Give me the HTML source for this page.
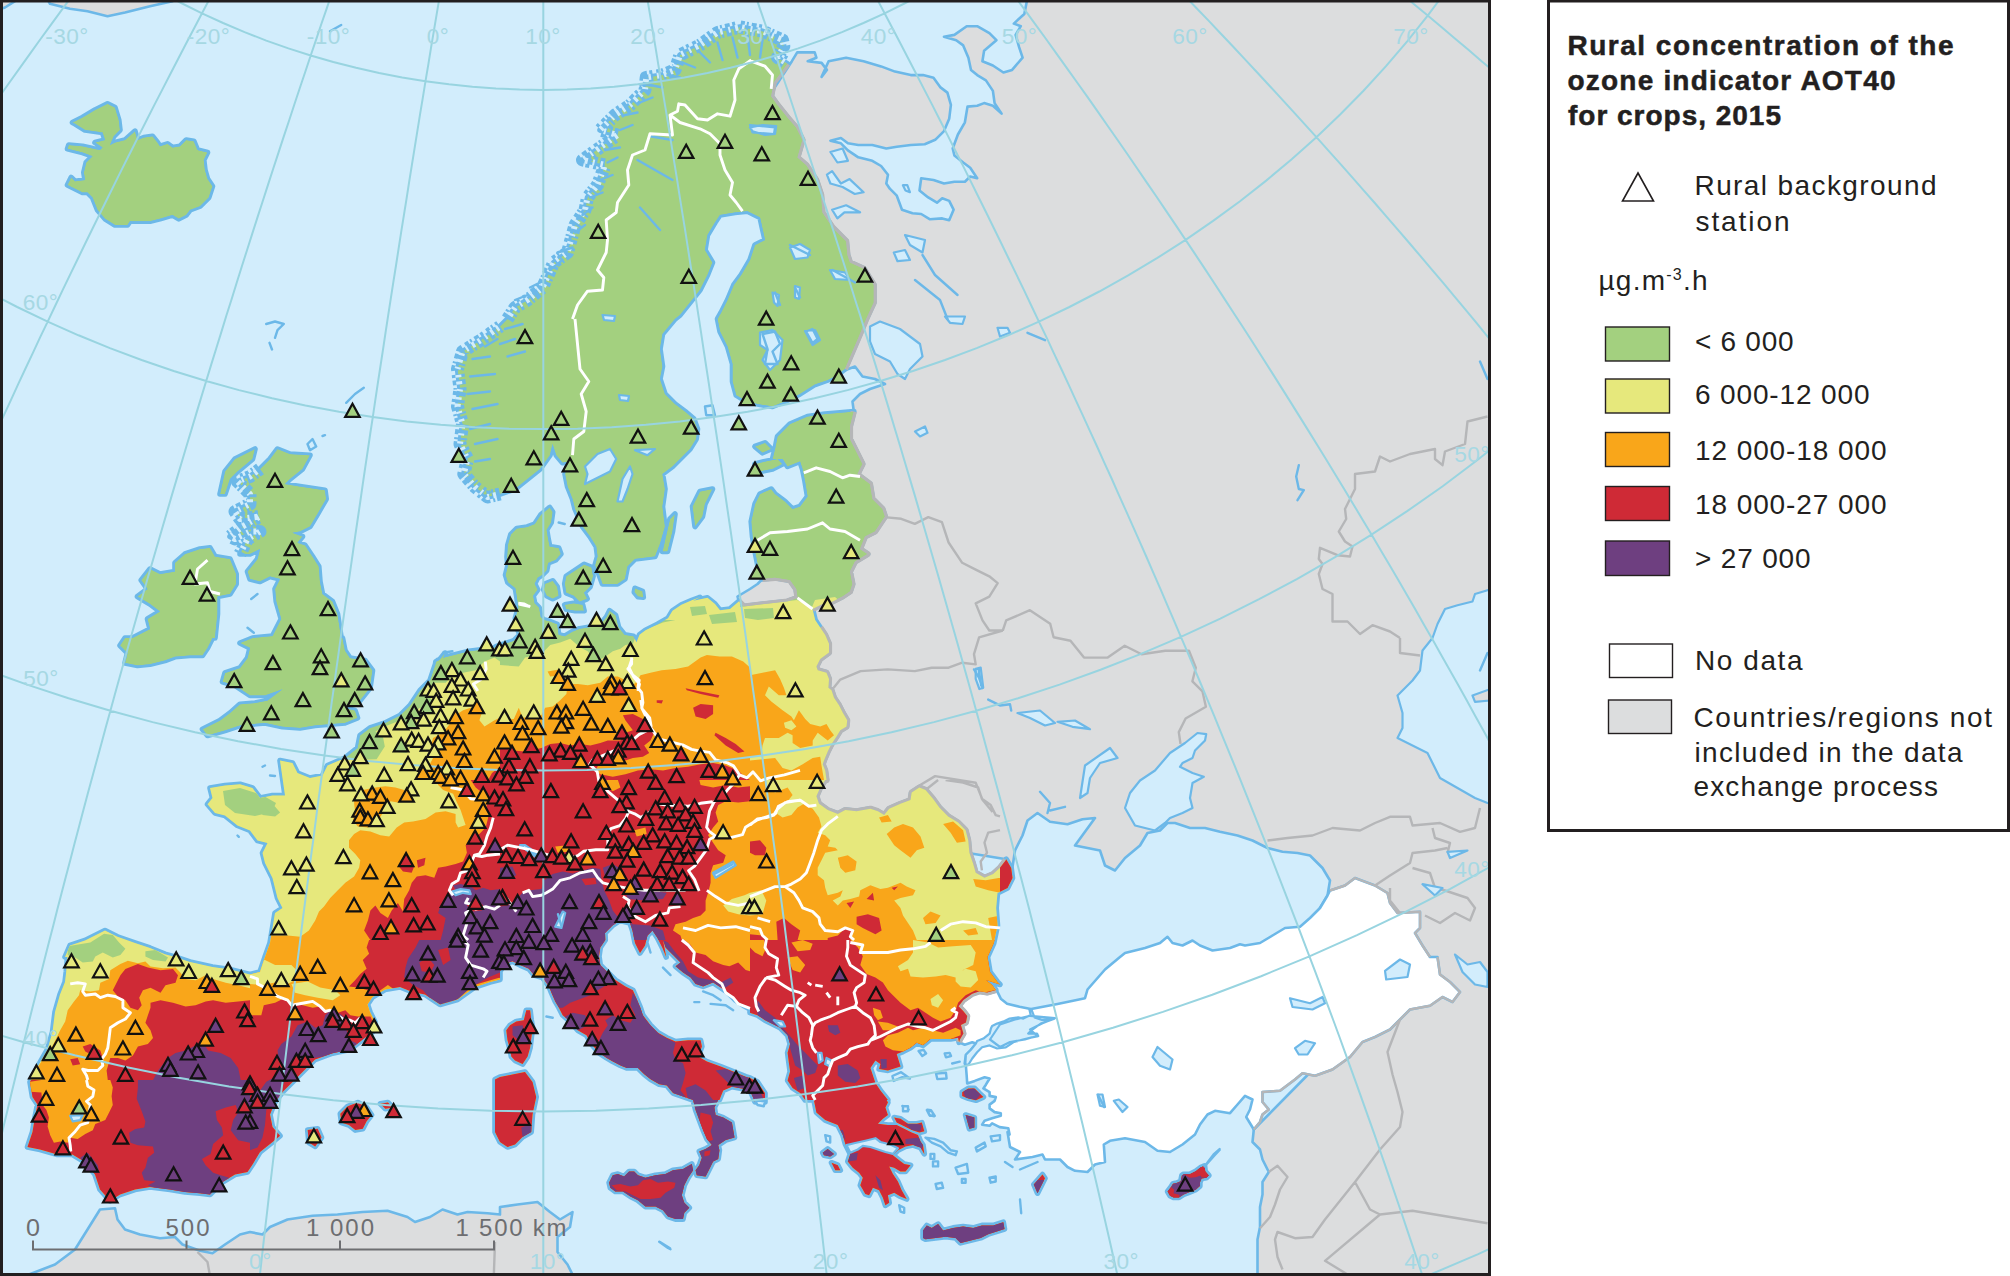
<!DOCTYPE html><html><head><meta charset="utf-8"><title>Rural concentration of the ozone indicator AOT40 for crops, 2015</title><style>
html,body{margin:0;padding:0;background:#fff}body{width:2010px;height:1276px;position:relative;overflow:hidden;font-family:"Liberation Sans",sans-serif;color:#231f20}
.t{position:absolute;white-space:nowrap;line-height:1;font-size:27.5px}
.b{font-weight:bold}
</style></head><body>
<svg width="2010" height="1276" viewBox="0 0 2010 1276" style="position:absolute;left:0;top:0">
<defs><clipPath id="mapclip"><rect x="0" y="0" width="1490" height="1275"/></clipPath>
<clipPath id="land"><path d="M445,653 L435,665.5 L430,680.5 L420,690.5 L410,705.5 L400,715.5 L385,723 L370,728 L360,735.5 L357.5,748 L345,758 L327.5,765.5 L322.5,775.5 L310,778 L297.5,773 L292.5,763 L280,760.5 L282.5,778 L285,795.5 L272.5,795.5 L260,798 L252.5,788 L240,784.2 L225,785.5 L210,788 L212.5,798 L207.5,804.2 L215,813 L225,815.5 L237.5,825.5 L250,830.5 L257.5,840.5 L267.5,843 L262.5,853 L265,863 L272.5,878 L275,888 L277.5,898 L282.5,908 L275,913 L272.5,928 L270,943 L265,957 L265,957 L260,972 L250,974.5 L230,969.5 L212.5,967 L190,962 L175,957 L165,954.2 L150,948 L135,943 L117.5,936.8 L105,930.5 L85,940.5 L70,945.5 L65,957 L67.5,957 L66.2,972 L65,982 L60,994.5 L55,1012 L52.5,1032 L47.5,1049.5 L37.5,1067 L30,1082 L32.5,1097 L37.5,1104.5 L35,1117 L32.5,1132 L27.5,1147 L40,1149.5 L57.5,1154.5 L72.5,1154.5 L85,1162 L95,1174.5 L100,1189.5 L110,1200.8 L120,1194.5 L135,1189.5 L150,1187 L170,1189.5 L185,1192 L200,1193.2 L210,1194.5 L222.5,1182 L235,1174.5 L247.5,1172 L252.5,1164.5 L260,1152 L272.5,1142 L280,1135.8 L272.5,1127 L270,1114.5 L275,1102 L282.5,1092 L292.5,1082 L302.5,1072 L315,1059.5 L332.5,1053.2 L350,1049.5 L362.5,1039.5 L372.5,1032 L375,1022 L370,1012 L367.5,1004.5 L372.5,997 L385,989.5 L400,987 L412.5,992 L425,994.5 L440,1004.5 L457.5,999.5 L475,987 L490,982 L500,979.5 L500,971.3 L505,963.8 L512.5,961.3 L520.1,965.1 L528.8,968.8 L533.9,975.1 L542.6,977.6 L548.9,986.4 L551.4,992.7 L555.2,1001.4 L558.9,1007.7 L562.7,1015.2 L570.2,1021.5 L577.7,1030.3 L586.5,1035.3 L591.5,1044.1 L599,1052.8 L606.6,1057.9 L612.8,1061.6 L620.4,1065.4 L626.6,1067.9 L637.9,1067.9 L644.2,1074.2 L650.5,1079.2 L659.2,1084.2 L666.8,1085.4 L673,1093 L693.1,1100 L695.6,1110 L699.3,1120.1 L703.1,1130.1 L706.9,1138.9 L711.9,1145.1 L705.6,1148.9 L699.3,1151.4 L701.9,1157.7 L699.3,1165.2 L695.6,1170.2 L696.8,1175.2 L705.6,1176.5 L709.4,1169 L713.1,1161.4 L718.2,1158.9 L719.4,1150.2 L718.2,1145.1 L725.7,1140.1 L734.5,1137.6 L733.2,1130.1 L731.9,1122.6 L723.2,1117.6 L715.6,1115 L714.4,1107.5 L718.2,1100 L719.4,1100 L723.2,1090.5 L731.9,1086.7 L745.7,1089.2 L750,1090.5 L755,1102 L765,1102 L765,1093.2 L757.5,1082 L750,1077.9 L745.7,1076.7 L733.2,1071.6 L720.7,1066.6 L706.9,1061.6 L698.1,1056.6 L701.9,1046.6 L700.6,1040.3 L688.1,1040.3 L675.5,1041.6 L666.8,1037.8 L658,1032.8 L650.5,1025.3 L642.9,1015.2 L640.4,1007.7 L636.7,998.9 L632.9,990.2 L625.4,986.4 L615.3,980.1 L607.8,972.6 L600.3,965.1 L599,956.3 L600.3,947.5 L605.3,940 L605,933 L612.5,925.5 L620,920.5 L630,923 L632.5,930.5 L635,943 L640,953 L645,945.5 L647.5,935.5 L652.5,930.5 L657.5,938 L662.5,948 L666.2,957 L663,940 L665.5,947.5 L673,955 L680.5,962.6 L675.5,966.3 L683,972.6 L690.6,977.6 L695.6,983.9 L703.1,986.4 L713.1,982.6 L720.7,987.6 L728.2,992.7 L735.7,1000.2 L743.2,1005.2 L750,1009 L750,1012.7 L757.5,1015.2 L765,1020.2 L772.6,1024 L780.1,1027.8 L787.6,1035.3 L790.1,1044.1 L787.6,1052.8 L788.9,1062.9 L790.1,1071.6 L787.6,1080.4 L792.6,1087.9 L800.2,1093 L805.2,1100 L813.9,1100 L816.4,1112.5 L825.2,1120.1 L837.8,1125.1 L842.8,1135.1 L845.3,1143.9 L850.3,1153.9 L847.8,1161.4 L852.8,1167.7 L859.1,1172.7 L862.8,1177.7 L860.3,1185.3 L865.3,1194 L869.1,1195.3 L872.9,1187.8 L879.1,1190.3 L882.9,1197.8 L885.4,1205.3 L889.2,1202.8 L887.9,1195.3 L894.2,1192.8 L900.5,1196.5 L906.7,1199 L901.7,1190.3 L897.9,1181.5 L892.9,1174 L889.2,1166.4 L894.2,1167.7 L900.5,1171.5 L905.5,1171.5 L910.5,1165.2 L904.2,1163.9 L899.2,1160.2 L892.9,1155.2 L897.9,1150.2 L905.5,1146.4 L913,1145.1 L920.5,1147.6 L924.3,1153.9 L923,1145.1 L920.5,1141.4 L918,1135.1 L911.7,1132.6 L904.2,1128.8 L896.7,1125.1 L887.9,1125.1 L877.9,1123.8 L882.9,1118.8 L887.9,1115 L885.4,1107.5 L887.9,1102.5 L886.7,1100 L887.9,1100 L885.4,1096.7 L880.4,1090.5 L875.4,1082.9 L872.9,1075.4 L870.4,1067.9 L875.4,1060.4 L880.4,1064.1 L879.1,1069.1 L887.9,1070.4 L900.5,1066.6 L897.9,1057.9 L896.7,1054.1 L903,1051.6 L910.5,1047.8 L916.8,1042.8 L923,1045.3 L930.5,1039 L940.6,1039 L950.6,1039 L958.1,1037.8 L959.1,1042.3 L959.7,1039.8 L963.4,1033.6 L960.9,1024.9 L965.9,1022.4 L967.2,1016.1 L963.4,1011.2 L958.5,1006.2 L963.4,999.9 L972.2,993.7 L979.6,991.2 L987.1,992.5 L995.8,990 L995.8,990 L992.1,985 L985.9,980 L1000,984.5 L997.5,982 L990,972 L987.5,957 L987.5,957 L993.8,943 L997.5,925.5 L996.2,908 L997.5,893 L1007.5,888 L1012.5,878 L1011.2,868 L1006.2,859.2 L1005.8,860.2 L1000,867.8 L993.2,874 L984.5,877.8 L975.7,872.8 L973.2,864 L969.4,852.7 L968.2,840.2 L965.6,830.2 L958.1,822.6 L948.1,816.4 L939.3,807.6 L933,798.8 L925.5,790 L919.3,787.5 L911.7,792.5 L910.5,800.1 L900.5,803.8 L889.2,808.8 L884.2,815.1 L877.9,811.3 L870.4,808.8 L856.6,811.3 L845.3,810.1 L837.8,813.9 L827.7,810.1 L819,803.8 L816.4,796.3 L820.2,787.5 L825.2,780 L826.5,780 L825.2,770.5 L822.7,764.2 L824,760.4 L827.7,751.6 L831.5,744.1 L836.5,736.6 L840.3,730.3 L846.5,726.6 L847.2,720.3 L842.8,712.8 L839,705.3 L834,697.7 L831.5,690.2 L828.4,687.7 L829,678.9 L826.5,672.7 L817.7,670.2 L816.4,666.4 L820.2,658.9 L829,652.6 L829,643.8 L825.2,635 L820.2,627.5 L815.2,620 L812.5,609 L822.5,604 L832.5,601.5 L842.5,596.5 L850,591.5 L852.5,584 L850,571.5 L855,561.5 L867.5,554 L860,549 L865,536.5 L875,531.5 L885,516.5 L882.5,509 L872.5,499 L870,484 L860,476.5 L857.5,474 L862.5,464 L857.5,454 L850,439 L850,426.5 L853.8,411.5 L853.8,411.5 L840,412.8 L825,414 L807.5,416.5 L790,424 L777.5,436.5 L775,449 L772.5,459 L782.5,459 L787.5,466.5 L800,461.5 L802.5,469 L805,481.5 L807.5,496.5 L800,506.5 L792.5,509 L785,501.5 L775,494 L771.2,489 L760,494 L755,504 L751.2,521.5 L752.5,536.5 L755,551.5 L757.5,564 L762.5,579 L762.5,579 L775,577.8 L790,580.2 L796.2,589 L797.5,597.8 L787.5,601.5 L765,604 L743.8,606.5 L738.8,601.5 L738.8,601.5 L730,609 L720,610.2 L715,604 L707.5,597.8 L690,601.5 L672.5,611.5 L700,597.3 L691.9,600.3 L681.4,604.8 L672.5,610.8 L668,618.3 L657.5,624.3 L645.5,630.2 L639.5,634.7 L636.5,642.2 L633.5,636.2 L624.6,634.7 L618.6,627.2 L615.6,615.3 L609.6,610.8 L606.6,616.8 L599.1,625.7 L588.6,627.2 L579.6,628.7 L572.2,631.7 L564.7,636.2 L558.7,634.7 L557.2,624.3 L549.7,621.3 L543.7,619.8 L540.7,616.8 L539.2,607.8 L534.7,603.3 L533.2,595.8 L537.7,589.8 L534.7,583.8 L537.7,577.8 L542.2,574.9 L546.7,570.4 L548.2,562.9 L555.7,559.9 L560.9,553.9 L558.7,547.9 L549.7,546.4 L548.2,538.9 L546.7,529.9 L551.2,522.5 L552.7,512 L549.7,507.5 L540.7,515 L534.7,524 L527.2,526.9 L516.8,528.4 L510.8,534.4 L507.8,544.9 L507,556.9 L507.8,565.9 L505.5,574.9 L507.8,582.3 L515.3,588.3 L516.8,597.3 L518.3,607.8 L515.3,618.3 L516.8,627.2 L519.8,634.7 L513.8,640.7 L504.8,643.7 L495.8,646.7 L489.8,651.2 L480.8,649.7 L468.9,651.2 L456.9,654.2 L444.9,657.2 L435.9,661.7 L432.9,676.6 L431.4,691ZM787.5,63.8 L781.2,72.5 L773.8,82.5 L771.2,96.2 L777.5,105 L787.5,117.5 L796.2,127.5 L802.5,140 L797.5,157.5 L806.2,165 L816.2,180 L821.2,195 L822.5,212.5 L832.5,227.5 L846.2,241.2 L847.5,255 L850,262.5 L863.8,268.8 L873.8,285 L873.8,302.5 L866.2,319 L860,334 L852.5,351.5 L845,369 L835,376.5 L827.5,380.2 L815,384.5 L800,394 L785,401.5 L772.5,406.5 L760,404.5 L747.5,402 L736.2,395.2 L732.5,381.5 L732.5,364 L727.5,346.5 L720,331.5 L717.5,319 L721.2,312.5 L727.5,300 L733.8,285 L741.2,275 L750,260 L755,245 L765,240 L762.5,228.8 L760,217.5 L747.5,211.2 L735,212.5 L720,215 L715,222.5 L707.5,235 L705,250 L712.5,262.5 L707.5,275 L700,290 L690,302.5 L680,315 L675,319 L662.5,334 L660,349 L662.5,366.5 L660,379 L665,394 L675,404 L685,411.5 L693.8,419 L697.5,429 L696.2,439 L690,449 L680,459 L672.5,466.5 L662.5,474 L665,489 L662.5,506.5 L665,526.5 L660,544 L655,556.5 L635,559 L627.5,566.5 L625,579 L617.5,584 L602.5,584 L598.8,574 L595,565.2 L597.5,556.5 L596.2,546.5 L590,536.5 L582.5,526.5 L575,509 L572.5,499 L567.5,486.5 L565,474 L568.8,461.5 L562.5,462.8 L556.2,455.2 L552.5,444 L550,455.2 L540,469 L527.5,479 L515,489 L500,494 L500,494 L487.5,497 L475,487 L463.8,474 L467.5,459 L460,444 L462.5,424 L457.5,406.5 L460,389 L457.5,369 L462.5,351.5 L482.5,339 L500,326.5 L507.5,319 L515,307.5 L527.5,300 L542.5,287.5 L553.8,262.5 L567.5,252.5 L575,225 L585,210 L587.5,197.5 L597.5,185 L605,165 L582.5,160 L600,147.5 L617.5,135 L600,130 L615,115 L630,105 L645,90 L646.2,77.5 L662.5,75 L675,70 L680,55 L700,45 L717.5,32.5 L740,27 L762.5,31.2 L782.5,40 L783.8,46.2 L777.5,57.5 L787.5,63.8ZM72.5,122.5 L82.5,117.5 L95,110 L107.5,103.8 L115,107.5 L118.8,120 L120,130 L113.8,136.2 L110,145 L115,142.5 L125,140 L135,131.2 L137.5,140 L143.8,137.5 L152.5,136.2 L157.5,142.5 L160,146.2 L167.5,143.8 L172.5,147.5 L180,146.2 L186.2,140 L193.8,141.2 L197.5,150 L207.5,152.5 L203.8,160 L205,170 L207.5,178.8 L212.5,186.2 L208.8,197.5 L200,206.2 L190,210 L186.2,215 L178.8,218.8 L172.5,215 L160,218.8 L150,221.2 L130,221.2 L127.5,225 L115,225 L105,218.8 L97.5,210 L92.5,197.5 L87.5,192.5 L82.5,192.5 L67.5,185 L71.2,177.5 L75,181.2 L85,180 L83.8,172.5 L86.2,162.5 L92.5,156.2 L82.5,152.5 L67.5,148.8 L68.8,145 L82.5,146.2 L93.8,148.8 L100,150 L102.5,147.5 L95,142.5 L105,140 L102.5,132.5 L85,130 L75,123.8ZM220,494 L225,471.5 L235,459 L255,449 L252.5,459 L237.5,471.5 L230,479 L225,494ZM692.5,506.5 L700,491.5 L712.5,489 L705,504 L702.5,516.5 L695,526.5ZM662.5,551.5 L670,519 L675,514 L672.5,531.5 L667.5,551.5ZM755,464 L765,461.5 L777.5,459 L782.5,464 L772.5,469 L760,471.5ZM755,446.5 L765,442.8 L771.2,449 L762.5,452.8ZM132.5,638 L150,629 L147.5,619 L160,611.5 L150,604 L137.5,596.5 L147.5,589 L141.2,580.2 L150,569 L160,574 L175,571.5 L175,562.8 L185,554 L200,549 L210,547.8 L215,556.5 L230,559 L236.2,574 L236.2,584 L230,594 L217.5,596.5 L217.5,614 L215,638 L212.5,638 L207.5,648 L202.5,655.5 L190,655.5 L175,656.8 L165,660.5 L150,664.2 L137.5,665.5 L125,663 L127.5,653 L120,645.5 L125,638ZM277.5,449 L290,454 L310,455.2 L302.5,469 L290,479 L285,484 L300,486.5 L325,490.2 L326.2,499 L317.5,514 L310,526.5 L300,531.5 L292.5,532.8 L302.5,536.5 L297.5,542.8 L305,545.2 L312.5,556.5 L318.8,566.5 L320,581.5 L322.5,594 L332.5,601.5 L337.5,614 L341.2,638 L342.5,638 L345,650.5 L350,658 L365,660.5 L372.5,670.5 L370,688 L360,700.5 L345,708 L355,710.5 L357.5,718 L345,723 L330,724.2 L315,725.5 L300,728 L282.5,726.8 L265,723 L252.5,724.2 L240,725.5 L225,730.5 L207.5,735.5 L202.5,729.2 L220,720.5 L230,713 L240,704.2 L255,703 L267.5,700.5 L282.5,689.2 L265,695.5 L250,695.5 L235,685.5 L222.5,681.8 L225,673 L240,668 L247.5,658 L250,648 L240,643 L252.5,638 L252.5,638 L272.5,636 L281.2,619 L276.2,601.5 L275,589 L280,579 L270,576.5 L260,581.5 L250,579 L247.5,571.5 L257.5,559 L260,549 L250,554 L240,554 L247.5,539 L260,531.5 L250,531.5 L235,539 L230,536.5 L242.5,526.5 L260,516.5 L240,519 L235,511.5 L250,504 L250,494 L237.5,481.5 L250,476.5 L260,469 L270,459 L277.5,449ZM1167.6,1191.5 L1171.2,1186.7 L1173,1183.7 L1176.6,1183.1 L1180.7,1181.3 L1181.9,1175.4 L1183.7,1174.2 L1189.7,1174.2 L1195.7,1171.2 L1200.4,1167.6 L1204.6,1165.8 L1205.2,1171.2 L1208.8,1175.4 L1206.4,1177.8 L1201.6,1178.4 L1199.9,1182.5 L1199.9,1186.1 L1195.7,1189.7 L1189.7,1192.1 L1183.7,1194.5 L1179,1197.5 L1173.6,1197.5 L1170,1195.7ZM1033.8,1184.5 L1042.5,1174.5 L1045,1178.2 L1037.5,1193.2ZM495,1079.5 L500,1077 L512.5,1074.5 L525,1072 L532.5,1082 L536.2,1097 L532.5,1114.5 L531.2,1132 L522.5,1137 L515,1144.5 L507.5,1147 L500,1142 L495,1132ZM545.2,583.8 L552.7,580.8 L557.2,586.8 L558.7,595.8 L552.7,598.8 L546.7,595.8 L543.7,589.8ZM566.2,576.3 L575.1,570.4 L584.1,564.4 L591.6,567.4 L593.1,576.3 L590.1,586.8 L584.1,592.8 L587.1,598.8 L579.6,601.8 L573.7,595.8 L566.2,592.8 L564.7,583.8ZM564.7,604.8 L573.7,603.3 L582.6,604.8 L584.1,610.8 L575.1,610.8 L566.2,609.3ZM635,588.3 L642.5,591.3 L643.3,597.3 L638,596.6 L634.3,592.1ZM962.2,1092.2 L968.4,1088.4 L974.7,1088.4 L979.6,1093.4 L983.4,1097.1 L975.9,1100.3 L968.4,1098.4 L962.2,1095.9ZM506.3,1030.3 L510,1025.3 L516.3,1021.5 L523.8,1020.2 L526.3,1010.2 L530.1,1010.2 L531.3,1020.2 L532.6,1027.8 L531.3,1037.8 L530.1,1047.8 L527.6,1056.6 L522.6,1064.1 L515,1060.4 L511.3,1056.6 L510,1049.1 L507.5,1040.3ZM307.7,1130.1 L317.7,1128.8 L321.5,1137.6 L315.2,1146.4 L308.9,1142.6ZM340.3,1113.8 L347.8,1106.3 L357.8,1102.5 L366.6,1107.5 L371.6,1115 L366.6,1121.3 L362.8,1128.8 L355.3,1130.1 L349,1125.1 L341.5,1122.6ZM380.4,1103.8 L387.9,1102.5 L392.9,1107.5 L385.4,1108.8ZM609.1,1182.7 L612.8,1175.2 L617.9,1174 L624.1,1176.5 L629.1,1171.5 L634.2,1171.5 L637.9,1175.2 L645.4,1177.7 L655.5,1175.2 L665.5,1174 L673,1170.2 L683,1169 L691.8,1163.9 L693.1,1170.2 L688.1,1177.7 L684.3,1185.3 L681.8,1195.3 L684.3,1202.8 L689.3,1207.8 L684.3,1212.8 L683,1219.1 L675.5,1219.1 L668,1216.6 L663,1210.3 L655.5,1206.6 L645.4,1206.6 L637.9,1200.3 L630.4,1196.5 L622.9,1191.5 L615.3,1191.5 L610.3,1187.8ZM894.2,1117.6 L900.5,1118.8 L908,1123.8 L916.8,1123.8 L921.8,1122.6 L924.3,1131.3 L919.3,1132.6 L911.7,1130.1 L904.2,1126.3 L896.7,1122.6ZM923,1237.9 L923,1230.4 L926.8,1225.4 L931.8,1227.9 L938.1,1224.1 L943.1,1230.4 L953.1,1227.9 L963.1,1226.6 L973.2,1227.9 L981.9,1225.4 L993.2,1225.4 L1003.3,1222.2 L1004.5,1229.1 L988.2,1234.2 L980.7,1237.9 L970.7,1240.4 L960.6,1242.9 L955.6,1237.9 L945.6,1236.7 L935.6,1237.9 L925.5,1239.2ZM822.7,1152.7 L827.7,1148.9 L834,1153.9 L830.2,1156.4 L824,1155.2ZM831.5,1162.7 L837.8,1165.2 L840.3,1170.2 L835.3,1170.2ZM965.6,1115 L974.4,1117.6 L974.4,1127.6 L969.4,1128.8Z"/></clipPath></defs>
<g clip-path="url(#mapclip)">
<rect x="0" y="0" width="1490" height="1276" fill="#d2edfc"/>
<path d="M791.9,61.2 L797.2,52.4 L814.7,52.4 L816.4,57.7 L807.7,61.2 L821.6,62.9 L826.9,69.9 L821.6,76.9 L828.6,61.2 L846.1,57.7 L863.6,61.2 L881.1,66.4 L895,71.6 L910.8,75.1 L923,75.1 L933.5,77.8 L940.5,87.4 L947.4,92.6 L950.9,104.8 L949.2,118.8 L944,131.1 L935.2,139.8 L924.7,144.2 L910.8,145 L896.8,146.8 L886.3,148.5 L872.3,145 L858.3,145 L847.9,143.3 L840.9,138 L830.4,140.7 L840.9,143.3 L847.9,150.3 L858.3,157.3 L872.3,160.8 L881.1,166 L888,174.7 L886.3,183.5 L889.8,188.7 L896.8,195.7 L902,209.7 L912.5,213.2 L921.2,214 L930,219.3 L942.2,218.4 L949.2,220.2 L953.6,209.7 L949.2,200.9 L942.2,198.3 L937,202.7 L928.2,197.4 L919.5,190.5 L921.2,178.2 L933.5,180 L944,183.5 L954.4,181.7 L964.9,181.7 L970.2,176.5 L977.2,178.2 L970.2,167.7 L963.2,162.5 L954.4,155.5 L952.7,148.5 L957.9,134.5 L964.9,122.3 L967.5,106.6 L977.2,105.7 L984.1,103.1 L992.9,105.7 L1001.6,113.6 L994.6,103.1 L992.9,90.9 L985.9,80.4 L977.2,75.1 L971,69.9 L968.4,57.7 L963.2,45.4 L956.2,40.2 L944,36.7 L954.4,34.9 L966.7,26.2 L977.2,26.2 L989.4,33.2 L996.4,40.2 L984.1,50.7 L982.4,61.2 L992.9,65.5 L1003.4,72.5 L1012.1,69.9 L1022.6,57.7 L1019.1,47.2 L1015.6,34.9 L1020.8,26.2 L1013.8,23.6 L1024.3,14 L1027.8,-3.5 L1500,-10 L1500,1290 L1257.5,1279.5 L1257.5,1257 L1257.5,1239.5 L1260,1227 L1260,1207 L1262.5,1194.5 L1262.5,1182 L1268.8,1172 L1262.5,1159.5 L1260,1149.5 L1252.5,1142 L1253.8,1129.5 L1350,1032 L1350,913 L1320,908 L1327.5,895.5 L1330,880.5 L1322.5,868 L1310,855.5 L1297.5,853 L1282.5,851.8 L1267.5,848 L1252.5,840.5 L1237.5,835.5 L1220,831.8 L1205,828 L1190,828 L1175,823 L1167.5,823 L1160,830.5 L1147.5,833 L1140,845.5 L1125,858 L1115,870.5 L1105,865.5 L1100,850.5 L1075,845.5 L1095,818 L1082.5,819.2 L1067.5,824.2 L1050,821.8 L1037.5,813 L1027.5,820.5 L1022.5,835.5 L1015,850.5 L1011.2,875.5 L1006.2,859.2 L950,850 L900,830 L840,830 L800,790 L790,650 L800,600 L840,530 L830,430 L853.8,411.5 L852.5,401.5 L860,394 L870,389 L885,384 L875,379 L862.5,376.5 L855,366.5 L845,370.2 L840,300 L790,200 L760,110ZM762.5,579 L775,577.8 L790,580.2 L796.2,589 L797.5,597.8 L787.5,601.5 L765,604 L743.8,606.5 L738.8,601.5 L737.5,596.5 L750,589 L757.5,584ZM45,-5 L50,3.8 L70,8.8 L87.5,11.2 L107.5,16.2 L125,12.5 L150,6.2 L172.5,1.2 L175,-5ZM-2.5,-2.5 L15,1.2 L5,7.5 L-2.5,10ZM25,1276 L55,1264.5 L75,1249.5 L87.5,1229.5 L100,1209.5 L115,1208.2 L117.5,1219.5 L125,1229.5 L140,1234.5 L160,1238.2 L175,1237 L182.5,1244.5 L200,1250.8 L212.5,1253.2 L225,1244.5 L240,1234.5 L250,1232 L262.5,1234.5 L270,1227 L287.5,1219.5 L312.5,1215.8 L337.5,1214.5 L362.5,1212 L387.5,1210.8 L407.5,1217 L415,1222 L430,1217 L442.5,1209.5 L457.5,1214.5 L467.5,1212 L487.5,1213.2 L500,1214.5 L500,1207 L517.5,1204.5 L537.5,1202 L550,1212 L560,1219.5 L572.5,1212 L570,1227 L557.5,1237 L557.5,1252 L567.5,1264.5 L575,1279.5 L560,1290 L-10,1290Z" fill="#dcddde" stroke="#6cb8e8" stroke-width="2.6" stroke-linejoin="round"/>
<path d="M995.8,990 L997.1,991.2 L1000.8,998.7 L1007.1,1003.7 L1019.5,1006.8 L1029.5,1008.7 L1031.2,1009 L1057.5,1004 L1085,998.2 L1087.5,989.5 L1105,969.5 L1120,957 L1120,957 L1125,953 L1145,948 L1160,943 L1167.5,936.8 L1172.5,943 L1182.5,945.5 L1192.5,940.5 L1200,945.5 L1212.5,950.5 L1230,948 L1240,944.2 L1245,945.5 L1260,943 L1272.5,935.5 L1285,928 L1300,926.8 L1310,918 L1320,908 L1327.5,895.5 L1330,890.5 L1345,885.5 L1355,878 L1375,885.5 L1387.5,893 L1390,903 L1397.5,913 L1420,911.8 L1420,928 L1415,933 L1422.5,945.5 L1430,957 L1437.5,957 L1440,974.5 L1450,982 L1460,992 L1452.5,1002 L1442.5,997 L1430,1005.8 L1410,1009.5 L1400,1019.5 L1390,1029.5 L1375,1037 L1362.5,1042 L1350,1057 L1332.5,1069.5 L1315,1075.8 L1302.5,1073.2 L1295,1079.5 L1280,1090.8 L1262.5,1092 L1262.5,1102 L1268.8,1109.5 L1262.5,1114.5 L1260,1122 L1253.8,1129.5 L1253.8,1129.5 L1246.2,1117 L1250,1109.5 L1252.5,1099.5 L1245,1095.8 L1237.5,1104.5 L1230,1113.2 L1215,1110.8 L1207.5,1114.5 L1200,1124.5 L1195,1134.5 L1182.5,1144.5 L1170,1152 L1157.5,1150.8 L1145,1142 L1125,1138.2 L1110,1140.8 L1103.8,1144.5 L1105,1162 L1095,1164.5 L1087.5,1172 L1075,1170.8 L1067.5,1167 L1060,1159.5 L1045,1159.5 L1042.5,1154.5 L1032.5,1157 L1015,1159.5 L1020,1152 L1010,1147 L1007.5,1132 L1009.6,1134.5 L1008.3,1128.3 L999.6,1127.1 L992.1,1123.3 L989.6,1125.8 L982.1,1124.6 L984.6,1120.8 L992.1,1118.3 L1000.8,1115.8 L1000.8,1113.3 L994.6,1112.1 L989.6,1108.4 L989.6,1104.6 L994.6,1100.9 L995.8,1097.1 L989.6,1095.9 L989.6,1092.2 L983.4,1088.4 L985.9,1084.7 L989.6,1078.5 L984.6,1077.2 L974.7,1080.9 L967.2,1083.4 L966.6,1074.7 L965.9,1066 L964.7,1063.5 L965.9,1054.8 L970.9,1049.8 L975.9,1043.6 L972.2,1042.3 L964.7,1044.8 L959.1,1042.3 L959.1,1042.3 L959.7,1039.8 L963.4,1033.6 L960.9,1024.9 L965.9,1022.4 L967.2,1016.1 L963.4,1011.2 L958.5,1006.2 L963.4,999.9 L972.2,993.7 L979.6,991.2 L987.1,992.5 L995.8,990Z" fill="#fff" stroke="#6cb8e8" stroke-width="2.6" stroke-linejoin="round"/>
<path d="M1487.5,416.5 L1467.5,421.5 L1465,444 L1445,451.5 L1442.5,465.2 L1435,459 L1435,449 L1410,454 L1390,461.5 L1380,456.5 L1375,471.5 L1355,474 L1355,489 L1345,509 L1346.2,519 L1338.8,531.5 L1345,541.5 L1352.5,546.5 L1350,556.5 L1337.5,555.2 L1320,547.8 L1318.8,559 L1322.5,564 L1318.8,574 L1322.5,589 L1332.5,594 L1332.5,621.5 L1347.5,621.5 L1360,634 L1372.5,625.2 L1390,631.5 L1400,638M197.5,1252 L207.5,1262 L210,1276M495,1242 L493.8,1276M1267.5,840.5 L1287.5,838 L1312.5,835.5 L1332.5,828 L1360,830.5 L1375,823 L1390,816.8 L1410,816.8 L1412.5,825.5 L1440,823 L1460,831.8 L1475,828 L1480,808M1330,890.5 L1345,885.5 L1355,878 L1375,885.5 L1390,875.5 L1410,863 L1412.5,853 L1435,850.5 L1447.5,848M1432.5,828 L1435,838 L1450,843 L1447.5,853M1412.5,868 L1430,873 L1435,888 L1445,890.5 L1467.5,898 L1475,908 L1470,920.5 L1455,913 L1440,923 L1425,915.5M1390,888 L1390,900.5 L1400,913 L1420,911.8 L1420,928 L1415,933 L1422.5,945.5 L1430,957M1400,638 L1400,653 L1420,655.5M1400,1019.5 L1387.5,1052 L1392.5,1074.5 L1397.5,1092 L1402.5,1112 L1400,1127 L1380,1149.5 L1355,1182 L1325,1219.5 L1312.5,1237 L1295,1238.2 L1277.5,1232 L1275,1239.5 L1277.5,1257 L1282.5,1269.5M1268.8,1172 L1277.5,1165.8 L1287.5,1177 L1280,1189.5 L1275,1204.5 L1270,1217 L1260,1228.2M1355,1182 L1370,1209.5 L1380,1214.5 L1412.5,1210.8 L1450,1217 L1487.5,1223.2M1380,1214.5 L1325,1260.8 L1350,1276M925.5,790 L938.1,780M945.6,780 L963.1,782.5 L978.2,787.5 L981.9,798.8 L990.7,805.1 L995.7,815.1 L1000,816.4M1000,830.2 L988.2,832.7 L984.5,842.7 L987,852.7 L980.7,861.5 L981.9,870.3M884.3,517.1 L901.2,518.8 L914.8,523.9 L928.3,517.1 L941.9,522.2 L948.6,542.5 L962.2,562.8 L975.7,569.6 L989.3,576.3 L997.7,583.1 L989.3,596.7 L975.7,603.4 L982.5,620.4 L989.3,630.5 L1002.8,630.5M1002.8,630.5 L979.1,637.3 L974,654.2 L975.7,664.4 L962.2,662.7 L948.6,667.7 L931.7,667.7 L914.8,671.1 L887.7,669.4 L860.6,671.1 L840.3,679.6 L833.5,688.1M1002.8,630.5 L1006.2,620.4 L1029.9,610.2 L1050.2,623.7 L1053.6,637.3 L1070.5,640.7 L1084,657.6 L1107.7,657.6 L1124.7,645.7 L1141.6,654.2 L1165.3,650.8 L1189,650.8 L1195.8,667.7 L1192.4,681.3 L1202.5,691.4 L1205.9,706.7 L1185.6,718.5 L1178.8,732.1 L1180.5,743.9M918.2,786.2 L935.1,776.1 L955.4,779.5 L975.7,782.8 L982.5,799.8 L992.6,812M1330,890.5 L1345,885.5 L1355,878 L1375,885.5 L1387.5,893 L1390,903 L1397.5,913 L1420,911.8 L1420,928 L1415,933 L1422.5,945.5 L1430,957M1253.8,1129.5 L1260,1122 L1262.5,1114.5 L1268.8,1109.5 L1262.5,1102 L1262.5,1092 L1280,1090.8 L1295,1079.5 L1302.5,1073.2 L1315,1075.8 L1332.5,1069.5 L1350,1057 L1362.5,1042 L1375,1037 L1390,1029.5 L1400,1019.5 L1410,1009.5 L1430,1005.8 L1442.5,997 L1452.5,1002 L1460,992 L1450,982 L1440,974.5 L1437.5,957" fill="none" stroke="#b5b6b8" stroke-width="2.4" stroke-linejoin="round"/>
<path d="M445,653 L435,665.5 L430,680.5 L420,690.5 L410,705.5 L400,715.5 L385,723 L370,728 L360,735.5 L357.5,748 L345,758 L327.5,765.5 L322.5,775.5 L310,778 L297.5,773 L292.5,763 L280,760.5 L282.5,778 L285,795.5 L272.5,795.5 L260,798 L252.5,788 L240,784.2 L225,785.5 L210,788 L212.5,798 L207.5,804.2 L215,813 L225,815.5 L237.5,825.5 L250,830.5 L257.5,840.5 L267.5,843 L262.5,853 L265,863 L272.5,878 L275,888 L277.5,898 L282.5,908 L275,913 L272.5,928 L270,943 L265,957 L265,957 L260,972 L250,974.5 L230,969.5 L212.5,967 L190,962 L175,957 L165,954.2 L150,948 L135,943 L117.5,936.8 L105,930.5 L85,940.5 L70,945.5 L65,957 L67.5,957 L66.2,972 L65,982 L60,994.5 L55,1012 L52.5,1032 L47.5,1049.5 L37.5,1067 L30,1082 L32.5,1097 L37.5,1104.5 L35,1117 L32.5,1132 L27.5,1147 L40,1149.5 L57.5,1154.5 L72.5,1154.5 L85,1162 L95,1174.5 L100,1189.5 L110,1200.8 L120,1194.5 L135,1189.5 L150,1187 L170,1189.5 L185,1192 L200,1193.2 L210,1194.5 L222.5,1182 L235,1174.5 L247.5,1172 L252.5,1164.5 L260,1152 L272.5,1142 L280,1135.8 L272.5,1127 L270,1114.5 L275,1102 L282.5,1092 L292.5,1082 L302.5,1072 L315,1059.5 L332.5,1053.2 L350,1049.5 L362.5,1039.5 L372.5,1032 L375,1022 L370,1012 L367.5,1004.5 L372.5,997 L385,989.5 L400,987 L412.5,992 L425,994.5 L440,1004.5 L457.5,999.5 L475,987 L490,982 L500,979.5 L500,971.3 L505,963.8 L512.5,961.3 L520.1,965.1 L528.8,968.8 L533.9,975.1 L542.6,977.6 L548.9,986.4 L551.4,992.7 L555.2,1001.4 L558.9,1007.7 L562.7,1015.2 L570.2,1021.5 L577.7,1030.3 L586.5,1035.3 L591.5,1044.1 L599,1052.8 L606.6,1057.9 L612.8,1061.6 L620.4,1065.4 L626.6,1067.9 L637.9,1067.9 L644.2,1074.2 L650.5,1079.2 L659.2,1084.2 L666.8,1085.4 L673,1093 L693.1,1100 L695.6,1110 L699.3,1120.1 L703.1,1130.1 L706.9,1138.9 L711.9,1145.1 L705.6,1148.9 L699.3,1151.4 L701.9,1157.7 L699.3,1165.2 L695.6,1170.2 L696.8,1175.2 L705.6,1176.5 L709.4,1169 L713.1,1161.4 L718.2,1158.9 L719.4,1150.2 L718.2,1145.1 L725.7,1140.1 L734.5,1137.6 L733.2,1130.1 L731.9,1122.6 L723.2,1117.6 L715.6,1115 L714.4,1107.5 L718.2,1100 L719.4,1100 L723.2,1090.5 L731.9,1086.7 L745.7,1089.2 L750,1090.5 L755,1102 L765,1102 L765,1093.2 L757.5,1082 L750,1077.9 L745.7,1076.7 L733.2,1071.6 L720.7,1066.6 L706.9,1061.6 L698.1,1056.6 L701.9,1046.6 L700.6,1040.3 L688.1,1040.3 L675.5,1041.6 L666.8,1037.8 L658,1032.8 L650.5,1025.3 L642.9,1015.2 L640.4,1007.7 L636.7,998.9 L632.9,990.2 L625.4,986.4 L615.3,980.1 L607.8,972.6 L600.3,965.1 L599,956.3 L600.3,947.5 L605.3,940 L605,933 L612.5,925.5 L620,920.5 L630,923 L632.5,930.5 L635,943 L640,953 L645,945.5 L647.5,935.5 L652.5,930.5 L657.5,938 L662.5,948 L666.2,957 L663,940 L665.5,947.5 L673,955 L680.5,962.6 L675.5,966.3 L683,972.6 L690.6,977.6 L695.6,983.9 L703.1,986.4 L713.1,982.6 L720.7,987.6 L728.2,992.7 L735.7,1000.2 L743.2,1005.2 L750,1009 L750,1012.7 L757.5,1015.2 L765,1020.2 L772.6,1024 L780.1,1027.8 L787.6,1035.3 L790.1,1044.1 L787.6,1052.8 L788.9,1062.9 L790.1,1071.6 L787.6,1080.4 L792.6,1087.9 L800.2,1093 L805.2,1100 L813.9,1100 L816.4,1112.5 L825.2,1120.1 L837.8,1125.1 L842.8,1135.1 L845.3,1143.9 L850.3,1153.9 L847.8,1161.4 L852.8,1167.7 L859.1,1172.7 L862.8,1177.7 L860.3,1185.3 L865.3,1194 L869.1,1195.3 L872.9,1187.8 L879.1,1190.3 L882.9,1197.8 L885.4,1205.3 L889.2,1202.8 L887.9,1195.3 L894.2,1192.8 L900.5,1196.5 L906.7,1199 L901.7,1190.3 L897.9,1181.5 L892.9,1174 L889.2,1166.4 L894.2,1167.7 L900.5,1171.5 L905.5,1171.5 L910.5,1165.2 L904.2,1163.9 L899.2,1160.2 L892.9,1155.2 L897.9,1150.2 L905.5,1146.4 L913,1145.1 L920.5,1147.6 L924.3,1153.9 L923,1145.1 L920.5,1141.4 L918,1135.1 L911.7,1132.6 L904.2,1128.8 L896.7,1125.1 L887.9,1125.1 L877.9,1123.8 L882.9,1118.8 L887.9,1115 L885.4,1107.5 L887.9,1102.5 L886.7,1100 L887.9,1100 L885.4,1096.7 L880.4,1090.5 L875.4,1082.9 L872.9,1075.4 L870.4,1067.9 L875.4,1060.4 L880.4,1064.1 L879.1,1069.1 L887.9,1070.4 L900.5,1066.6 L897.9,1057.9 L896.7,1054.1 L903,1051.6 L910.5,1047.8 L916.8,1042.8 L923,1045.3 L930.5,1039 L940.6,1039 L950.6,1039 L958.1,1037.8 L959.1,1042.3 L959.7,1039.8 L963.4,1033.6 L960.9,1024.9 L965.9,1022.4 L967.2,1016.1 L963.4,1011.2 L958.5,1006.2 L963.4,999.9 L972.2,993.7 L979.6,991.2 L987.1,992.5 L995.8,990 L995.8,990 L992.1,985 L985.9,980 L1000,984.5 L997.5,982 L990,972 L987.5,957 L987.5,957 L993.8,943 L997.5,925.5 L996.2,908 L997.5,893 L1007.5,888 L1012.5,878 L1011.2,868 L1006.2,859.2 L1005.8,860.2 L1000,867.8 L993.2,874 L984.5,877.8 L975.7,872.8 L973.2,864 L969.4,852.7 L968.2,840.2 L965.6,830.2 L958.1,822.6 L948.1,816.4 L939.3,807.6 L933,798.8 L925.5,790 L919.3,787.5 L911.7,792.5 L910.5,800.1 L900.5,803.8 L889.2,808.8 L884.2,815.1 L877.9,811.3 L870.4,808.8 L856.6,811.3 L845.3,810.1 L837.8,813.9 L827.7,810.1 L819,803.8 L816.4,796.3 L820.2,787.5 L825.2,780 L826.5,780 L825.2,770.5 L822.7,764.2 L824,760.4 L827.7,751.6 L831.5,744.1 L836.5,736.6 L840.3,730.3 L846.5,726.6 L847.2,720.3 L842.8,712.8 L839,705.3 L834,697.7 L831.5,690.2 L828.4,687.7 L829,678.9 L826.5,672.7 L817.7,670.2 L816.4,666.4 L820.2,658.9 L829,652.6 L829,643.8 L825.2,635 L820.2,627.5 L815.2,620 L812.5,609 L822.5,604 L832.5,601.5 L842.5,596.5 L850,591.5 L852.5,584 L850,571.5 L855,561.5 L867.5,554 L860,549 L865,536.5 L875,531.5 L885,516.5 L882.5,509 L872.5,499 L870,484 L860,476.5 L857.5,474 L862.5,464 L857.5,454 L850,439 L850,426.5 L853.8,411.5 L853.8,411.5 L840,412.8 L825,414 L807.5,416.5 L790,424 L777.5,436.5 L775,449 L772.5,459 L782.5,459 L787.5,466.5 L800,461.5 L802.5,469 L805,481.5 L807.5,496.5 L800,506.5 L792.5,509 L785,501.5 L775,494 L771.2,489 L760,494 L755,504 L751.2,521.5 L752.5,536.5 L755,551.5 L757.5,564 L762.5,579 L762.5,579 L775,577.8 L790,580.2 L796.2,589 L797.5,597.8 L787.5,601.5 L765,604 L743.8,606.5 L738.8,601.5 L738.8,601.5 L730,609 L720,610.2 L715,604 L707.5,597.8 L690,601.5 L672.5,611.5 L700,597.3 L691.9,600.3 L681.4,604.8 L672.5,610.8 L668,618.3 L657.5,624.3 L645.5,630.2 L639.5,634.7 L636.5,642.2 L633.5,636.2 L624.6,634.7 L618.6,627.2 L615.6,615.3 L609.6,610.8 L606.6,616.8 L599.1,625.7 L588.6,627.2 L579.6,628.7 L572.2,631.7 L564.7,636.2 L558.7,634.7 L557.2,624.3 L549.7,621.3 L543.7,619.8 L540.7,616.8 L539.2,607.8 L534.7,603.3 L533.2,595.8 L537.7,589.8 L534.7,583.8 L537.7,577.8 L542.2,574.9 L546.7,570.4 L548.2,562.9 L555.7,559.9 L560.9,553.9 L558.7,547.9 L549.7,546.4 L548.2,538.9 L546.7,529.9 L551.2,522.5 L552.7,512 L549.7,507.5 L540.7,515 L534.7,524 L527.2,526.9 L516.8,528.4 L510.8,534.4 L507.8,544.9 L507,556.9 L507.8,565.9 L505.5,574.9 L507.8,582.3 L515.3,588.3 L516.8,597.3 L518.3,607.8 L515.3,618.3 L516.8,627.2 L519.8,634.7 L513.8,640.7 L504.8,643.7 L495.8,646.7 L489.8,651.2 L480.8,649.7 L468.9,651.2 L456.9,654.2 L444.9,657.2 L435.9,661.7 L432.9,676.6 L431.4,691ZM787.5,63.8 L781.2,72.5 L773.8,82.5 L771.2,96.2 L777.5,105 L787.5,117.5 L796.2,127.5 L802.5,140 L797.5,157.5 L806.2,165 L816.2,180 L821.2,195 L822.5,212.5 L832.5,227.5 L846.2,241.2 L847.5,255 L850,262.5 L863.8,268.8 L873.8,285 L873.8,302.5 L866.2,319 L860,334 L852.5,351.5 L845,369 L835,376.5 L827.5,380.2 L815,384.5 L800,394 L785,401.5 L772.5,406.5 L760,404.5 L747.5,402 L736.2,395.2 L732.5,381.5 L732.5,364 L727.5,346.5 L720,331.5 L717.5,319 L721.2,312.5 L727.5,300 L733.8,285 L741.2,275 L750,260 L755,245 L765,240 L762.5,228.8 L760,217.5 L747.5,211.2 L735,212.5 L720,215 L715,222.5 L707.5,235 L705,250 L712.5,262.5 L707.5,275 L700,290 L690,302.5 L680,315 L675,319 L662.5,334 L660,349 L662.5,366.5 L660,379 L665,394 L675,404 L685,411.5 L693.8,419 L697.5,429 L696.2,439 L690,449 L680,459 L672.5,466.5 L662.5,474 L665,489 L662.5,506.5 L665,526.5 L660,544 L655,556.5 L635,559 L627.5,566.5 L625,579 L617.5,584 L602.5,584 L598.8,574 L595,565.2 L597.5,556.5 L596.2,546.5 L590,536.5 L582.5,526.5 L575,509 L572.5,499 L567.5,486.5 L565,474 L568.8,461.5 L562.5,462.8 L556.2,455.2 L552.5,444 L550,455.2 L540,469 L527.5,479 L515,489 L500,494 L500,494 L487.5,497 L475,487 L463.8,474 L467.5,459 L460,444 L462.5,424 L457.5,406.5 L460,389 L457.5,369 L462.5,351.5 L482.5,339 L500,326.5 L507.5,319 L515,307.5 L527.5,300 L542.5,287.5 L553.8,262.5 L567.5,252.5 L575,225 L585,210 L587.5,197.5 L597.5,185 L605,165 L582.5,160 L600,147.5 L617.5,135 L600,130 L615,115 L630,105 L645,90 L646.2,77.5 L662.5,75 L675,70 L680,55 L700,45 L717.5,32.5 L740,27 L762.5,31.2 L782.5,40 L783.8,46.2 L777.5,57.5 L787.5,63.8ZM72.5,122.5 L82.5,117.5 L95,110 L107.5,103.8 L115,107.5 L118.8,120 L120,130 L113.8,136.2 L110,145 L115,142.5 L125,140 L135,131.2 L137.5,140 L143.8,137.5 L152.5,136.2 L157.5,142.5 L160,146.2 L167.5,143.8 L172.5,147.5 L180,146.2 L186.2,140 L193.8,141.2 L197.5,150 L207.5,152.5 L203.8,160 L205,170 L207.5,178.8 L212.5,186.2 L208.8,197.5 L200,206.2 L190,210 L186.2,215 L178.8,218.8 L172.5,215 L160,218.8 L150,221.2 L130,221.2 L127.5,225 L115,225 L105,218.8 L97.5,210 L92.5,197.5 L87.5,192.5 L82.5,192.5 L67.5,185 L71.2,177.5 L75,181.2 L85,180 L83.8,172.5 L86.2,162.5 L92.5,156.2 L82.5,152.5 L67.5,148.8 L68.8,145 L82.5,146.2 L93.8,148.8 L100,150 L102.5,147.5 L95,142.5 L105,140 L102.5,132.5 L85,130 L75,123.8ZM220,494 L225,471.5 L235,459 L255,449 L252.5,459 L237.5,471.5 L230,479 L225,494ZM692.5,506.5 L700,491.5 L712.5,489 L705,504 L702.5,516.5 L695,526.5ZM662.5,551.5 L670,519 L675,514 L672.5,531.5 L667.5,551.5ZM755,464 L765,461.5 L777.5,459 L782.5,464 L772.5,469 L760,471.5ZM755,446.5 L765,442.8 L771.2,449 L762.5,452.8ZM132.5,638 L150,629 L147.5,619 L160,611.5 L150,604 L137.5,596.5 L147.5,589 L141.2,580.2 L150,569 L160,574 L175,571.5 L175,562.8 L185,554 L200,549 L210,547.8 L215,556.5 L230,559 L236.2,574 L236.2,584 L230,594 L217.5,596.5 L217.5,614 L215,638 L212.5,638 L207.5,648 L202.5,655.5 L190,655.5 L175,656.8 L165,660.5 L150,664.2 L137.5,665.5 L125,663 L127.5,653 L120,645.5 L125,638ZM277.5,449 L290,454 L310,455.2 L302.5,469 L290,479 L285,484 L300,486.5 L325,490.2 L326.2,499 L317.5,514 L310,526.5 L300,531.5 L292.5,532.8 L302.5,536.5 L297.5,542.8 L305,545.2 L312.5,556.5 L318.8,566.5 L320,581.5 L322.5,594 L332.5,601.5 L337.5,614 L341.2,638 L342.5,638 L345,650.5 L350,658 L365,660.5 L372.5,670.5 L370,688 L360,700.5 L345,708 L355,710.5 L357.5,718 L345,723 L330,724.2 L315,725.5 L300,728 L282.5,726.8 L265,723 L252.5,724.2 L240,725.5 L225,730.5 L207.5,735.5 L202.5,729.2 L220,720.5 L230,713 L240,704.2 L255,703 L267.5,700.5 L282.5,689.2 L265,695.5 L250,695.5 L235,685.5 L222.5,681.8 L225,673 L240,668 L247.5,658 L250,648 L240,643 L252.5,638 L252.5,638 L272.5,636 L281.2,619 L276.2,601.5 L275,589 L280,579 L270,576.5 L260,581.5 L250,579 L247.5,571.5 L257.5,559 L260,549 L250,554 L240,554 L247.5,539 L260,531.5 L250,531.5 L235,539 L230,536.5 L242.5,526.5 L260,516.5 L240,519 L235,511.5 L250,504 L250,494 L237.5,481.5 L250,476.5 L260,469 L270,459 L277.5,449ZM1167.6,1191.5 L1171.2,1186.7 L1173,1183.7 L1176.6,1183.1 L1180.7,1181.3 L1181.9,1175.4 L1183.7,1174.2 L1189.7,1174.2 L1195.7,1171.2 L1200.4,1167.6 L1204.6,1165.8 L1205.2,1171.2 L1208.8,1175.4 L1206.4,1177.8 L1201.6,1178.4 L1199.9,1182.5 L1199.9,1186.1 L1195.7,1189.7 L1189.7,1192.1 L1183.7,1194.5 L1179,1197.5 L1173.6,1197.5 L1170,1195.7ZM1033.8,1184.5 L1042.5,1174.5 L1045,1178.2 L1037.5,1193.2ZM495,1079.5 L500,1077 L512.5,1074.5 L525,1072 L532.5,1082 L536.2,1097 L532.5,1114.5 L531.2,1132 L522.5,1137 L515,1144.5 L507.5,1147 L500,1142 L495,1132ZM545.2,583.8 L552.7,580.8 L557.2,586.8 L558.7,595.8 L552.7,598.8 L546.7,595.8 L543.7,589.8ZM566.2,576.3 L575.1,570.4 L584.1,564.4 L591.6,567.4 L593.1,576.3 L590.1,586.8 L584.1,592.8 L587.1,598.8 L579.6,601.8 L573.7,595.8 L566.2,592.8 L564.7,583.8ZM564.7,604.8 L573.7,603.3 L582.6,604.8 L584.1,610.8 L575.1,610.8 L566.2,609.3ZM635,588.3 L642.5,591.3 L643.3,597.3 L638,596.6 L634.3,592.1ZM962.2,1092.2 L968.4,1088.4 L974.7,1088.4 L979.6,1093.4 L983.4,1097.1 L975.9,1100.3 L968.4,1098.4 L962.2,1095.9ZM506.3,1030.3 L510,1025.3 L516.3,1021.5 L523.8,1020.2 L526.3,1010.2 L530.1,1010.2 L531.3,1020.2 L532.6,1027.8 L531.3,1037.8 L530.1,1047.8 L527.6,1056.6 L522.6,1064.1 L515,1060.4 L511.3,1056.6 L510,1049.1 L507.5,1040.3ZM307.7,1130.1 L317.7,1128.8 L321.5,1137.6 L315.2,1146.4 L308.9,1142.6ZM340.3,1113.8 L347.8,1106.3 L357.8,1102.5 L366.6,1107.5 L371.6,1115 L366.6,1121.3 L362.8,1128.8 L355.3,1130.1 L349,1125.1 L341.5,1122.6ZM380.4,1103.8 L387.9,1102.5 L392.9,1107.5 L385.4,1108.8ZM609.1,1182.7 L612.8,1175.2 L617.9,1174 L624.1,1176.5 L629.1,1171.5 L634.2,1171.5 L637.9,1175.2 L645.4,1177.7 L655.5,1175.2 L665.5,1174 L673,1170.2 L683,1169 L691.8,1163.9 L693.1,1170.2 L688.1,1177.7 L684.3,1185.3 L681.8,1195.3 L684.3,1202.8 L689.3,1207.8 L684.3,1212.8 L683,1219.1 L675.5,1219.1 L668,1216.6 L663,1210.3 L655.5,1206.6 L645.4,1206.6 L637.9,1200.3 L630.4,1196.5 L622.9,1191.5 L615.3,1191.5 L610.3,1187.8ZM894.2,1117.6 L900.5,1118.8 L908,1123.8 L916.8,1123.8 L921.8,1122.6 L924.3,1131.3 L919.3,1132.6 L911.7,1130.1 L904.2,1126.3 L896.7,1122.6ZM923,1237.9 L923,1230.4 L926.8,1225.4 L931.8,1227.9 L938.1,1224.1 L943.1,1230.4 L953.1,1227.9 L963.1,1226.6 L973.2,1227.9 L981.9,1225.4 L993.2,1225.4 L1003.3,1222.2 L1004.5,1229.1 L988.2,1234.2 L980.7,1237.9 L970.7,1240.4 L960.6,1242.9 L955.6,1237.9 L945.6,1236.7 L935.6,1237.9 L925.5,1239.2ZM822.7,1152.7 L827.7,1148.9 L834,1153.9 L830.2,1156.4 L824,1155.2ZM831.5,1162.7 L837.8,1165.2 L840.3,1170.2 L835.3,1170.2ZM965.6,1115 L974.4,1117.6 L974.4,1127.6 L969.4,1128.8Z" fill="none" stroke="#6cb8e8" stroke-width="5.6" stroke-linejoin="round"/>
<path d="M787.5,63.8 L781.2,72.5 L773.8,82.5 L771.2,96.2 L777.5,105 L787.5,117.5 L796.2,127.5 L802.5,140 L797.5,157.5 L806.2,165 L816.2,180 L821.2,195 L822.5,212.5 L832.5,227.5 L846.2,241.2 L847.5,255 L850,262.5 L863.8,268.8 L873.8,285 L873.8,302.5 L866.2,319 L860,334 L852.5,351.5 L845,369M1005.8,860.2 L1000,867.8 L993.2,874 L984.5,877.8 L975.7,872.8 L973.2,864 L969.4,852.7 L968.2,840.2 L965.6,830.2 L958.1,822.6 L948.1,816.4 L939.3,807.6 L933,798.8 L925.5,790 L919.3,787.5 L911.7,792.5 L910.5,800.1 L900.5,803.8 L889.2,808.8 L884.2,815.1 L877.9,811.3 L870.4,808.8 L856.6,811.3 L845.3,810.1 L837.8,813.9 L827.7,810.1 L819,803.8 L816.4,796.3 L820.2,787.5 L825.2,780 L826.5,780 L825.2,770.5 L822.7,764.2 L824,760.4 L827.7,751.6 L831.5,744.1 L836.5,736.6 L840.3,730.3 L846.5,726.6 L847.2,720.3 L842.8,712.8 L839,705.3 L834,697.7 L831.5,690.2 L828.4,687.7 L829,678.9 L826.5,672.7 L817.7,670.2 L816.4,666.4 L820.2,658.9 L829,652.6 L829,643.8 L825.2,635 L820.2,627.5M853.8,411.5 L850,426.5 L850,439 L857.5,454 L862.5,464 L857.5,474 L860,476.5 L870,484 L872.5,499 L882.5,509 L885,516.5 L875,531.5 L865,536.5 L860,549 L867.5,554 L855,561.5 L850,571.5 L852.5,584 L850,591.5 L842.5,596.5 L832.5,601.5 L822.5,604 L812.5,609M762.5,579 L775,577.8 L790,580.2 L796.2,589 L797.5,597.8 L787.5,601.5 L765,604 L743.8,606.5 L738.8,601.5M959.1,1042.3 L959.7,1039.8 L963.4,1033.6 L960.9,1024.9 L965.9,1022.4 L967.2,1016.1 L963.4,1011.2 L958.5,1006.2 L963.4,999.9 L972.2,993.7 L979.6,991.2 L987.1,992.5 L995.8,990" fill="none" stroke="#b5b6b8" stroke-width="6.2" stroke-linejoin="round"/>
<g clip-path="url(#land)">
<path d="M445,653 L435,665.5 L430,680.5 L420,690.5 L410,705.5 L400,715.5 L385,723 L370,728 L360,735.5 L357.5,748 L345,758 L327.5,765.5 L322.5,775.5 L310,778 L297.5,773 L292.5,763 L280,760.5 L282.5,778 L285,795.5 L272.5,795.5 L260,798 L252.5,788 L240,784.2 L225,785.5 L210,788 L212.5,798 L207.5,804.2 L215,813 L225,815.5 L237.5,825.5 L250,830.5 L257.5,840.5 L267.5,843 L262.5,853 L265,863 L272.5,878 L275,888 L277.5,898 L282.5,908 L275,913 L272.5,928 L270,943 L265,957 L265,957 L260,972 L250,974.5 L230,969.5 L212.5,967 L190,962 L175,957 L165,954.2 L150,948 L135,943 L117.5,936.8 L105,930.5 L85,940.5 L70,945.5 L65,957 L67.5,957 L66.2,972 L65,982 L60,994.5 L55,1012 L52.5,1032 L47.5,1049.5 L37.5,1067 L30,1082 L32.5,1097 L37.5,1104.5 L35,1117 L32.5,1132 L27.5,1147 L40,1149.5 L57.5,1154.5 L72.5,1154.5 L85,1162 L95,1174.5 L100,1189.5 L110,1200.8 L120,1194.5 L135,1189.5 L150,1187 L170,1189.5 L185,1192 L200,1193.2 L210,1194.5 L222.5,1182 L235,1174.5 L247.5,1172 L252.5,1164.5 L260,1152 L272.5,1142 L280,1135.8 L272.5,1127 L270,1114.5 L275,1102 L282.5,1092 L292.5,1082 L302.5,1072 L315,1059.5 L332.5,1053.2 L350,1049.5 L362.5,1039.5 L372.5,1032 L375,1022 L370,1012 L367.5,1004.5 L372.5,997 L385,989.5 L400,987 L412.5,992 L425,994.5 L440,1004.5 L457.5,999.5 L475,987 L490,982 L500,979.5 L500,971.3 L505,963.8 L512.5,961.3 L520.1,965.1 L528.8,968.8 L533.9,975.1 L542.6,977.6 L548.9,986.4 L551.4,992.7 L555.2,1001.4 L558.9,1007.7 L562.7,1015.2 L570.2,1021.5 L577.7,1030.3 L586.5,1035.3 L591.5,1044.1 L599,1052.8 L606.6,1057.9 L612.8,1061.6 L620.4,1065.4 L626.6,1067.9 L637.9,1067.9 L644.2,1074.2 L650.5,1079.2 L659.2,1084.2 L666.8,1085.4 L673,1093 L693.1,1100 L695.6,1110 L699.3,1120.1 L703.1,1130.1 L706.9,1138.9 L711.9,1145.1 L705.6,1148.9 L699.3,1151.4 L701.9,1157.7 L699.3,1165.2 L695.6,1170.2 L696.8,1175.2 L705.6,1176.5 L709.4,1169 L713.1,1161.4 L718.2,1158.9 L719.4,1150.2 L718.2,1145.1 L725.7,1140.1 L734.5,1137.6 L733.2,1130.1 L731.9,1122.6 L723.2,1117.6 L715.6,1115 L714.4,1107.5 L718.2,1100 L719.4,1100 L723.2,1090.5 L731.9,1086.7 L745.7,1089.2 L750,1090.5 L755,1102 L765,1102 L765,1093.2 L757.5,1082 L750,1077.9 L745.7,1076.7 L733.2,1071.6 L720.7,1066.6 L706.9,1061.6 L698.1,1056.6 L701.9,1046.6 L700.6,1040.3 L688.1,1040.3 L675.5,1041.6 L666.8,1037.8 L658,1032.8 L650.5,1025.3 L642.9,1015.2 L640.4,1007.7 L636.7,998.9 L632.9,990.2 L625.4,986.4 L615.3,980.1 L607.8,972.6 L600.3,965.1 L599,956.3 L600.3,947.5 L605.3,940 L605,933 L612.5,925.5 L620,920.5 L630,923 L632.5,930.5 L635,943 L640,953 L645,945.5 L647.5,935.5 L652.5,930.5 L657.5,938 L662.5,948 L666.2,957 L663,940 L665.5,947.5 L673,955 L680.5,962.6 L675.5,966.3 L683,972.6 L690.6,977.6 L695.6,983.9 L703.1,986.4 L713.1,982.6 L720.7,987.6 L728.2,992.7 L735.7,1000.2 L743.2,1005.2 L750,1009 L750,1012.7 L757.5,1015.2 L765,1020.2 L772.6,1024 L780.1,1027.8 L787.6,1035.3 L790.1,1044.1 L787.6,1052.8 L788.9,1062.9 L790.1,1071.6 L787.6,1080.4 L792.6,1087.9 L800.2,1093 L805.2,1100 L813.9,1100 L816.4,1112.5 L825.2,1120.1 L837.8,1125.1 L842.8,1135.1 L845.3,1143.9 L850.3,1153.9 L847.8,1161.4 L852.8,1167.7 L859.1,1172.7 L862.8,1177.7 L860.3,1185.3 L865.3,1194 L869.1,1195.3 L872.9,1187.8 L879.1,1190.3 L882.9,1197.8 L885.4,1205.3 L889.2,1202.8 L887.9,1195.3 L894.2,1192.8 L900.5,1196.5 L906.7,1199 L901.7,1190.3 L897.9,1181.5 L892.9,1174 L889.2,1166.4 L894.2,1167.7 L900.5,1171.5 L905.5,1171.5 L910.5,1165.2 L904.2,1163.9 L899.2,1160.2 L892.9,1155.2 L897.9,1150.2 L905.5,1146.4 L913,1145.1 L920.5,1147.6 L924.3,1153.9 L923,1145.1 L920.5,1141.4 L918,1135.1 L911.7,1132.6 L904.2,1128.8 L896.7,1125.1 L887.9,1125.1 L877.9,1123.8 L882.9,1118.8 L887.9,1115 L885.4,1107.5 L887.9,1102.5 L886.7,1100 L887.9,1100 L885.4,1096.7 L880.4,1090.5 L875.4,1082.9 L872.9,1075.4 L870.4,1067.9 L875.4,1060.4 L880.4,1064.1 L879.1,1069.1 L887.9,1070.4 L900.5,1066.6 L897.9,1057.9 L896.7,1054.1 L903,1051.6 L910.5,1047.8 L916.8,1042.8 L923,1045.3 L930.5,1039 L940.6,1039 L950.6,1039 L958.1,1037.8 L959.1,1042.3 L959.7,1039.8 L963.4,1033.6 L960.9,1024.9 L965.9,1022.4 L967.2,1016.1 L963.4,1011.2 L958.5,1006.2 L963.4,999.9 L972.2,993.7 L979.6,991.2 L987.1,992.5 L995.8,990 L995.8,990 L992.1,985 L985.9,980 L1000,984.5 L997.5,982 L990,972 L987.5,957 L987.5,957 L993.8,943 L997.5,925.5 L996.2,908 L997.5,893 L1007.5,888 L1012.5,878 L1011.2,868 L1006.2,859.2 L1005.8,860.2 L1000,867.8 L993.2,874 L984.5,877.8 L975.7,872.8 L973.2,864 L969.4,852.7 L968.2,840.2 L965.6,830.2 L958.1,822.6 L948.1,816.4 L939.3,807.6 L933,798.8 L925.5,790 L919.3,787.5 L911.7,792.5 L910.5,800.1 L900.5,803.8 L889.2,808.8 L884.2,815.1 L877.9,811.3 L870.4,808.8 L856.6,811.3 L845.3,810.1 L837.8,813.9 L827.7,810.1 L819,803.8 L816.4,796.3 L820.2,787.5 L825.2,780 L826.5,780 L825.2,770.5 L822.7,764.2 L824,760.4 L827.7,751.6 L831.5,744.1 L836.5,736.6 L840.3,730.3 L846.5,726.6 L847.2,720.3 L842.8,712.8 L839,705.3 L834,697.7 L831.5,690.2 L828.4,687.7 L829,678.9 L826.5,672.7 L817.7,670.2 L816.4,666.4 L820.2,658.9 L829,652.6 L829,643.8 L825.2,635 L820.2,627.5 L815.2,620 L812.5,609 L822.5,604 L832.5,601.5 L842.5,596.5 L850,591.5 L852.5,584 L850,571.5 L855,561.5 L867.5,554 L860,549 L865,536.5 L875,531.5 L885,516.5 L882.5,509 L872.5,499 L870,484 L860,476.5 L857.5,474 L862.5,464 L857.5,454 L850,439 L850,426.5 L853.8,411.5 L853.8,411.5 L840,412.8 L825,414 L807.5,416.5 L790,424 L777.5,436.5 L775,449 L772.5,459 L782.5,459 L787.5,466.5 L800,461.5 L802.5,469 L805,481.5 L807.5,496.5 L800,506.5 L792.5,509 L785,501.5 L775,494 L771.2,489 L760,494 L755,504 L751.2,521.5 L752.5,536.5 L755,551.5 L757.5,564 L762.5,579 L762.5,579 L775,577.8 L790,580.2 L796.2,589 L797.5,597.8 L787.5,601.5 L765,604 L743.8,606.5 L738.8,601.5 L738.8,601.5 L730,609 L720,610.2 L715,604 L707.5,597.8 L690,601.5 L672.5,611.5 L700,597.3 L691.9,600.3 L681.4,604.8 L672.5,610.8 L668,618.3 L657.5,624.3 L645.5,630.2 L639.5,634.7 L636.5,642.2 L633.5,636.2 L624.6,634.7 L618.6,627.2 L615.6,615.3 L609.6,610.8 L606.6,616.8 L599.1,625.7 L588.6,627.2 L579.6,628.7 L572.2,631.7 L564.7,636.2 L558.7,634.7 L557.2,624.3 L549.7,621.3 L543.7,619.8 L540.7,616.8 L539.2,607.8 L534.7,603.3 L533.2,595.8 L537.7,589.8 L534.7,583.8 L537.7,577.8 L542.2,574.9 L546.7,570.4 L548.2,562.9 L555.7,559.9 L560.9,553.9 L558.7,547.9 L549.7,546.4 L548.2,538.9 L546.7,529.9 L551.2,522.5 L552.7,512 L549.7,507.5 L540.7,515 L534.7,524 L527.2,526.9 L516.8,528.4 L510.8,534.4 L507.8,544.9 L507,556.9 L507.8,565.9 L505.5,574.9 L507.8,582.3 L515.3,588.3 L516.8,597.3 L518.3,607.8 L515.3,618.3 L516.8,627.2 L519.8,634.7 L513.8,640.7 L504.8,643.7 L495.8,646.7 L489.8,651.2 L480.8,649.7 L468.9,651.2 L456.9,654.2 L444.9,657.2 L435.9,661.7 L432.9,676.6 L431.4,691ZM787.5,63.8 L781.2,72.5 L773.8,82.5 L771.2,96.2 L777.5,105 L787.5,117.5 L796.2,127.5 L802.5,140 L797.5,157.5 L806.2,165 L816.2,180 L821.2,195 L822.5,212.5 L832.5,227.5 L846.2,241.2 L847.5,255 L850,262.5 L863.8,268.8 L873.8,285 L873.8,302.5 L866.2,319 L860,334 L852.5,351.5 L845,369 L835,376.5 L827.5,380.2 L815,384.5 L800,394 L785,401.5 L772.5,406.5 L760,404.5 L747.5,402 L736.2,395.2 L732.5,381.5 L732.5,364 L727.5,346.5 L720,331.5 L717.5,319 L721.2,312.5 L727.5,300 L733.8,285 L741.2,275 L750,260 L755,245 L765,240 L762.5,228.8 L760,217.5 L747.5,211.2 L735,212.5 L720,215 L715,222.5 L707.5,235 L705,250 L712.5,262.5 L707.5,275 L700,290 L690,302.5 L680,315 L675,319 L662.5,334 L660,349 L662.5,366.5 L660,379 L665,394 L675,404 L685,411.5 L693.8,419 L697.5,429 L696.2,439 L690,449 L680,459 L672.5,466.5 L662.5,474 L665,489 L662.5,506.5 L665,526.5 L660,544 L655,556.5 L635,559 L627.5,566.5 L625,579 L617.5,584 L602.5,584 L598.8,574 L595,565.2 L597.5,556.5 L596.2,546.5 L590,536.5 L582.5,526.5 L575,509 L572.5,499 L567.5,486.5 L565,474 L568.8,461.5 L562.5,462.8 L556.2,455.2 L552.5,444 L550,455.2 L540,469 L527.5,479 L515,489 L500,494 L500,494 L487.5,497 L475,487 L463.8,474 L467.5,459 L460,444 L462.5,424 L457.5,406.5 L460,389 L457.5,369 L462.5,351.5 L482.5,339 L500,326.5 L507.5,319 L515,307.5 L527.5,300 L542.5,287.5 L553.8,262.5 L567.5,252.5 L575,225 L585,210 L587.5,197.5 L597.5,185 L605,165 L582.5,160 L600,147.5 L617.5,135 L600,130 L615,115 L630,105 L645,90 L646.2,77.5 L662.5,75 L675,70 L680,55 L700,45 L717.5,32.5 L740,27 L762.5,31.2 L782.5,40 L783.8,46.2 L777.5,57.5 L787.5,63.8ZM72.5,122.5 L82.5,117.5 L95,110 L107.5,103.8 L115,107.5 L118.8,120 L120,130 L113.8,136.2 L110,145 L115,142.5 L125,140 L135,131.2 L137.5,140 L143.8,137.5 L152.5,136.2 L157.5,142.5 L160,146.2 L167.5,143.8 L172.5,147.5 L180,146.2 L186.2,140 L193.8,141.2 L197.5,150 L207.5,152.5 L203.8,160 L205,170 L207.5,178.8 L212.5,186.2 L208.8,197.5 L200,206.2 L190,210 L186.2,215 L178.8,218.8 L172.5,215 L160,218.8 L150,221.2 L130,221.2 L127.5,225 L115,225 L105,218.8 L97.5,210 L92.5,197.5 L87.5,192.5 L82.5,192.5 L67.5,185 L71.2,177.5 L75,181.2 L85,180 L83.8,172.5 L86.2,162.5 L92.5,156.2 L82.5,152.5 L67.5,148.8 L68.8,145 L82.5,146.2 L93.8,148.8 L100,150 L102.5,147.5 L95,142.5 L105,140 L102.5,132.5 L85,130 L75,123.8ZM220,494 L225,471.5 L235,459 L255,449 L252.5,459 L237.5,471.5 L230,479 L225,494ZM692.5,506.5 L700,491.5 L712.5,489 L705,504 L702.5,516.5 L695,526.5ZM662.5,551.5 L670,519 L675,514 L672.5,531.5 L667.5,551.5ZM755,464 L765,461.5 L777.5,459 L782.5,464 L772.5,469 L760,471.5ZM755,446.5 L765,442.8 L771.2,449 L762.5,452.8ZM132.5,638 L150,629 L147.5,619 L160,611.5 L150,604 L137.5,596.5 L147.5,589 L141.2,580.2 L150,569 L160,574 L175,571.5 L175,562.8 L185,554 L200,549 L210,547.8 L215,556.5 L230,559 L236.2,574 L236.2,584 L230,594 L217.5,596.5 L217.5,614 L215,638 L212.5,638 L207.5,648 L202.5,655.5 L190,655.5 L175,656.8 L165,660.5 L150,664.2 L137.5,665.5 L125,663 L127.5,653 L120,645.5 L125,638ZM277.5,449 L290,454 L310,455.2 L302.5,469 L290,479 L285,484 L300,486.5 L325,490.2 L326.2,499 L317.5,514 L310,526.5 L300,531.5 L292.5,532.8 L302.5,536.5 L297.5,542.8 L305,545.2 L312.5,556.5 L318.8,566.5 L320,581.5 L322.5,594 L332.5,601.5 L337.5,614 L341.2,638 L342.5,638 L345,650.5 L350,658 L365,660.5 L372.5,670.5 L370,688 L360,700.5 L345,708 L355,710.5 L357.5,718 L345,723 L330,724.2 L315,725.5 L300,728 L282.5,726.8 L265,723 L252.5,724.2 L240,725.5 L225,730.5 L207.5,735.5 L202.5,729.2 L220,720.5 L230,713 L240,704.2 L255,703 L267.5,700.5 L282.5,689.2 L265,695.5 L250,695.5 L235,685.5 L222.5,681.8 L225,673 L240,668 L247.5,658 L250,648 L240,643 L252.5,638 L252.5,638 L272.5,636 L281.2,619 L276.2,601.5 L275,589 L280,579 L270,576.5 L260,581.5 L250,579 L247.5,571.5 L257.5,559 L260,549 L250,554 L240,554 L247.5,539 L260,531.5 L250,531.5 L235,539 L230,536.5 L242.5,526.5 L260,516.5 L240,519 L235,511.5 L250,504 L250,494 L237.5,481.5 L250,476.5 L260,469 L270,459 L277.5,449ZM1167.6,1191.5 L1171.2,1186.7 L1173,1183.7 L1176.6,1183.1 L1180.7,1181.3 L1181.9,1175.4 L1183.7,1174.2 L1189.7,1174.2 L1195.7,1171.2 L1200.4,1167.6 L1204.6,1165.8 L1205.2,1171.2 L1208.8,1175.4 L1206.4,1177.8 L1201.6,1178.4 L1199.9,1182.5 L1199.9,1186.1 L1195.7,1189.7 L1189.7,1192.1 L1183.7,1194.5 L1179,1197.5 L1173.6,1197.5 L1170,1195.7ZM1033.8,1184.5 L1042.5,1174.5 L1045,1178.2 L1037.5,1193.2ZM495,1079.5 L500,1077 L512.5,1074.5 L525,1072 L532.5,1082 L536.2,1097 L532.5,1114.5 L531.2,1132 L522.5,1137 L515,1144.5 L507.5,1147 L500,1142 L495,1132ZM545.2,583.8 L552.7,580.8 L557.2,586.8 L558.7,595.8 L552.7,598.8 L546.7,595.8 L543.7,589.8ZM566.2,576.3 L575.1,570.4 L584.1,564.4 L591.6,567.4 L593.1,576.3 L590.1,586.8 L584.1,592.8 L587.1,598.8 L579.6,601.8 L573.7,595.8 L566.2,592.8 L564.7,583.8ZM564.7,604.8 L573.7,603.3 L582.6,604.8 L584.1,610.8 L575.1,610.8 L566.2,609.3ZM635,588.3 L642.5,591.3 L643.3,597.3 L638,596.6 L634.3,592.1ZM962.2,1092.2 L968.4,1088.4 L974.7,1088.4 L979.6,1093.4 L983.4,1097.1 L975.9,1100.3 L968.4,1098.4 L962.2,1095.9ZM506.3,1030.3 L510,1025.3 L516.3,1021.5 L523.8,1020.2 L526.3,1010.2 L530.1,1010.2 L531.3,1020.2 L532.6,1027.8 L531.3,1037.8 L530.1,1047.8 L527.6,1056.6 L522.6,1064.1 L515,1060.4 L511.3,1056.6 L510,1049.1 L507.5,1040.3ZM307.7,1130.1 L317.7,1128.8 L321.5,1137.6 L315.2,1146.4 L308.9,1142.6ZM340.3,1113.8 L347.8,1106.3 L357.8,1102.5 L366.6,1107.5 L371.6,1115 L366.6,1121.3 L362.8,1128.8 L355.3,1130.1 L349,1125.1 L341.5,1122.6ZM380.4,1103.8 L387.9,1102.5 L392.9,1107.5 L385.4,1108.8ZM609.1,1182.7 L612.8,1175.2 L617.9,1174 L624.1,1176.5 L629.1,1171.5 L634.2,1171.5 L637.9,1175.2 L645.4,1177.7 L655.5,1175.2 L665.5,1174 L673,1170.2 L683,1169 L691.8,1163.9 L693.1,1170.2 L688.1,1177.7 L684.3,1185.3 L681.8,1195.3 L684.3,1202.8 L689.3,1207.8 L684.3,1212.8 L683,1219.1 L675.5,1219.1 L668,1216.6 L663,1210.3 L655.5,1206.6 L645.4,1206.6 L637.9,1200.3 L630.4,1196.5 L622.9,1191.5 L615.3,1191.5 L610.3,1187.8ZM894.2,1117.6 L900.5,1118.8 L908,1123.8 L916.8,1123.8 L921.8,1122.6 L924.3,1131.3 L919.3,1132.6 L911.7,1130.1 L904.2,1126.3 L896.7,1122.6ZM923,1237.9 L923,1230.4 L926.8,1225.4 L931.8,1227.9 L938.1,1224.1 L943.1,1230.4 L953.1,1227.9 L963.1,1226.6 L973.2,1227.9 L981.9,1225.4 L993.2,1225.4 L1003.3,1222.2 L1004.5,1229.1 L988.2,1234.2 L980.7,1237.9 L970.7,1240.4 L960.6,1242.9 L955.6,1237.9 L945.6,1236.7 L935.6,1237.9 L925.5,1239.2ZM822.7,1152.7 L827.7,1148.9 L834,1153.9 L830.2,1156.4 L824,1155.2ZM831.5,1162.7 L837.8,1165.2 L840.3,1170.2 L835.3,1170.2ZM965.6,1115 L974.4,1117.6 L974.4,1127.6 L969.4,1128.8Z" fill="#a3d07f"/>
<path d="M250,759.8 L357.8,759.8 L376.6,759.2 L384.8,746.6 L382.9,736.6 L375.4,731.6 L387.9,725.3 L400.5,720.3 L405.5,726.6 L416.8,725.3 L413,717.8 L419.3,707.8 L428,712.8 L434.3,707.8 L430.5,697.7 L425.5,690.2 L434.3,682.7 L445.6,682.7 L453.1,675.2 L463.1,672.7 L475.7,670.2 L484.5,661.4 L494.5,657.6 L500,661.4 L500,780 L250,780ZM500,665.1 L518.8,666.4 L525.1,657.6 L541.4,653.9 L550.2,645.1 L560.2,642.6 L570.2,638.8 L580.2,647.6 L587.8,651.3 L595.3,661.4 L604.1,657.6 L612.8,651.3 L620.4,648.8 L625.4,645.1 L632.9,643.8 L635.4,637.6 L637.9,632.5 L663,622.5 L675.5,620 L750,620 L750,780 L500,780ZM750,620 L1000,620 L1000,780 L750,780ZM250,780 L500,780 L500,940 L250,940ZM500,780 L750,780 L750,940 L500,940ZM750,780 L1000,780 L1000,940 L750,940ZM188.1,780 L250,780 L250,855.2 L188.1,855.2ZM0,920 L250,920 L250,1080 L0,1080ZM0,1080 L250,1080 L250,1240 L0,1240ZM250,940 L500,940 L500,1100 L250,1100ZM500,940 L750,940 L750,1100 L500,1100ZM750,940 L1000,940 L1000,1100 L750,1100ZM250,1100 L500,1100 L500,1200.3 L250,1200.3ZM500,1100 L750,1100 L750,1260 L500,1260ZM750,1100 L1000,1100 L1000,1260 L750,1260ZM625,620 L630,620 L650,610 L700,585 L740,585 L740,607 L797,600 L812,607 L815,600 L835,597 L842,603 L835,612 L850,620ZM1000,1000 L1250,1000 L1250,1276 L1000,1276ZM1000,855 L1020,855 L1020,895 L1000,895Z" fill="#e6e87c"/>
<path d="M416.8,780 L419.3,773 L428,767.9 L433,757.9 L430.5,747.9 L433,737.9 L443.1,732.8 L450.6,722.8 L455.6,715.3 L463.1,710.3 L470.7,707.8 L481.9,712.8 L479.4,720.3 L484.5,726.6 L494.5,720.3 L500,717.8 L500,780ZM500,719.7 L513.8,719 L518.8,707.8 L522.6,717.8 L541.4,715.3 L545.1,707.8 L552.7,706.5 L560.2,700.2 L566.4,694 L567.7,683.9 L577.7,683.9 L587.8,685.2 L600.3,682.7 L607.8,676.4 L617.9,676.4 L625.4,680.2 L632.9,685.2 L637.9,680.2 L640.4,675.2 L650.5,672.7 L661.7,670.2 L675.5,668.9 L688.1,666.4 L700.6,657.6 L706.9,655.1 L719.4,656.4 L731.9,656.4 L743.2,661.4 L750,667.6 L750,780 L500,780ZM547.6,671.4 L558.9,669.5 L560.2,675.2 L550.2,676.4ZM750,675.2 L762.5,672.7 L775.1,670.2 L780.1,678.9 L783.9,687.7 L786.4,695.2 L778.8,695.2 L768.8,686.4 L765,695.2 L771.3,701.5 L782.6,710.3 L791.4,716.5 L793.9,720.3 L798.9,710.3 L805.2,719 L810.2,724.1 L820.2,726.6 L826.5,724.1 L830.2,730.3 L834,735.3 L827.7,740.4 L817.7,732.8 L812.7,740.4 L812.7,745.4 L800.2,747.9 L792.6,742.9 L792.6,735.3 L787.6,732.8 L778.8,737.9 L765,737.9 L762.5,745.4 L761.3,755.4 L750,756.7ZM750,760.4 L762.5,759.2 L775.1,757.9 L782.6,767.9 L791.4,770.5 L802.7,764.2 L812.7,757.9 L820.2,756.7 L821.5,765.4 L824,780 L750,780ZM268.8,940 L271.3,935.5 L287.6,935.5 L300.2,936.7 L308.9,930.5 L315.2,920.4 L319,911.6 L324,906.6 L330.2,897.9 L337.8,890.3 L345.3,882.8 L354.1,876.5 L359.1,867.8 L360.3,860.2 L355.3,854 L349,847.7 L349,840.2 L354.1,833.9 L360.3,830.2 L370.4,831.4 L380.4,835.2 L389.2,836.4 L396.7,827.6 L404.2,822.6 L413,821.4 L425.5,818.9 L435.6,812.6 L445.6,811.3 L455.6,813.9 L455.6,822.6 L458.1,827.6 L465.6,825.1 L463.1,817.6 L460.6,810.1 L456.9,802.6 L453.1,793.8 L443.1,790 L438.1,785 L436.8,780 L500,780 L500,940ZM354.1,796.3 L362.8,790 L375.4,787.5 L385.4,786.3 L395.4,787.5 L404.2,790 L405.5,797.6 L397.9,802.6 L390.4,801.3 L386.7,807.6 L381.6,815.1 L376.6,822.6 L367.9,827.6 L357.8,826.4 L352.8,820.1 L355.3,812.6 L354.1,803.8ZM500,780 L750,780 L750,940 L500,940ZM750,780 L765,780 L766.3,787.5 L775.1,792.5 L787.6,787.5 L792.6,795 L787.6,801.3 L780.1,805.1 L775.1,812.6 L782.6,817.6 L791.4,815.1 L797.6,807.6 L803.9,803.8 L812.7,808.8 L819,817.6 L821.5,826.4 L817.7,832.7 L825.2,835.2 L830.2,840.2 L827.7,846.4 L835.3,847.7 L837.8,850.2 L825.2,852.7 L821.5,860.2 L817.7,867.8 L817.7,875.3 L824,880.3 L825.2,887.8 L827.7,895.3 L837.8,892.8 L842.8,890.3 L840.3,896.6 L832.7,900.4 L837.8,905.4 L842.8,900.4 L850.3,899.1 L859.1,896.6 L860.3,890.3 L870.4,885.3 L880.4,889.1 L887.9,887.8 L900.5,882.8 L906.7,886.6 L915.5,890.3 L913,895.3 L900.5,897.9 L894.2,900.4 L900.5,907.9 L903,915.4 L908,922.9 L913,930.5 L916.8,940 L750,940ZM837.8,857.7 L847.8,855.2 L856.6,861.5 L855.3,870.3 L845.3,872.8 L840.3,867.8ZM886.7,833.9 L894.2,827.6 L903,823.9 L913,827.6 L920.5,836.4 L924.3,847.7 L916.8,850.2 L910.5,857.7 L900.5,850.2 L894.2,845.2ZM943.1,823.9 L953.1,821.4 L963.1,830.2 L965.6,841.4 L956.9,842.7 L950.6,832.7ZM973.2,879 L985.7,880.3 L1000,877.8 L1000,892.8 L988.2,890.3 L975.7,886.6ZM923,917.9 L930.5,911.6 L940.6,915.4 L935.6,922.9 L925.5,924.2ZM963.1,930.5 L975.7,927.9 L978.2,934.2 L968.2,935.5ZM988.2,917.9 L1000,915.4 L1000,940 L992,940ZM879.1,817.6 L887.9,815.1 L891.7,821.4 L881.6,822.6ZM65.2,1021.6 L67.7,1010.3 L74,1001.5 L79,995.2 L80.2,990.2 L90.3,991.5 L99,990.2 L100.3,982.7 L109.1,978.9 L110.3,970.2 L120.4,963.9 L127.9,960.7 L137.9,963.3 L145.4,961.4 L150.5,966.4 L163,968.3 L175.5,967.6 L180.5,972.7 L185.6,978.9 L195.6,980.2 L205.6,975.2 L213.1,978.9 L225.7,982.7 L238.2,985.2 L250,988.3 L250,1080 L28.8,1080 L41.4,1061.7 L52.7,1045.4 L60.2,1030.3ZM0,1080 L250,1080 L250,1240 L0,1240ZM250,940 L500,940 L500,1100 L250,1100ZM500,940 L750,940 L750,1100 L500,1100ZM750,940 L1000,940 L1000,1100 L750,1100ZM250,1100 L500,1100 L500,1200.3 L250,1200.3ZM500,1100 L750,1100 L750,1260 L500,1260ZM750,1100 L1000,1100 L1000,1260 L750,1260ZM1000,1000 L1250,1000 L1250,1276 L1000,1276ZM1000,855 L1020,855 L1020,895 L1000,895Z" fill="#f9a61a"/>
<path d="M488.2,780 L492,773 L500,766.7 L500,765.4 L500,780ZM500,746.6 L512.5,750.4 L525.1,751.6 L541.4,747.9 L550.2,744.1 L560.2,742.9 L570.2,745.4 L580.2,744.1 L590.3,745.4 L600.3,742.9 L607.8,740.4 L620.4,740.4 L625.4,732.8 L632.9,730.3 L625.4,720.3 L622.9,715.3 L632.9,714 L642.9,719 L650.5,722.8 L654.2,732.8 L650.5,740.4 L644.2,745.4 L649.2,752.9 L642.9,756.7 L632.9,757.9 L625.4,760.4 L612.8,757.9 L600.3,761.7 L595.3,770.5 L600.3,774.2 L612.8,776.7 L625.4,774.2 L637.9,770.5 L650.5,769.2 L663,770.5 L675.5,767.9 L688.1,766.7 L700.6,764.2 L713.1,762.9 L725.7,765.4 L738.2,770.5 L744.5,776.7 L750,780 L500,780ZM693.1,707.8 L700.6,704 L713.1,705.3 L713.1,714 L705.6,719 L695.6,716.5ZM715.6,732.8 L725.7,737.9 L735.7,744.1 L744.5,751.6 L738.2,752.9 L725.7,745.4 L714.4,735.3ZM656.7,700.2 L663,700.2 L661.7,703.4 L656.7,702.7ZM685.6,688.3 L700.6,691.5 L719.4,695.2 L718.2,697.7 L700.6,694 L686.8,690.2ZM370.4,940 L364.1,930.5 L367.9,920.4 L370.4,910.4 L375.4,905.4 L380.4,912.9 L387.9,917.9 L391.7,910.4 L397.9,902.9 L403,911.6 L404.2,899.1 L409.2,890.3 L411.7,882.8 L416.8,876.5 L425.5,875.3 L434.3,877.8 L438.1,867.8 L445.6,866.5 L455.6,864 L463.1,861.5 L466.9,852.7 L465.6,845.2 L470.7,838.9 L479.4,833.9 L485.7,827.6 L488.2,817.6 L485.7,810.1 L488.2,800.1 L481.9,792.5 L475.7,787.5 L470.7,780 L470.7,780 L500,780 L500,940ZM397.9,865.3 L406.7,861.5 L414.2,866.5 L411.7,872.8 L403,871.5ZM416.8,860.2 L425.5,857.7 L424.3,865.3 L418,867.8ZM500,780 L699.3,780 L700.6,785 L713.1,787.5 L725.7,785 L738.2,787.5 L750,786.3 L750,801.3 L738.2,802.6 L725.7,801.3 L718.2,805.1 L715.6,812.6 L718.2,821.4 L713.1,827.6 L708.1,835.2 L713.1,842.7 L718.2,850.2 L725.7,855.2 L723.2,862.7 L713.1,865.3 L710.6,872.8 L710.6,882.8 L708.1,892.8 L705.6,900.4 L705.6,910.4 L700.6,915.4 L693.1,917.9 L685.6,921.7 L675.5,924.2 L673,930.5 L680.5,935.5 L681.8,940 L500,940ZM750,841.4 L760,840.2 L766.3,847.7 L765,855.2 L755,855.2 L750,852.7ZM856.6,916.7 L867.9,914.2 L879.1,917.9 L881.6,930.5 L875.4,934.2 L862.8,927.9 L856.6,924.2ZM776.3,921.7 L783.9,917.9 L791.4,924.2 L800.2,930.5 L797.6,940 L777.6,940ZM827.7,938 L837.8,935.5 L845.3,927.9 L852.8,930.5 L850.3,940 L827.7,940ZM846.5,902.9 L854.1,901.6 L850.3,907.9ZM866.6,899.1 L872.9,892.8 L874.1,900.4ZM750,934.2 L762.5,935.5 L765,940 L750,940ZM891.7,887.8 L897.9,886.6 L894.2,890.3ZM112.8,990.2 L120.4,975.2 L125.4,968.9 L137.9,963.9 L147.9,967.6 L160.5,970.2 L173,968.9 L178,975.2 L175.5,982.7 L165.5,985.2 L160.5,992.7 L150.5,987.7 L142.9,990.2 L139.2,997.7 L141.7,1005.3 L137.9,1010.3 L130.4,1007.8 L125.4,1000.2 L117.9,996.5ZM150.5,1002.7 L160.5,1000.2 L173,1002.7 L185.6,1006.5 L195.6,1005.3 L205.6,1001.5 L213.1,1000.2 L225.7,1002.7 L238.2,1001.5 L250,1000.2 L250,1080 L107.8,1080 L106.6,1070.5 L110.3,1057.9 L117.9,1057.9 L125.4,1060.4 L132.9,1055.4 L137.9,1046.6 L147.9,1044.1 L153,1037.9 L150.5,1030.3 L145.4,1022.8 L147.9,1015.3 L150.5,1007.8ZM82.7,1046.6 L90.3,1044.1 L100.3,1050.4 L102.8,1057.9 L95.3,1056.7 L85.3,1051.6ZM70.2,1059.2 L77.7,1057.9 L80.2,1064.2 L72.7,1065.4ZM0,1080 L250,1080 L250,1240 L0,1240ZM250,1015.2 L261.3,1015.2 L263.8,1005.2 L275.1,1002.7 L282.6,998.9 L291.4,1002.7 L302.7,1005.2 L312.7,1007.7 L320.2,1006.4 L327.7,1011.5 L337.8,1012.7 L345.3,1010.2 L350.3,1015.2 L357.8,1016.5 L370.4,1016.5 L375.4,1027.8 L362.8,1052.8 L312.7,1065.4 L281.3,1100 L250,1100ZM369.1,940 L366.6,947.5 L369.1,953.8 L362.8,960.1 L366.6,968.8 L360.3,973.9 L355.3,980.1 L349,986.4 L357.8,987.6 L367.9,990.2 L375.4,993.9 L380.4,990.2 L387.9,985.1 L413,1002.7 L500,977.6 L500,940ZM500,940 L750,940 L750,1100 L500,1100ZM750,940 L1000,940 L1000,1100 L750,1100ZM250,1100 L500,1100 L500,1200.3 L250,1200.3ZM500,1100 L750,1100 L750,1260 L500,1260ZM750,1100 L1000,1100 L1000,1260 L750,1260ZM1000,1000 L1250,1000 L1250,1276 L1000,1276ZM1000,855 L1020,855 L1020,895 L1000,895ZM488,1060 L500,1060 L500,1160 L488,1160Z" fill="#cf2a36"/>
<path d="M440.6,940 L443.1,930.5 L445.6,917.9 L438.1,912.9 L440.6,905.4 L448.1,897.9 L450.6,892.8 L455.6,890.3 L453.1,885.3 L460.6,884.1 L470.7,886.6 L475.7,890.3 L483.2,887.8 L490.7,890.3 L500,889.1 L500,889.1 L500,940ZM500,906.6 L507.5,905.4 L515,900.4 L522.6,892.8 L530.1,890.3 L541.4,889.1 L543.9,880.3 L552.7,874 L562.7,871.5 L572.7,873.4 L582.7,870.3 L592.8,867.8 L600.3,869 L601.6,880.3 L604.1,890.3 L609.1,900.4 L612.8,910.4 L616.6,915.4 L625.4,917.9 L632.9,924.2 L650.5,925.4 L663,930.5 L665.5,940 L500,940ZM602.8,867.8 L612.8,864 L622.9,870.3 L624.1,879 L612.8,880.3 L605.3,877.8ZM625.4,892.8 L637.9,890.3 L656.7,891.6 L666.8,892.8 L663,899.1 L644.2,900.4 L627.9,899.1ZM500,867.8 L512.5,866.5 L516.3,875.3 L507.5,879 L500,877.8ZM153,1080 L158,1070.5 L168,1057.9 L175.5,1052.9 L185.6,1050.4 L195.6,1045.4 L203.1,1042.9 L208.1,1050.4 L220.7,1052.9 L230.7,1057.9 L238.2,1067.9 L240.7,1080ZM137.9,1080 L137.9,1087.5 L136.7,1098.8 L141.7,1111.3 L145.4,1121.4 L144.2,1127.6 L135.4,1128.9 L129.1,1132.7 L130.4,1142.7 L137.9,1145.2 L153,1146.4 L154.2,1152.7 L147.9,1157.7 L145.4,1167.8 L141.7,1172.8 L144.2,1180.3 L155.5,1181.6 L147.9,1185.3 L156.7,1189.1 L175.5,1191.6 L190.6,1195.3 L206.9,1196.6 L223.2,1190.3 L229.4,1177.8 L220.7,1175.3 L213.1,1172.8 L205.6,1165.3 L201.9,1159 L210.6,1154 L213.1,1143.9 L223.2,1135.2 L221.9,1127.6 L216.9,1120.1 L215.6,1111.3 L225.7,1107.6 L235.7,1105.1 L238.2,1112.6 L233.2,1120.1 L230.7,1130.2 L238.2,1140.2 L250,1142.7 L250,1142.7 L250,1080ZM80.2,1157.7 L87.8,1152.7 L97.8,1165.3 L99,1172.8 L87.8,1172.8ZM419.3,940 L415.5,947.5 L408,958.8 L405.5,967.6 L404.2,977.6 L413,985.1 L423,990.2 L430.5,998.9 L443.1,1006.4 L458.1,998.9 L470.7,987.6 L488.2,977.6 L500,972.6 L500,940ZM297.6,1025.3 L307.7,1021.5 L315.2,1027.8 L322.7,1025.3 L325.2,1015.2 L330.2,1010.2 L340.3,1014 L347.8,1020.2 L352.8,1030.3 L357.8,1040.3 L357.8,1046.6 L337.8,1052.8 L325.2,1056.6 L312.7,1057.9 L300.2,1060.4 L293.9,1065.4 L287.6,1075.4 L282.6,1085.4 L280.1,1100 L262.5,1100 L260,1090.5 L266.3,1081.7 L277.6,1075.4 L278.8,1062.9 L277.6,1050.3 L281.3,1044.1 L291.4,1036.5ZM500,940 L606.6,940 L600.3,947.5 L599,956.3 L600.3,965.1 L607.8,972.6 L615.3,981.4 L606.6,985.1 L597.8,990.2 L590.3,995.2 L580.2,998.9 L570.2,1002.7 L562.7,1007.7 L558.9,1007.7 L555.2,1001.4 L551.4,992.7 L548.9,986.4 L542.6,977.6 L533.9,975.1 L528.8,968.8 L520.1,965.1 L512.5,961.3 L505,963.8 L500,971.3ZM632.9,992.7 L637.9,1000.2 L641.7,1010.2 L644.2,1017.7 L651.7,1026.5 L659.2,1034 L668,1039 L675.5,1042.8 L673,1052.8 L675.5,1060.4 L683,1062.9 L685.6,1072.9 L683,1082.9 L680.5,1090.5 L688.1,1100 L675.5,1100 L673,1093 L666.8,1085.4 L659.2,1084.2 L650.5,1079.2 L644.2,1074.2 L637.9,1067.9 L626.6,1067.9 L620.4,1065.4 L612.8,1061.6 L606.6,1057.9 L599,1052.8 L597.8,1042.8 L602.8,1032.8 L607.8,1025.3 L605.3,1020.2 L612.8,1015.2 L620.4,1020.2 L630.4,1022.7 L635.4,1015.2 L630.4,1005.2ZM715.6,1070.4 L725.7,1069.1 L738.2,1074.2 L750,1077.9 L750,1090.5 L738.2,1087.9 L731.9,1086.7 L723.2,1077.9ZM685.6,1087.9 L695.6,1084.2 L705.6,1090.5 L713.1,1100 L688.1,1100ZM663,940 L668,942.5 L675.5,952.5 L683,961.3 L688.1,971.3 L698.1,977.6 L710.6,980.1 L720.7,982.6 L730.7,977.6 L733.2,982.6 L725.7,987.6 L720.7,987.6 L713.1,982.6 L703.1,986.4 L695.6,983.9 L690.6,977.6 L683,972.6 L675.5,966.3 L680.5,962.6 L673,955 L665.5,947.5ZM512.5,1026.5 L522.6,1025.3 L525.1,1035.3 L518.8,1040.3 L512.5,1035.3ZM562.7,1017.7 L572.7,1012.7 L585.3,1015.2 L587.8,1025.3 L577.7,1030.3 L567.7,1026.5ZM757.5,1000.2 L765,1010.2 L775.1,1017.7 L782.6,1027.8 L791.4,1037.8 L797.6,1045.3 L805.2,1052.8 L812.7,1060.4 L817.7,1065.4 L815.2,1072.9 L807.7,1075.4 L802.7,1070.4 L795.1,1065.4 L791.4,1052.8 L788.9,1044.1 L786.4,1035.3 L778.8,1027.8 L765,1020.2 L757.5,1015.2ZM827.7,1025.3 L837.8,1025.3 L840.3,1032.8 L835.3,1035.3 L829,1031.5ZM837.8,1065.4 L847.8,1064.1 L857.8,1070.4 L860.3,1077.9 L855.3,1082.9 L845.3,1081.7 L837.8,1075.4ZM880.4,1059.1 L886.7,1059.1 L886.7,1067.9 L881.6,1069.1ZM793.9,1077.9 L802.7,1075.4 L805.2,1087.9 L797.6,1090.5ZM963.1,1090.5 L973.2,1087.9 L980.7,1094.2 L975.7,1100 L965.6,1098ZM750,1087.9 L757.5,1084.2 L763.8,1100 L750,1100ZM250,1100 L275.1,1100 L266.3,1110 L265,1125.1 L262.5,1137.6 L257.5,1147.6 L250,1150.2ZM575.2,1100 L750,1100 L750,1260 L575.2,1260ZM521.3,1127.6 L531.3,1123.8 L532.6,1135.1 L528.8,1140.1 L522.6,1137.6ZM832.7,1128.8 L842.8,1130.1 L845.3,1138.9 L840.3,1137.6ZM847.8,1161.4 L850.3,1153.9 L857.8,1152.7 L856.6,1160.2ZM905.5,1138.9 L919.3,1137.6 L923,1145.1 L920.5,1152.7 L913,1143.9 L905.5,1143.9ZM905.5,1123.8 L916.8,1123.8 L921.8,1125.1 L920.5,1131.3 L911.7,1130.1ZM919.3,1219.1 L1000,1219.1 L1000,1250.5 L919.3,1250.5ZM820.2,1147.6 L837.8,1147.6 L837.8,1158.9 L820.2,1158.9ZM963.1,1112.5 L975.7,1112.5 L975.7,1130.1 L963.1,1130.1ZM925.5,1135.1 L938.1,1135.1 L938.1,1142.6 L925.5,1142.6ZM750,1100 L766.3,1100 L766.3,1107.5 L750,1107.5ZM875.4,1175.2 L880.4,1180.2 L882.9,1190.3 L879.1,1187.8ZM1000,1180 L1050,1180 L1050,1250 L1000,1250ZM1160,1150 L1230,1150 L1230,1210 L1160,1210Z" fill="#6e3f80"/>
<path d="M606.6,780 L617.9,780 L620.4,787.5 L612.8,791.3 L606.6,786.3ZM634.2,830.2 L645.4,827.6 L646.7,833.9 L636.7,836.4ZM555.2,846.4 L567.7,845.2 L570.2,851.5 L557.7,852.7ZM41.4,1080 L110.3,1080 L112.8,1087.5 L111.6,1096.3 L112.8,1105.1 L109.1,1112.6 L105.3,1120.1 L95.3,1123.9 L92.8,1130.2 L85.3,1133.9 L77.7,1138.9 L70.2,1137.7 L67.7,1142.7 L60.2,1141.4 L53.9,1142.7 L50.2,1135.2 L47.6,1126.4 L48.9,1117.6 L46.4,1110.1 L42.6,1105.1 L41.4,1092.5 L25.1,1091.3 L25.1,1082.5ZM684.3,940 L690.6,945 L695.6,952.5 L705.6,955 L713.1,961.3 L723.2,965.1 L729.4,966.3 L738.2,962.6 L745.7,970.1 L750,971.3 L750,940ZM850.3,940 L857.8,947.5 L862.8,956.3 L860.3,965.1 L866.6,973.9 L875.4,977.6 L882.9,982.6 L887.9,990.2 L892.9,995.2 L900.5,1002.7 L910.5,1010.2 L918,1007.7 L925.5,1012.7 L933,1017.7 L940.6,1021.5 L950.6,1017.7 L955.6,1010.2 L958.1,1002.7 L965.6,995.2 L975.7,990.2 L983.2,992.7 L994.5,990.2 L1000,995.2 L1000,940ZM882.9,1040.3 L887.9,1035.3 L897.9,1032.8 L908,1027.8 L913,1030.3 L923,1027.8 L933,1030.3 L943.1,1032.8 L955.6,1027.8 L960.6,1030.3 L960.6,1035.3 L950.6,1039 L940.6,1039 L930.5,1039 L923,1045.3 L916.8,1042.8 L910.5,1047.8 L903,1051.6 L892.9,1050.3 L885.4,1046.6ZM787.6,957.6 L797.6,956.3 L805.2,965.1 L800.2,972.6 L792.6,970.1ZM750,940 L763.8,940 L766.3,947.5 L762.5,956.3 L755,952.5 L750,947.5ZM791.4,942.5 L802.7,940 L812.7,943.8 L810.2,950 L797.6,951.3ZM872.9,1007.7 L880.4,1010.2 L882.9,1017.7 L877.9,1020.2 L874.1,1015.2ZM877.9,1021.5 L887.9,1022.7 L897.9,1026.5 L892.9,1030.3 L882.9,1030.3Z" fill="#f9a61a"/>
<path d="M783.9,722.8 L791.4,720.3 L796.4,726.6 L791.4,730.3 L785.1,727.8ZM723.2,905.4 L731.9,899.1 L744.5,895.3 L750,892.8 L750,915.4 L738.2,914.2 L728.2,911.6ZM750,892.8 L761.3,890.3 L766.3,900.4 L762.5,914.2 L750,915.4ZM250,961.3 L265,960.1 L275.1,965.1 L291.4,965.1 L297.6,971.3 L295.1,980.1 L287.6,983.9 L275.1,982.6 L262.5,985.1 L250,983.9ZM291.4,983.9 L307.7,981.4 L320.2,987.6 L335.3,990.2 L340.3,995.2 L332.7,1000.2 L317.7,997.7 L305.2,995.2 L295.1,992.7ZM913,940 L928,942.5 L938.1,947.5 L953.1,946.3 L970.7,945 L975.7,952.5 L973.2,965.1 L963.1,970.1 L955.6,977.6 L945.6,975.1 L935.6,976.4 L923,977.6 L910.5,976.4 L908,968.8 L900.5,971.3 L897.9,966.3 L908,960.1 L913,952.5ZM955.6,975.1 L965.6,968.8 L975.7,971.3 L978.2,980.1 L970.7,987.6 L960.6,986.4 L955.6,981.4ZM930.5,998.9 L938.1,993.9 L943.1,1000.2 L938.1,1007.7 L931.8,1005.2Z" fill="#e6e87c"/>
<path d="M392.9,751.6 L397.9,741.6 L408,745.4 L406.7,752.9ZM261.3,805.1 L272.6,803.8 L280.1,812.6 L275.1,816.4 L262.5,815.1ZM223,791 L240,788 L262,795 L276,803 L272,812 L255,816 L235,813 L225,805ZM67.7,946.3 L90.3,942.6 L104.1,933.8 L112.8,935 L119.1,942.6 L125.4,948.8 L120.4,955.1 L112.8,957.6 L102.8,952.6 L95.3,956.4 L92.8,961.4 L82.7,962.6 L75.2,957.6 L67.7,955.1ZM145.4,951.3 L155.5,950.1 L168,957.6 L165.5,961.4 L153,960.1 L145.4,956.4ZM690,607 L705,606 L707,614 L692,616ZM709,615 L735,612 L737,622 L712,624ZM744,609 L773,608 L774,618 L758,620 L745,618Z" fill="#a3d07f"/>
<path d="M466.9,905.4 L475.7,897.9 L483.2,905.4 L481.9,910.4 L473.2,911.6ZM581.5,879 L595.3,877.8 L596.5,884.1 L585.3,885.3ZM419.3,962.6 L428,957.6 L434.3,965.1 L430.5,972.6 L421.8,971.3ZM438.1,950 L448.1,947.5 L450.6,960.1 L443.1,965.1ZM345.3,1020.2 L357.8,1017.7 L370.4,1022.7 L367.9,1035.3 L360.3,1045.3 L350.3,1040.3 L346.5,1030.3ZM611.6,1185.3 L620.4,1184 L630.4,1186.5 L637.9,1185.3 L642.9,1180.2 L650.5,1179 L658,1182.7 L668,1181.5 L675.5,1182.7 L674.3,1187.8 L665.5,1192.8 L660.5,1197.8 L650.5,1199 L640.4,1199 L632.9,1195.3 L625.4,1191.5 L616.6,1190.3ZM700.6,1112.5 L710.6,1115 L713.1,1122.6 L710.6,1131.3 L713.1,1140.1 L708.1,1141.4 L703.1,1131.3 L699.3,1121.3ZM704.4,1151.4 L710.6,1150.2 L709.4,1155.2 L704.4,1156.4ZM1183.7,1174.2 L1189.7,1174.2 L1195.7,1171.2 L1200.4,1167.6 L1204.6,1165.8 L1205.2,1171.2 L1208.8,1175.4 L1206.4,1177.8 L1201.6,1177.2 L1200.4,1175.4 L1195.7,1177.2 L1189.7,1177.8 L1186.7,1176ZM1167.6,1191.5 L1171.2,1187.3 L1174.2,1189.7 L1173.6,1193.3 L1179.6,1195.1 L1179,1197.5 L1173.6,1197.5 L1170,1195.7Z" fill="#cf2a36"/>
</g>
<path d="M500,494 L487.5,497 L475,487 L463.8,474 L467.5,459 L460,444 L462.5,424 L457.5,406.5 L460,389 L457.5,369 L462.5,351.5 L482.5,339 L500,326.5M507.5,319 L515,307.5 L527.5,300 L542.5,287.5 L553.8,262.5 L567.5,252.5 L575,225 L585,210 L587.5,197.5 L597.5,185 L605,165 L582.5,160 L600,147.5 L617.5,135 L600,130 L615,115 L630,105 L645,90 L646.2,77.5 L662.5,75 L675,70 L680,55 L700,45 L717.5,32.5 L740,27 L762.5,31.2 L782.5,40 L783.8,46.2 L777.5,57.5 L787.5,63.8M260,469 L250,476.5 L237.5,481.5 L250,494 L250,504 L235,511.5 L240,519 L260,516.5 L242.5,526.5 L230,536.5 L235,539 L250,531.5 L260,531.5 L247.5,539 L240,554" fill="none" stroke="#6cb8e8" stroke-width="13" stroke-linejoin="round" stroke-dasharray="4 2 2 3 5 2.5 3 4"/>
<path d="M500,494 L487.5,497 L475,487 L463.8,474 L467.5,459 L460,444 L462.5,424 L457.5,406.5 L460,389 L457.5,369 L462.5,351.5 L482.5,339 L500,326.5M507.5,319 L515,307.5 L527.5,300 L542.5,287.5 L553.8,262.5 L567.5,252.5 L575,225 L585,210 L587.5,197.5 L597.5,185 L605,165 L582.5,160 L600,147.5 L617.5,135 L600,130 L615,115 L630,105 L645,90 L646.2,77.5 L662.5,75 L675,70 L680,55 L700,45 L717.5,32.5 L740,27 L762.5,31.2 L782.5,40 L783.8,46.2 L777.5,57.5 L787.5,63.8M260,469 L250,476.5 L237.5,481.5 L250,494 L250,504 L235,511.5 L240,519 L260,516.5 L242.5,526.5 L230,536.5 L235,539 L250,531.5 L260,531.5 L247.5,539 L240,554" fill="none" stroke="#d2edfc" stroke-width="6" stroke-linejoin="round" stroke-dasharray="2 5 3 4 2.5 6" stroke-dashoffset="3"/>
<path d="M1155,830.5 L1135,825.5 L1125,808 L1130,793 L1140,780.5 L1155,770.5 L1170,753 L1185,743 L1197.5,733 L1206.2,734.2 L1205,740.5 L1195,750.5 L1192.5,758 L1182.5,763 L1180,766.8 L1192.5,773 L1203.8,776.8 L1192.5,783 L1190,798 L1192.5,808 L1182.5,813 L1170,818 L1165,823ZM992.1,1026.1 L997.1,1023.6 L1004.6,1021.1 L1009.6,1018.6 L1018.3,1017.4 L1023.3,1018.6 L1030.7,1014.9 L1029.5,1009.9 L1031.4,1009.3 L1034.5,1017.4 L1042,1019.9 L1054.4,1018.6 L1040.7,1023.6 L1032,1029.9 L1028.2,1033.6 L1037,1033.6 L1038.2,1036.1 L1032,1037.3 L1022,1039.8 L1013.3,1042.3 L1005.8,1047.3 L997.1,1048.5 L989.6,1045.4 L982.1,1047.3 L977.1,1052.3 L972.2,1058.5 L968.4,1064.7 L965.3,1064.7 L965.9,1054.8 L970.9,1049.8 L975.9,1043.6 L977.1,1041.1 L983.4,1038.6 L989.6,1033.6 L990.9,1028.6ZM750,127.5 L762.5,125 L776.2,126.2 L775,133.8 L765,135 L752.5,131.2ZM585,466.5 L597.5,454 L610,449 L616.2,459 L610,471.5 L595,479 L585,484 L587.5,474ZM617.5,501.5 L622.5,479 L630,466.5 L632.5,474 L627.5,489 L622.5,501.5ZM635,450.2 L655,449 L647.5,455.2ZM870,326.5 L880,321.5 L900,329 L920,344 L922.5,356.5 L910,369 L905,379 L897.5,374 L890,361.5 L875,354 L870,341.5ZM915,431.5 L925,426.5 L927.5,432.8 L920,436.5ZM945,316.5 L965,316.5 L962.5,324 L950,322.8ZM806.2,331.5 L812.5,329 L817.5,339 L812.5,342.8ZM997.5,327.8 L1007.5,327.8 L1010,332.8 L1000,336.5ZM826.9,174.7 L832.1,171.2 L840.9,183.5 L849.6,179.1 L863.6,192.2 L854.8,194 L842.6,187 L830.4,183.5ZM832.1,209.7 L846.1,205.3 L860.1,212.3 L844.4,212.3 L837.4,218.4ZM830.4,152 L842.6,148.5 L847.9,160.8 L837.4,162.5ZM902.9,185.2 L907.3,185.2 L909.9,192.2 L905.5,190.5ZM905,235 L925,240 L922.5,252.5 L910,245ZM893.8,252.5 L905,250 L910,260 L897.5,261.2ZM1497.5,590.2 L1487.5,590.2 L1475,594 L1472.5,601.5 L1457.5,605.2 L1445,609 L1437.5,624 L1432.5,638 L1422.5,650.5 L1420,670.5 L1412.5,680.5 L1397.5,695.5 L1402.5,713 L1402.5,728 L1397.5,738 L1412.5,745.5 L1427.5,753 L1435,768 L1440,778 L1457.5,788 L1475,798 L1487.5,803 L1497.5,804.2ZM1017.5,713 L1040,710.5 L1055,723 L1045,725.5 L1030,718ZM1057.5,721.8 L1075,720.5 L1090,729.2 L1072.5,726.8ZM1085,765.5 L1110,748 L1117.5,758 L1100,763 L1090,778 L1087.5,793 L1080,798ZM1422.5,884.2 L1442.5,888 L1435,895.5ZM1447.5,851.8 L1467.5,850.5 L1450,858ZM1472.5,695.5 L1490,689.2 L1490,700.5 L1475,701.8ZM1000,1024.5 L1015,1019.5 L1030,1015.8 L1055,1018.2 L1042.5,1023.2 L1030,1029.5 L1037.5,1035.8 L1025,1039.5 L1010,1042 L1000,1047 L990,1039.5ZM1152.5,1057 L1157.5,1047 L1172.5,1059.5 L1170,1069.5 L1160,1065.8ZM1097.5,1094.5 L1102.5,1094.5 L1105,1107 L1100,1105.8ZM1113.8,1100.8 L1118.8,1099.5 L1127.5,1107 L1122.5,1112ZM1290,998.2 L1310,1003.2 L1322.5,997 L1325,1003.2 L1312.5,1009.5 L1292.5,1007ZM1295,1048.2 L1305,1040.8 L1315,1043.2 L1307.5,1054.5 L1298.8,1054.5ZM1385,970.8 L1400,959.5 L1410,964.5 L1407.5,977 L1386.2,979.5ZM1455,954.5 L1467.5,964.5 L1480,962 L1487.5,972 L1487.5,987 L1475,984.5 L1462.5,972ZM975.7,668.9 L980.7,667.6 L983.2,687.7 L979.4,689 L975.7,678.9ZM451.9,891.6 L460.6,889.1 L469.4,890.3 L470.7,894.1 L463.1,892.8 L455.6,895.3ZM713.1,872.8 L733.2,861.5 L735.7,865.3 L715.6,877.8ZM555.2,926.7 L562.7,911.6 L565.2,912.9 L561.4,927.9ZM520.1,845.2 L525.1,845.2 L537.6,854 L535.1,856.5ZM70.2,1115.7 L82.7,1115.1 L80.2,1120.1 L72.7,1121.4ZM817.7,1052.8 L821.5,1052.8 L822.7,1060.4 L819,1062.9ZM826.5,1057.9 L831.5,1060.4 L830.2,1066.6 L825.2,1064.1ZM773.8,1020.2 L782.6,1021.5 L785.1,1026.5 L780.1,1026.5ZM846.5,1145.1 L854.1,1143.3 L865.3,1140.7 L875.4,1138.2 L880.4,1142 L890.4,1144.5 L897.9,1148.3 L892.9,1153.9 L885.4,1152 L877.9,1149.5 L870.4,1147 L862.8,1145.8 L857.8,1149.5 L850.3,1152.7ZM790,247.5 L800,244 L810,250 L807.5,257.5 L795,259ZM830,270 L845,272.5 L850,280 L835,279ZM795,286 L800,287.5 L799,299 L795,297.5ZM772.5,292.5 L779,295 L777.5,306 L774,302.5ZM805,331 L815,330 L820,340 L812.5,345ZM760,332.5 L772.5,330 L782.5,340 L780,360 L770,370 L762.5,360 L767.5,350 L760,345ZM602.5,315 L615,316 L614,321 L604,320ZM619,395 L629,396 L628,401 L620,400ZM750,125 L775,127.5 L774,134 L752.5,132.5Z" fill="#d2edfc" stroke="#6cb8e8" stroke-width="2.2" stroke-linejoin="round"/>
<path d="M330,31.2 L341.2,25M266.2,324 L275,321.5 L283.8,324 L277.5,330.2 L275,337.8M269.5,342.8 L272,349.5M346.2,402.8 L355,394 L363.8,387.8M307.5,444 L312.5,439 L316.2,446.5 L310,450.2 L307.5,444M322.5,436 L325,435.2M251.2,599 L257.5,594M762.5,334 L775,331.5 L780,344 L772.5,351.5 L777.5,364 L765,364 L767.5,349 L762.5,334M637.5,160 L672.5,180M640,207.5 L660,230M790,245 L810,255M832.5,270 L855,282.5M775,292.5 L780,305M795,287.5 L800,297.5M650,136.2 L672.5,140M705,406.5 L712.5,405.2 L715,415.2 L706.2,415.2 L705,406.5M1298.8,465.2 L1296.2,476.5 L1298.8,489 L1303.8,490.2 L1297.5,500.2M1027.5,332.8 L1045,340.2M1480,361.5 L1487.5,379M247.5,627.8 L253.8,632.8M262.5,766.8 L265,765.5M270,775.5 L275,776M237.5,835.5 L238.8,836.8M713.8,874.2 L732.5,864.2M521.2,846.8 L537.5,855M558,914.2 L561.2,925.5M978.8,670.5 L981.2,685.5M915,280 L940,300 L947.5,319M922.5,255 L935,275 L957.5,295M1040,791.8 L1050,803 L1047.5,813M1050,810.5 L1065,806.8M1480,670.5 L1487.5,653M1000,705.5 L1010,704.2 L1011.2,710.5M1204.6,1166.4 L1209.4,1159.9 L1213.6,1154.5 L1219.6,1149.1M1205.2,1165.8 L1210,1160.4 L1214.2,1155.7 L1219.6,1150M1020,1199.5 L1021.2,1213.2M1005,1162 L1012.5,1167M1020,1169.5 L1037.5,1162M660,1242 L670,1248.2M558.7,522.5 L564.7,524M443.4,652.7 L452.4,651.2M434.4,661.7 L437.4,658.7M952.2,1063.5 L959.7,1061.6M902.4,1105.9 L908.6,1109.6M1098,1094.7 L1104.3,1107.1M988.2,699.6 L1000,705.3M546.4,1016.5 L552.7,1017.7M647.9,943.8 L650.5,952.5M663,967.6 L670.5,975.1M703.1,991.4 L713.1,995.2 L720.7,1000.2M710.6,1003.9 L725.7,1005.2 L733.2,1010.2M694.3,1002.1 L699.3,1002.1M659.2,1241.7 L668,1247.9 L670.5,1249.2M515,300 L527.5,295M530,287.5 L545,280M550,270 L562.5,260M557.5,252.5 L572.5,247.5M575,232.5 L585,225M582.5,215 L592.5,207.5M590,197.5 L602.5,192.5M600,180 L612.5,175M607.5,162.5 L617.5,157.5M605,150 L620,147.5M620,130 L632.5,125M625,115 L637.5,112.5M640,102.5 L652.5,97.5M650,85 L662.5,87.5M667.5,75 L680,77.5M682.5,62.5 L695,67.5M700,52.5 L710,62.5M717.5,42.5 L722.5,60M732.5,37.5 L737.5,57.5M747.5,35 L750,55M762.5,40 L760,57.5M497.5,339 L485,346.5M490,356.5 L472.5,359M495,374 L470,376.5M490,391.5 L467.5,394M497.5,404 L472.5,409M490,424 L470,429M497.5,439 L475,444M490,459 L475,461.5M505,329 L522.5,324M500,344 L515,339M507.5,356.5 L525,351.5M974,669.4 L979.1,677.9 L982.5,688.1" fill="none" stroke="#6cb8e8" stroke-width="2.4" stroke-linejoin="round" stroke-linecap="round"/>
<path d="M825.2,1135.1 L830.2,1136.4 L830.2,1142.6 L826.5,1141.4ZM755,1100 L765,1101.3 L763.8,1106.3 L757.5,1105ZM899.2,1205.3 L904.2,1207.8 L904.2,1212.8 L900.5,1211.6ZM925.5,1137.6 L934.3,1138.9 L943.1,1142.6 L950.6,1150.2 L956.9,1151.4 L955.6,1155.2 L948.1,1152.7 L940.6,1146.4 L931.8,1142.6ZM926.8,1110 L931.8,1111.3 L934.3,1116.3 L929.3,1115ZM955.6,1167.7 L966.9,1163.9 L968.2,1172.7 L958.1,1174ZM935.6,1184 L941.8,1182.7 L943.1,1187.8 L936.8,1189ZM975.7,1147.6 L984.5,1142.6 L985.7,1146.4 L976.9,1151.4ZM990.7,1136.4 L1000,1135.1 L1000,1140.1 L992,1141.4ZM961.9,1179 L965.6,1179 L965.6,1182.7 L961.9,1182.7ZM989.5,1177.7 L995.7,1176.5 L995.7,1181.5 L990.7,1182.7ZM930.5,1153.9 L934.3,1153.9 L934.3,1158.9 L930.5,1158.9ZM933,1161.4 L938.1,1161.4 L938.1,1166.4 L933,1166.4ZM903,1106.3 L908,1106.3 L908,1111.3 L903,1111.3ZM918.6,1051 L923.6,1049.8 L926.1,1053.5 L922.3,1056ZM944.7,1053.5 L949.7,1052.9 L951,1056 L946,1057.3ZM936,1073.5 L946,1072.8 L946.6,1078.5 L937.3,1079.1ZM892.4,1076 L901.1,1072.2 L909.9,1078.5 L902.4,1077.2 L893.6,1080.9ZM927.3,1109.6 L931,1110.2 L934.8,1115.8 L929.8,1115.8Z" fill="#d2edfc" stroke="#6cb8e8" stroke-width="2.4" stroke-linejoin="round"/>
<path d="M751.2,60 L738.8,68.8 L733.8,80 L735,100 L730,116.2 L717.5,113.8 L707.5,120 L697.5,118.8 L685,105 L678.8,103.8 L677.5,111.2 L670,115 L672.5,135 L650,133.8 L645,150 L632.5,155 L627.5,170 L628.8,185 L617.5,202.5 L616.2,212.5 L606.2,220 L607.5,240 L606.2,252.5 L597.5,270 L603.8,277.5 L602.5,290 L587.5,291.2 L577.5,305 L572.5,319M751.2,61.2 L765,66.2 L772.5,75 L771.2,88.8M670,115 L680,122.5 L700,128.8 L710,133.8 L720,143.8 L720,155 L725,170 L732.5,182.5 L730,195 L736.2,202.5 L742.5,211.2M575,319 L577.5,344 L580,369 L588.8,381.5 L581.2,394 L586.2,411.5 L583.8,431.5 L573.8,439 L572.5,455.2M803.8,472.8 L816.2,467.8 L830,471.5 L842.5,477.8 L850,475.2 L860,476.5M757.5,540.2 L770,532.8 L787.5,531.5 L807.5,529 L822.5,522.8 L830,529 L845,531.5 L860,540.2M518.8,604 L530,606.5M797.5,597.8 L812.5,609M207.5,560.2 L197.5,569 L195,584 L207.5,582.8 L210,591.5 L220,594M70.2,983.9 L77.7,982.7 L85.3,983.9 L82.7,991.5 L85.3,995.2 L95.3,994 L100.3,997.7 L107.8,995.2 L115.3,996.5 L122.9,1000.2 L122.9,1007.8 L130.4,1012.8 L125.4,1019 L117.9,1022.8 L110.3,1027.8 L109.1,1037.9 L107.8,1047.9 L105.3,1054.2 L101.6,1059.2 L102.8,1065.4 L97.8,1070.5 L87.8,1070.5 L82.7,1069.2 L86.5,1075.5 L87.8,1080M86.5,1080 L87.8,1086.3 L94,1090 L92.8,1096.3 L86.5,1101.3 L90.3,1105.1 L87.8,1122.6 L80.2,1125.1 L75.2,1131.4 L69,1137.7 L70.2,1145.2 L70.8,1151.5M518.3,603.3 L524.3,604 L530.2,607M485.3,661.7 L486.1,669.2 L480.8,679.6 L473.4,684.1 L477.8,691M632,658.7 L629,667.7 L633.5,676.6 L639.5,684.1 L638,691M631.6,657.6 L631.6,663.9 L627.9,668.9 L632.9,675.2 L639.2,680.2 L637.9,687.7 L641.7,692.7 L642.9,702.7 L641.7,707.8 L645.4,715.3 L649.2,720.3 L651.7,730.3M493.2,817.6 L490.7,827.6 L487,836.4 L484.5,845.2 L479.4,854 L474.4,855.2 L481.9,856.5 L488.2,855.2 L500,854M474.4,855.2 L468.2,870.3 L460.6,872.8 L458.1,880.3 L451.9,884.1 L449.3,890.3 L453.1,895.3M468.2,897.9 L465.6,902.9 L470.7,904.1 L475.7,909.1 L485.7,906.6 L494.5,909.1 L500,905.4M470.7,910.4 L465.6,912.9 L468.2,919.2 L463.1,935.5 L468.2,940M450.6,787.5 L463.1,790 L470.7,798.8 L485.7,800.1M706.9,890.3 L715.6,896.6 L725.7,902.9 L738.2,905.4 L750,902.9M522.6,892.8 L528.8,890.3 L532.6,896.6 L541.4,895.3 L546.4,892.8 L552.7,889.1 L560.2,880.3 L570.2,877.8 L580.2,872.8 L592.8,870.3 L597.8,877.8 L602.8,882.8 L612.8,885.3 L625.4,887.8 L644.2,890.3 L655.5,890.3 L685.6,890.3M622.9,896.6 L629.1,900.4 L627.9,906.6 L632.9,915.4 L645.4,921.7 L655.5,915.4 L668,912.9 L669.3,907.9 L680.5,906.6M683,927.9 L695.6,930.5 L708.1,925.4 L720.7,927.9 L735.7,926.7 L750,930.5M500,891.6 L506.3,897.9 L516.3,911.6M750,825.1 L757.5,818.9 L766.3,817.6 L773.8,815.1 L777.6,808.8 L785.1,802.6 L800.2,800.1 L808.9,806.3 L816.4,805.1M837.8,816.4 L827.7,823.9 L821.5,830.2 L817.7,840.2 L813.9,852.7 L810.2,862.7 L806.4,872.8 L800.2,879 L791.4,884.1 L785.1,886.6 L775.1,886.6 L762.5,891.6 L750,896.6M785.1,886.6 L793.9,892.8 L798.9,900.4 L802.7,907.9 L812.7,911.6 L819,917.9 L820.2,924.2 L825.2,930.5 L837.8,931.7 L845.3,927.9 L852.8,930.5 L850.3,936.7 L854.1,940M940.6,930.5 L950.6,924.2 L963.1,921.7 L975.7,922.9 L985.7,926.7 L1000,927.9M750,926.7 L760,929.2 L762.5,935.5 L767.6,940M757.5,917.9 L770.1,921.7M250,976.4 L257.5,978.9 L257.5,983.9 L265,987.6 L277.6,996.4 L287.6,1000.2 L291.4,1005.2 L305.2,1002.7 L312.7,1001.4 L320.2,1006.4 L325.2,1011.5 L330.2,1010.2 L342.8,1019 L350.3,1020.2 L355.3,1022.7 L360.3,1017.7M463.1,940 L468.2,945 L465.6,957.6 L470.7,965.1 L483.2,968.8 L487,971.3 L483.2,977.6M681.8,940 L688.1,945 L694.3,952.5 L693.1,962.6 L700.6,967.6 L708.1,972.6 L713.1,977.6 L721.9,983.9 L725.7,992.7 L733.2,997.7 L738.2,1003.9 L750,1008.3M766.3,940 L765,947.5 L768.8,953.8 L777.6,958.8 L776.3,967.6 L778.8,975.1 L766.3,977.6M766.3,977.6 L775.1,980.1 L785.1,986.4 L791.4,990.2 L800.2,992.7 L805.2,995.2 L798.9,1000.2 L796.4,1006.4M766.3,977.6 L760,986.4 L755,997.7 L756.3,1006.4 L758.8,1011.5M796.4,1006.4 L787.6,1005.2 L781.3,1015.2M796.4,1006.4 L802.7,1012.7 L808.9,1017.7 L812.7,1025.3 L811.4,1035.3 L810.2,1040.3 L812.7,1047.8 L816.4,1052.8M847.8,940 L847.8,947.5 L846.5,956.3 L850.3,965.1 L857.8,970.1 L865.3,975.1 L864.1,982.6 L856.6,987.6 L854.1,992.7 L856.6,1002.7 L855.3,1006.4M855.3,1006.4 L847.8,1009 L837.8,1012.7 L830.2,1016.5 L820.2,1020.2 L815.2,1022.7 L812.7,1026.5M855.3,1006.4 L862.8,1012.7 L870.4,1017.7 L874.1,1025.3 L875.4,1035.3 L870.4,1040.3M870.4,1040.3 L867.9,1044.1 L857.8,1046.6 L850.3,1049.1 L846.5,1054.1 L837.8,1057.9 L832.7,1060.4 L830.2,1066.6M830.2,1066.6 L827.7,1074.2 L824,1077.9 L822.7,1085.4 L817.7,1090.5 L812.7,1095.5 L815.2,1100M870.4,1040.3 L880.4,1036.5 L887.9,1032.8 L897.9,1027.8 L908,1024 L918,1026.5 L925.5,1027.8 L933,1030.3 L943.1,1025.3 L950.6,1021.5 L955.6,1017.7 L956.9,1012.7 L951.9,1010.2 L955.6,1007.7M850.3,942.5 L862.8,945 L860.3,952.5 L870.4,952.5 L887.9,952.5 L900.5,950 L913,948.8 L925.5,946.3 L930.5,942.5M807.7,982.6 L811.4,985.1M815.2,985.1 L822.7,986.4M826.5,992.7 L830.2,997.7M837.8,996.4 L837.8,1005.2M640.7,700 L642.2,709 L649.7,718 L651.2,726.9M651.2,728.4 L639.2,734.4 L628.7,743.4 L613.8,750.9 L592.8,759.9 L589.8,764.4 L597.3,771.9 L598.8,780.8 L607.8,791.3 L618.3,800.3 L628.7,811.5M628.7,811.5 L634.7,813.8 L640.7,817.5 L649.7,812.3 L655.7,803.3 L664.7,804.8 L687.1,806.3 L700.6,803.3 L712.6,801.8M628.7,811.5 L625.7,818.3 L619.8,825.7 L610.8,828.7 L607.8,834.7 L607.8,849.7 L595.8,849.7 L583.8,851.2 L577.8,855.7 L568.9,858.7 L550.9,855.7 L529.9,849.7 L507.5,845.2 L500,849.7M651.2,728.4 L658.7,738.9 L670.7,741.9 L682.6,744.9 L691.6,749.4 L699.1,750.9 L709.6,752.4 L715.6,759.9 L727.5,762.9 L733.5,765.9 L739.5,774.9M739.5,774.9 L733.5,783.8 L727.5,789.8 L721.6,797.3 L714.1,801.8M739.5,774.9 L747,777.8 L753,771.9 L760.5,780.8 L769.5,777.8 L784.4,774.9 L800,770.4M714.1,801.8 L709.6,810.8 L706.6,827.2 L709.6,831.7 L715.6,836.2M715.6,836.2 L730.5,837.7 L742.5,834.7 L745.5,827.2 L757.5,819.8 L766.5,816.8 L775.4,813.8 L778.4,806.3 L787.4,801.8 L800,800.3M715.6,836.2 L709.6,839.2 L706.6,849.7 L694.6,866.2 L688.6,870.7 L694.6,879.6 L699.1,891" fill="none" stroke="#fff" stroke-width="2.9" stroke-linejoin="round"/>
<path d="M-1011.9,1275.6 L-1004.4,1260.5 L-996.9,1245.4 L-989.2,1230.4 L-981.6,1215.3 L-973.8,1200.3 L-966,1185.3 L-958.2,1170.3 L-950.2,1155.3 L-942.2,1140.4 L-934.2,1125.4 L-926,1110.5 L-917.8,1095.6 L-909.6,1080.7 L-901.3,1065.8 L-892.9,1051 L-884.4,1036.1 L-875.9,1021.3 L-867.4,1006.5 L-858.7,991.7 L-850.1,977 L-841.3,962.2 L-832.5,947.5 L-823.6,932.8 L-814.7,918.1 L-805.7,903.5 L-796.7,888.9 L-787.6,874.2 L-778.4,859.6 L-769.2,845.1 L-759.9,830.5 L-750.6,816 L-741.2,801.5 L-731.8,787 L-722.3,772.6 L-712.7,758.1 L-703.1,743.7 L-693.4,729.3 L-683.7,715 L-673.9,700.6 L-664.1,686.3 L-654.2,672 L-644.3,657.8 L-634.3,643.5 L-624.2,629.3 L-614.1,615.1 L-604,601 L-593.8,586.8 L-583.5,572.7 L-573.2,558.7 L-562.9,544.6 L-552.5,530.6 L-542,516.6 L-531.5,502.6 L-520.9,488.7 L-510.3,474.8 L-499.7,460.9 L-489,447 L-478.2,433.2 L-467.4,419.4 L-456.6,405.7 L-445.7,391.9 L-434.7,378.2 L-423.7,364.6 L-412.7,350.9 L-401.6,337.3 L-390.5,323.7 L-379.3,310.2 L-368,296.7 L-356.8,283.2 L-345.5,269.8 L-334.1,256.4 L-322.7,243 L-311.2,229.6 L-299.7,216.3 L-288.2,203 L-276.6,189.8 L-265,176.6 L-253.3,163.4 L-241.6,150.3 L-229.8,137.2 L-218,124.1 L-206.2,111.1 L-194.3,98.1 L-182.4,85.2 L-170.4,72.2 L-158.4,59.4 L-146.4,46.5 L-134.3,33.7 L-122.2,20.9 L-110,8.2 L-97.8,-4.5 L-85.5,-17.1 L-73.2,-29.7 L-60.9,-42.3 L-48.6,-54.8 L-36.2,-67.3 L-23.7,-79.8 L-11.2,-92.2 L1.3,-104.5 L13.8,-116.9 L26.4,-129.1 L39,-141.4 L51.7,-153.6 L64.4,-165.7 L77.1,-177.8 L89.9,-189.9 L102.7,-201.9 L115.5,-213.9 L128.4,-225.8 L141.3,-237.7 L154.2,-249.6 L167.2,-261.4 L180.2,-273.1 L193.3,-284.8 L206.4,-296.5 L219.5,-308.1 L232.6,-319.7 L245.8,-331.2 L259,-342.7 L272.2,-354.1 L285.5,-365.5 L298.8,-376.8 L312.1,-388.1 L325.5,-399.4 L338.9,-410.5 L352.3,-421.7 L365.8,-432.8 L379.2,-443.8 L392.8,-454.8 L406.3,-465.7 L419.9,-476.6 L433.5,-487.4 L447.1,-498.2 L460.8,-508.9 L474.5,-519.6 L488.2,-530.2 L501.9,-540.8 L515.7,-551.3 L529.5,-561.8 L543.3,-572.2M-734.2,1456.6 L-728.2,1441 L-722.2,1425.4 L-716.1,1409.8 L-710,1394.2 L-703.8,1378.6 L-697.5,1363 L-691.2,1347.4 L-684.9,1331.8 L-678.4,1316.3 L-672,1300.7 L-665.4,1285.1 L-658.9,1269.6 L-652.2,1254 L-645.6,1238.5 L-638.8,1222.9 L-632,1207.4 L-625.2,1191.9 L-618.3,1176.4 L-611.4,1160.8 L-604.4,1145.3 L-597.3,1129.8 L-590.2,1114.4 L-583.1,1098.9 L-575.9,1083.4 L-568.6,1067.9 L-561.3,1052.5 L-553.9,1037 L-546.5,1021.6 L-539.1,1006.2 L-531.6,990.8 L-524,975.4 L-516.4,960 L-508.8,944.6 L-501.1,929.2 L-493.4,913.9 L-485.6,898.5 L-477.7,883.2 L-469.8,867.9 L-461.9,852.5 L-453.9,837.3 L-445.9,822 L-437.8,806.7 L-429.7,791.5 L-421.6,776.2 L-413.3,761 L-405.1,745.8 L-396.8,730.6 L-388.4,715.4 L-380.1,700.2 L-371.6,685.1 L-363.1,670 L-354.6,654.9 L-346.1,639.8 L-337.4,624.7 L-328.8,609.6 L-320.1,594.6 L-311.4,579.6 L-302.6,564.6 L-293.7,549.6 L-284.9,534.6 L-276,519.7 L-267,504.7 L-258,489.8 L-249,475 L-239.9,460.1 L-230.8,445.3 L-221.6,430.4 L-212.4,415.6 L-203.2,400.9 L-193.9,386.1 L-184.6,371.4 L-175.3,356.7 L-165.9,342 L-156.4,327.3 L-146.9,312.7 L-137.4,298.1 L-127.9,283.5 L-118.3,268.9 L-108.7,254.4 L-99,239.9 L-89.3,225.4 L-79.5,210.9 L-69.8,196.5 L-59.9,182.1 L-50.1,167.7 L-40.2,153.3 L-30.3,139 L-20.3,124.7 L-10.3,110.4 L-0.3,96.2 L9.8,82 L19.9,67.8 L30.1,53.6 L40.2,39.5 L50.5,25.4 L60.7,11.4 L71,-2.7 L81.3,-16.7 L91.7,-30.6 L102.1,-44.6 L112.5,-58.5 L122.9,-72.4 L133.4,-86.2 L143.9,-100 L154.5,-113.8 L165.1,-127.5 L175.7,-141.2 L186.3,-154.9 L197,-168.5 L207.8,-182.1 L218.5,-195.7 L229.3,-209.2 L240.1,-222.7 L250.9,-236.2 L261.8,-249.6 L272.7,-263 L283.7,-276.3 L294.6,-289.6 L305.6,-302.9 L316.6,-316.1 L327.7,-329.3 L338.8,-342.5 L349.9,-355.6 L361.1,-368.7 L372.2,-381.7 L383.4,-394.7 L394.7,-407.6 L405.9,-420.6 L417.2,-433.4 L428.6,-446.3 L439.9,-459 L451.3,-471.8 L462.7,-484.5 L474.1,-497.2 L485.6,-509.8 L497.1,-522.3 L508.6,-534.9 L520.1,-547.4 L531.7,-559.8 L543.3,-572.2M-434,1598.1 L-429.6,1582.2 L-425.1,1566.2 L-420.5,1550.2 L-415.9,1534.2 L-411.3,1518.2 L-406.6,1502.2 L-401.8,1486.2 L-397.1,1470.1 L-392.2,1454.1 L-387.4,1438.1 L-382.5,1422.1 L-377.5,1406 L-372.6,1390 L-367.5,1373.9 L-362.5,1357.9 L-357.3,1341.8 L-352.2,1325.8 L-347,1309.7 L-341.8,1293.6 L-336.5,1277.6 L-331.2,1261.5 L-325.8,1245.4 L-320.4,1229.4 L-315,1213.3 L-309.5,1197.2 L-304,1181.1 L-298.5,1165.1 L-292.9,1149 L-287.3,1132.9 L-281.6,1116.9 L-275.9,1100.8 L-270.1,1084.7 L-264.3,1068.7 L-258.5,1052.6 L-252.7,1036.5 L-246.8,1020.5 L-240.8,1004.4 L-234.9,988.4 L-228.9,972.3 L-222.8,956.3 L-216.7,940.3 L-210.6,924.2 L-204.4,908.2 L-198.2,892.2 L-192,876.2 L-185.8,860.1 L-179.5,844.1 L-173.1,828.1 L-166.7,812.2 L-160.3,796.2 L-153.9,780.2 L-147.4,764.2 L-140.9,748.3 L-134.3,732.3 L-127.8,716.4 L-121.1,700.4 L-114.5,684.5 L-107.8,668.6 L-101.1,652.7 L-94.3,636.8 L-87.5,620.9 L-80.7,605.1 L-73.9,589.2 L-67,573.3 L-60.1,557.5 L-53.1,541.7 L-46.1,525.9 L-39.1,510.1 L-32,494.3 L-25,478.5 L-17.8,462.8 L-10.7,447 L-3.5,431.3 L3.7,415.6 L11,399.9 L18.2,384.2 L25.5,368.5 L32.9,352.9 L40.2,337.2 L47.7,321.6 L55.1,306 L62.5,290.4 L70,274.9 L77.6,259.3 L85.1,243.8 L92.7,228.3 L100.3,212.8 L108,197.3 L115.6,181.9 L123.3,166.4 L131.1,151 L138.8,135.6 L146.6,120.3 L154.4,104.9 L162.3,89.6 L170.2,74.3 L178.1,59 L186,43.8 L194,28.5 L202,13.3 L210,-1.9 L218,-17 L226.1,-32.2 L234.2,-47.3 L242.3,-62.4 L250.5,-77.4 L258.7,-92.5 L266.9,-107.5 L275.1,-122.5 L283.4,-137.4 L291.7,-152.4 L300,-167.3 L308.3,-182.2 L316.7,-197 L325.1,-211.8 L333.5,-226.6 L342,-241.4 L350.5,-256.1 L359,-270.8 L367.5,-285.5 L376.1,-300.2 L384.6,-314.8 L393.2,-329.3 L401.9,-343.9 L410.5,-358.4 L419.2,-372.9 L427.9,-387.4 L436.6,-401.8 L445.4,-416.2 L454.2,-430.5 L463,-444.9 L471.8,-459.1 L480.7,-473.4 L489.5,-487.6 L498.4,-501.8 L507.4,-516 L516.3,-530.1 L525.3,-544.1 L534.3,-558.2 L543.3,-572.2M-117.3,1699.7 L-114.4,1683.4 L-111.4,1667.2 L-108.3,1650.9 L-105.3,1634.7 L-102.2,1618.4 L-99,1602.1 L-95.9,1585.8 L-92.7,1569.4 L-89.5,1553.1 L-86.2,1536.8 L-83,1520.4 L-79.7,1504 L-76.3,1487.6 L-73,1471.2 L-69.6,1454.8 L-66.2,1438.4 L-62.7,1422 L-59.3,1405.6 L-55.8,1389.1 L-52.2,1372.7 L-48.7,1356.2 L-45.1,1339.7 L-41.5,1323.2 L-37.9,1306.8 L-34.2,1290.3 L-30.5,1273.8 L-26.8,1257.2 L-23.1,1240.7 L-19.3,1224.2 L-15.5,1207.7 L-11.7,1191.2 L-7.8,1174.6 L-3.9,1158.1 L-0,1141.5 L3.9,1125 L7.9,1108.4 L11.8,1091.9 L15.9,1075.3 L19.9,1058.7 L23.9,1042.2 L28,1025.6 L32.1,1009 L36.3,992.5 L40.4,975.9 L44.6,959.3 L48.8,942.7 L53.1,926.2 L57.3,909.6 L61.6,893 L65.9,876.4 L70.3,859.9 L74.6,843.3 L79,826.7 L83.4,810.1 L87.8,793.6 L92.3,777 L96.8,760.4 L101.3,743.9 L105.8,727.3 L110.4,710.8 L114.9,694.2 L119.5,677.7 L124.2,661.1 L128.8,644.6 L133.5,628.1 L138.2,611.6 L142.9,595 L147.6,578.5 L152.4,562 L157.2,545.5 L162,529 L166.8,512.6 L171.6,496.1 L176.5,479.6 L181.4,463.2 L186.3,446.7 L191.3,430.3 L196.2,413.9 L201.2,397.4 L206.2,381 L211.2,364.6 L216.3,348.2 L221.4,331.9 L226.4,315.5 L231.6,299.2 L236.7,282.8 L241.8,266.5 L247,250.2 L252.2,233.9 L257.4,217.6 L262.7,201.3 L267.9,185.1 L273.2,168.8 L278.5,152.6 L283.8,136.4 L289.2,120.2 L294.5,104 L299.9,87.8 L305.3,71.7 L310.7,55.5 L316.2,39.4 L321.6,23.3 L327.1,7.3 L332.6,-8.8 L338.2,-24.9 L343.7,-40.9 L349.3,-56.9 L354.8,-72.9 L360.4,-88.8 L366.1,-104.8 L371.7,-120.7 L377.4,-136.6 L383,-152.5 L388.7,-168.4 L394.4,-184.2 L400.2,-200 L405.9,-215.8 L411.7,-231.6 L417.5,-247.3 L423.3,-263.1 L429.1,-278.8 L435,-294.4 L440.8,-310.1 L446.7,-325.7 L452.6,-341.3 L458.5,-356.9 L464.5,-372.5 L470.4,-388 L476.4,-403.5 L482.4,-419 L488.4,-434.4 L494.4,-449.8 L500.5,-465.2 L506.5,-480.6 L512.6,-495.9 L518.7,-511.2 L524.8,-526.5 L531,-541.8 L537.1,-557 L543.3,-572.2M210.3,1760.8 L211.8,1744.4 L213.3,1728 L214.8,1711.6 L216.3,1695.1 L217.9,1678.7 L219.4,1662.2 L221,1645.7 L222.6,1629.2 L224.2,1612.7 L225.8,1596.2 L227.5,1579.6 L229.1,1563 L230.8,1546.4 L232.5,1529.8 L234.1,1513.2 L235.9,1496.6 L237.6,1480 L239.3,1463.3 L241.1,1446.6 L242.8,1430 L244.6,1413.3 L246.4,1396.5 L248.2,1379.8 L250,1363.1 L251.9,1346.4 L253.7,1329.6 L255.6,1312.8 L257.5,1296.1 L259.4,1279.3 L261.3,1262.5 L263.2,1245.7 L265.1,1228.8 L267.1,1212 L269,1195.2 L271,1178.3 L273,1161.5 L275,1144.6 L277,1127.8 L279,1110.9 L281,1094 L283.1,1077.1 L285.2,1060.2 L287.2,1043.3 L289.3,1026.4 L291.4,1009.5 L293.5,992.6 L295.7,975.7 L297.8,958.8 L300,941.9 L302.1,924.9 L304.3,908 L306.5,891.1 L308.7,874.1 L310.9,857.2 L313.2,840.3 L315.4,823.3 L317.6,806.4 L319.9,789.4 L322.2,772.5 L324.5,755.5 L326.8,738.6 L329.1,721.6 L331.4,704.7 L333.8,687.8 L336.1,670.8 L338.5,653.9 L340.8,636.9 L343.2,620 L345.6,603.1 L348,586.1 L350.5,569.2 L352.9,552.3 L355.3,535.4 L357.8,518.5 L360.3,501.5 L362.7,484.6 L365.2,467.7 L367.7,450.8 L370.2,434 L372.8,417.1 L375.3,400.2 L377.8,383.3 L380.4,366.5 L383,349.6 L385.5,332.8 L388.1,315.9 L390.7,299.1 L393.3,282.3 L396,265.5 L398.6,248.7 L401.2,231.9 L403.9,215.1 L406.6,198.3 L409.2,181.6 L411.9,164.8 L414.6,148.1 L417.3,131.3 L420,114.6 L422.8,97.9 L425.5,81.2 L428.3,64.6 L431,47.9 L433.8,31.3 L436.6,14.6 L439.4,-2 L442.2,-18.6 L445,-35.2 L447.8,-51.8 L450.6,-68.3 L453.5,-84.9 L456.3,-101.4 L459.2,-117.9 L462.1,-134.4 L464.9,-150.9 L467.8,-167.3 L470.7,-183.8 L473.7,-200.2 L476.6,-216.6 L479.5,-233 L482.5,-249.4 L485.4,-265.7 L488.4,-282 L491.3,-298.4 L494.3,-314.6 L497.3,-330.9 L500.3,-347.1 L503.3,-363.4 L506.3,-379.6 L509.4,-395.8 L512.4,-411.9 L515.4,-428 L518.5,-444.2 L521.6,-460.2 L524.6,-476.3 L527.7,-492.4 L530.8,-508.4 L533.9,-524.4 L537,-540.3 L540.2,-556.3 L543.3,-572.2M543.3,1781.1 L543.3,1764.7 L543.3,1748.3 L543.3,1731.8 L543.3,1715.3 L543.3,1698.8 L543.3,1682.3 L543.3,1665.7 L543.3,1649.2 L543.3,1632.6 L543.3,1616 L543.3,1599.4 L543.3,1582.7 L543.3,1566.1 L543.3,1549.4 L543.3,1532.7 L543.3,1516 L543.3,1499.3 L543.3,1482.6 L543.3,1465.9 L543.3,1449.1 L543.3,1432.3 L543.3,1415.5 L543.3,1398.7 L543.3,1381.9 L543.3,1365.1 L543.3,1348.3 L543.3,1331.4 L543.3,1314.5 L543.3,1297.7 L543.3,1280.8 L543.3,1263.9 L543.3,1247 L543.3,1230.1 L543.3,1213.1 L543.3,1196.2 L543.3,1179.2 L543.3,1162.3 L543.3,1145.3 L543.3,1128.3 L543.3,1111.4 L543.3,1094.4 L543.3,1077.4 L543.3,1060.4 L543.3,1043.4 L543.3,1026.3 L543.3,1009.3 L543.3,992.3 L543.3,975.3 L543.3,958.2 L543.3,941.2 L543.3,924.1 L543.3,907.1 L543.3,890 L543.3,872.9 L543.3,855.9 L543.3,838.8 L543.3,821.7 L543.3,804.7 L543.3,787.6 L543.3,770.5 L543.3,753.4 L543.3,736.4 L543.3,719.3 L543.3,702.2 L543.3,685.1 L543.3,668 L543.3,651 L543.3,633.9 L543.3,616.8 L543.3,599.7 L543.3,582.7 L543.3,565.6 L543.3,548.5 L543.3,531.5 L543.3,514.4 L543.3,497.3 L543.3,480.3 L543.3,463.2 L543.3,446.2 L543.3,429.1 L543.3,412.1 L543.3,395.1 L543.3,378.1 L543.3,361 L543.3,344 L543.3,327 L543.3,310 L543.3,293 L543.3,276.1 L543.3,259.1 L543.3,242.1 L543.3,225.2 L543.3,208.2 L543.3,191.3 L543.3,174.3 L543.3,157.4 L543.3,140.5 L543.3,123.6 L543.3,106.7 L543.3,89.9 L543.3,73 L543.3,56.1 L543.3,39.3 L543.3,22.5 L543.3,5.7 L543.3,-11.1 L543.3,-27.9 L543.3,-44.7 L543.3,-61.5 L543.3,-78.2 L543.3,-94.9 L543.3,-111.6 L543.3,-128.3 L543.3,-145 L543.3,-161.7 L543.3,-178.3 L543.3,-195 L543.3,-211.6 L543.3,-228.2 L543.3,-244.8 L543.3,-261.3 L543.3,-277.9 L543.3,-294.4 L543.3,-310.9 L543.3,-327.4 L543.3,-343.9 L543.3,-360.3 L543.3,-376.7 L543.3,-393.1 L543.3,-409.5 L543.3,-425.9 L543.3,-442.2 L543.3,-458.6 L543.3,-474.9 L543.3,-491.1 L543.3,-507.4 L543.3,-523.6 L543.3,-539.8 L543.3,-556 L543.3,-572.2M876.3,1760.8 L874.8,1744.4 L873.3,1728 L871.8,1711.6 L870.3,1695.1 L868.7,1678.7 L867.2,1662.2 L865.6,1645.7 L864,1629.2 L862.4,1612.7 L860.8,1596.2 L859.1,1579.6 L857.5,1563 L855.8,1546.4 L854.1,1529.8 L852.5,1513.2 L850.7,1496.6 L849,1480 L847.3,1463.3 L845.5,1446.6 L843.8,1430 L842,1413.3 L840.2,1396.5 L838.4,1379.8 L836.6,1363.1 L834.7,1346.4 L832.9,1329.6 L831,1312.8 L829.1,1296.1 L827.2,1279.3 L825.3,1262.5 L823.4,1245.7 L821.5,1228.8 L819.5,1212 L817.6,1195.2 L815.6,1178.3 L813.6,1161.5 L811.6,1144.6 L809.6,1127.8 L807.6,1110.9 L805.6,1094 L803.5,1077.1 L801.4,1060.2 L799.4,1043.3 L797.3,1026.4 L795.2,1009.5 L793.1,992.6 L790.9,975.7 L788.8,958.8 L786.6,941.9 L784.5,924.9 L782.3,908 L780.1,891.1 L777.9,874.1 L775.7,857.2 L773.4,840.3 L771.2,823.3 L769,806.4 L766.7,789.4 L764.4,772.5 L762.1,755.5 L759.8,738.6 L757.5,721.6 L755.2,704.7 L752.8,687.8 L750.5,670.8 L748.1,653.9 L745.8,636.9 L743.4,620 L741,603.1 L738.6,586.1 L736.1,569.2 L733.7,552.3 L731.3,535.4 L728.8,518.5 L726.3,501.5 L723.9,484.6 L721.4,467.7 L718.9,450.8 L716.4,434 L713.8,417.1 L711.3,400.2 L708.8,383.3 L706.2,366.5 L703.6,349.6 L701.1,332.8 L698.5,315.9 L695.9,299.1 L693.3,282.3 L690.6,265.5 L688,248.7 L685.4,231.9 L682.7,215.1 L680,198.3 L677.4,181.6 L674.7,164.8 L672,148.1 L669.3,131.3 L666.6,114.6 L663.8,97.9 L661.1,81.2 L658.3,64.6 L655.6,47.9 L652.8,31.3 L650,14.6 L647.2,-2 L644.4,-18.6 L641.6,-35.2 L638.8,-51.8 L636,-68.3 L633.1,-84.9 L630.3,-101.4 L627.4,-117.9 L624.5,-134.4 L621.7,-150.9 L618.8,-167.3 L615.9,-183.8 L612.9,-200.2 L610,-216.6 L607.1,-233 L604.1,-249.4 L601.2,-265.7 L598.2,-282 L595.3,-298.4 L592.3,-314.6 L589.3,-330.9 L586.3,-347.1 L583.3,-363.4 L580.3,-379.6 L577.2,-395.8 L574.2,-411.9 L571.2,-428 L568.1,-444.2 L565,-460.2 L562,-476.3 L558.9,-492.4 L555.8,-508.4 L552.7,-524.4 L549.6,-540.3 L546.4,-556.3 L543.3,-572.2M1203.9,1699.7 L1201,1683.4 L1198,1667.2 L1194.9,1650.9 L1191.9,1634.7 L1188.8,1618.4 L1185.6,1602.1 L1182.5,1585.8 L1179.3,1569.4 L1176.1,1553.1 L1172.8,1536.8 L1169.6,1520.4 L1166.3,1504 L1162.9,1487.6 L1159.6,1471.2 L1156.2,1454.8 L1152.8,1438.4 L1149.3,1422 L1145.9,1405.6 L1142.4,1389.1 L1138.8,1372.7 L1135.3,1356.2 L1131.7,1339.7 L1128.1,1323.2 L1124.5,1306.8 L1120.8,1290.3 L1117.1,1273.8 L1113.4,1257.2 L1109.7,1240.7 L1105.9,1224.2 L1102.1,1207.7 L1098.3,1191.2 L1094.4,1174.6 L1090.5,1158.1 L1086.6,1141.5 L1082.7,1125 L1078.7,1108.4 L1074.8,1091.9 L1070.7,1075.3 L1066.7,1058.7 L1062.7,1042.2 L1058.6,1025.6 L1054.5,1009 L1050.3,992.5 L1046.2,975.9 L1042,959.3 L1037.8,942.7 L1033.5,926.2 L1029.3,909.6 L1025,893 L1020.7,876.4 L1016.3,859.9 L1012,843.3 L1007.6,826.7 L1003.2,810.1 L998.8,793.6 L994.3,777 L989.8,760.4 L985.3,743.9 L980.8,727.3 L976.2,710.8 L971.7,694.2 L967.1,677.7 L962.4,661.1 L957.8,644.6 L953.1,628.1 L948.4,611.6 L943.7,595 L939,578.5 L934.2,562 L929.4,545.5 L924.6,529 L919.8,512.6 L915,496.1 L910.1,479.6 L905.2,463.2 L900.3,446.7 L895.3,430.3 L890.4,413.9 L885.4,397.4 L880.4,381 L875.4,364.6 L870.3,348.2 L865.2,331.9 L860.2,315.5 L855,299.2 L849.9,282.8 L844.8,266.5 L839.6,250.2 L834.4,233.9 L829.2,217.6 L823.9,201.3 L818.7,185.1 L813.4,168.8 L808.1,152.6 L802.8,136.4 L797.4,120.2 L792.1,104 L786.7,87.8 L781.3,71.7 L775.9,55.5 L770.4,39.4 L765,23.3 L759.5,7.3 L754,-8.8 L748.4,-24.9 L742.9,-40.9 L737.3,-56.9 L731.8,-72.9 L726.2,-88.8 L720.5,-104.8 L714.9,-120.7 L709.2,-136.6 L703.6,-152.5 L697.9,-168.4 L692.2,-184.2 L686.4,-200 L680.7,-215.8 L674.9,-231.6 L669.1,-247.3 L663.3,-263.1 L657.5,-278.8 L651.6,-294.4 L645.8,-310.1 L639.9,-325.7 L634,-341.3 L628.1,-356.9 L622.1,-372.5 L616.2,-388 L610.2,-403.5 L604.2,-419 L598.2,-434.4 L592.2,-449.8 L586.1,-465.2 L580.1,-480.6 L574,-495.9 L567.9,-511.2 L561.8,-526.5 L555.6,-541.8 L549.5,-557 L543.3,-572.2M1520.6,1598.1 L1516.2,1582.2 L1511.7,1566.2 L1507.1,1550.2 L1502.5,1534.2 L1497.9,1518.2 L1493.2,1502.2 L1488.4,1486.2 L1483.7,1470.1 L1478.8,1454.1 L1474,1438.1 L1469.1,1422.1 L1464.1,1406 L1459.2,1390 L1454.1,1373.9 L1449.1,1357.9 L1443.9,1341.8 L1438.8,1325.8 L1433.6,1309.7 L1428.4,1293.6 L1423.1,1277.6 L1417.8,1261.5 L1412.4,1245.4 L1407,1229.4 L1401.6,1213.3 L1396.1,1197.2 L1390.6,1181.1 L1385.1,1165.1 L1379.5,1149 L1373.9,1132.9 L1368.2,1116.9 L1362.5,1100.8 L1356.7,1084.7 L1350.9,1068.7 L1345.1,1052.6 L1339.3,1036.5 L1333.4,1020.5 L1327.4,1004.4 L1321.5,988.4 L1315.5,972.3 L1309.4,956.3 L1303.3,940.3 L1297.2,924.2 L1291,908.2 L1284.8,892.2 L1278.6,876.2 L1272.4,860.1 L1266.1,844.1 L1259.7,828.1 L1253.3,812.2 L1246.9,796.2 L1240.5,780.2 L1234,764.2 L1227.5,748.3 L1220.9,732.3 L1214.4,716.4 L1207.7,700.4 L1201.1,684.5 L1194.4,668.6 L1187.7,652.7 L1180.9,636.8 L1174.1,620.9 L1167.3,605.1 L1160.5,589.2 L1153.6,573.3 L1146.7,557.5 L1139.7,541.7 L1132.7,525.9 L1125.7,510.1 L1118.6,494.3 L1111.6,478.5 L1104.4,462.8 L1097.3,447 L1090.1,431.3 L1082.9,415.6 L1075.6,399.9 L1068.4,384.2 L1061.1,368.5 L1053.7,352.9 L1046.4,337.2 L1038.9,321.6 L1031.5,306 L1024.1,290.4 L1016.6,274.9 L1009,259.3 L1001.5,243.8 L993.9,228.3 L986.3,212.8 L978.6,197.3 L971,181.9 L963.3,166.4 L955.5,151 L947.8,135.6 L940,120.3 L932.2,104.9 L924.3,89.6 L916.4,74.3 L908.5,59 L900.6,43.8 L892.6,28.5 L884.6,13.3 L876.6,-1.9 L868.6,-17 L860.5,-32.2 L852.4,-47.3 L844.3,-62.4 L836.1,-77.4 L827.9,-92.5 L819.7,-107.5 L811.5,-122.5 L803.2,-137.4 L794.9,-152.4 L786.6,-167.3 L778.3,-182.2 L769.9,-197 L761.5,-211.8 L753.1,-226.6 L744.6,-241.4 L736.1,-256.1 L727.6,-270.8 L719.1,-285.5 L710.5,-300.2 L702,-314.8 L693.4,-329.3 L684.7,-343.9 L676.1,-358.4 L667.4,-372.9 L658.7,-387.4 L650,-401.8 L641.2,-416.2 L632.4,-430.5 L623.6,-444.9 L614.8,-459.1 L605.9,-473.4 L597.1,-487.6 L588.2,-501.8 L579.2,-516 L570.3,-530.1 L561.3,-544.1 L552.3,-558.2 L543.3,-572.2M1820.8,1456.6 L1814.8,1441 L1808.8,1425.4 L1802.7,1409.8 L1796.6,1394.2 L1790.4,1378.6 L1784.1,1363 L1777.8,1347.4 L1771.5,1331.8 L1765,1316.3 L1758.6,1300.7 L1752,1285.1 L1745.5,1269.6 L1738.8,1254 L1732.2,1238.5 L1725.4,1222.9 L1718.6,1207.4 L1711.8,1191.9 L1704.9,1176.4 L1698,1160.8 L1691,1145.3 L1683.9,1129.8 L1676.8,1114.4 L1669.7,1098.9 L1662.5,1083.4 L1655.2,1067.9 L1647.9,1052.5 L1640.5,1037 L1633.1,1021.6 L1625.7,1006.2 L1618.2,990.8 L1610.6,975.4 L1603,960 L1595.4,944.6 L1587.7,929.2 L1580,913.9 L1572.2,898.5 L1564.3,883.2 L1556.4,867.9 L1548.5,852.5 L1540.5,837.3 L1532.5,822 L1524.4,806.7 L1516.3,791.5 L1508.2,776.2 L1499.9,761 L1491.7,745.8 L1483.4,730.6 L1475,715.4 L1466.7,700.2 L1458.2,685.1 L1449.7,670 L1441.2,654.9 L1432.7,639.8 L1424,624.7 L1415.4,609.6 L1406.7,594.6 L1398,579.6 L1389.2,564.6 L1380.3,549.6 L1371.5,534.6 L1362.6,519.7 L1353.6,504.7 L1344.6,489.8 L1335.6,475 L1326.5,460.1 L1317.4,445.3 L1308.2,430.4 L1299,415.6 L1289.8,400.9 L1280.5,386.1 L1271.2,371.4 L1261.9,356.7 L1252.5,342 L1243,327.3 L1233.5,312.7 L1224,298.1 L1214.5,283.5 L1204.9,268.9 L1195.3,254.4 L1185.6,239.9 L1175.9,225.4 L1166.1,210.9 L1156.4,196.5 L1146.5,182.1 L1136.7,167.7 L1126.8,153.3 L1116.9,139 L1106.9,124.7 L1096.9,110.4 L1086.9,96.2 L1076.8,82 L1066.7,67.8 L1056.5,53.6 L1046.4,39.5 L1036.1,25.4 L1025.9,11.4 L1015.6,-2.7 L1005.3,-16.7 L994.9,-30.6 L984.5,-44.6 L974.1,-58.5 L963.7,-72.4 L953.2,-86.2 L942.7,-100 L932.1,-113.8 L921.5,-127.5 L910.9,-141.2 L900.3,-154.9 L889.6,-168.5 L878.8,-182.1 L868.1,-195.7 L857.3,-209.2 L846.5,-222.7 L835.7,-236.2 L824.8,-249.6 L813.9,-263 L802.9,-276.3 L792,-289.6 L781,-302.9 L770,-316.1 L758.9,-329.3 L747.8,-342.5 L736.7,-355.6 L725.5,-368.7 L714.4,-381.7 L703.2,-394.7 L691.9,-407.6 L680.7,-420.6 L669.4,-433.4 L658,-446.3 L646.7,-459 L635.3,-471.8 L623.9,-484.5 L612.5,-497.2 L601,-509.8 L589.5,-522.3 L578,-534.9 L566.5,-547.4 L554.9,-559.8 L543.3,-572.2M2098.5,1275.6 L2091,1260.5 L2083.5,1245.4 L2075.8,1230.4 L2068.2,1215.3 L2060.4,1200.3 L2052.6,1185.3 L2044.8,1170.3 L2036.8,1155.3 L2028.8,1140.4 L2020.8,1125.4 L2012.6,1110.5 L2004.4,1095.6 L1996.2,1080.7 L1987.9,1065.8 L1979.5,1051 L1971,1036.1 L1962.5,1021.3 L1954,1006.5 L1945.3,991.7 L1936.7,977 L1927.9,962.2 L1919.1,947.5 L1910.2,932.8 L1901.3,918.1 L1892.3,903.5 L1883.3,888.9 L1874.2,874.2 L1865,859.6 L1855.8,845.1 L1846.5,830.5 L1837.2,816 L1827.8,801.5 L1818.4,787 L1808.9,772.6 L1799.3,758.1 L1789.7,743.7 L1780,729.3 L1770.3,715 L1760.5,700.6 L1750.7,686.3 L1740.8,672 L1730.9,657.8 L1720.9,643.5 L1710.8,629.3 L1700.7,615.1 L1690.6,601 L1680.4,586.8 L1670.1,572.7 L1659.8,558.7 L1649.5,544.6 L1639.1,530.6 L1628.6,516.6 L1618.1,502.6 L1607.5,488.7 L1596.9,474.8 L1586.3,460.9 L1575.6,447 L1564.8,433.2 L1554,419.4 L1543.2,405.7 L1532.3,391.9 L1521.3,378.2 L1510.3,364.6 L1499.3,350.9 L1488.2,337.3 L1477.1,323.7 L1465.9,310.2 L1454.6,296.7 L1443.4,283.2 L1432.1,269.8 L1420.7,256.4 L1409.3,243 L1397.8,229.6 L1386.3,216.3 L1374.8,203 L1363.2,189.8 L1351.6,176.6 L1339.9,163.4 L1328.2,150.3 L1316.4,137.2 L1304.6,124.1 L1292.8,111.1 L1280.9,98.1 L1269,85.2 L1257,72.2 L1245,59.4 L1233,46.5 L1220.9,33.7 L1208.8,20.9 L1196.6,8.2 L1184.4,-4.5 L1172.1,-17.1 L1159.8,-29.7 L1147.5,-42.3 L1135.2,-54.8 L1122.8,-67.3 L1110.3,-79.8 L1097.8,-92.2 L1085.3,-104.5 L1072.8,-116.9 L1060.2,-129.1 L1047.6,-141.4 L1034.9,-153.6 L1022.2,-165.7 L1009.5,-177.8 L996.7,-189.9 L983.9,-201.9 L971.1,-213.9 L958.2,-225.8 L945.3,-237.7 L932.4,-249.6 L919.4,-261.4 L906.4,-273.1 L893.3,-284.8 L880.2,-296.5 L867.1,-308.1 L854,-319.7 L840.8,-331.2 L827.6,-342.7 L814.4,-354.1 L801.1,-365.5 L787.8,-376.8 L774.5,-388.1 L761.1,-399.4 L747.7,-410.5 L734.3,-421.7 L720.8,-432.8 L707.4,-443.8 L693.8,-454.8 L680.3,-465.7 L666.7,-476.6 L653.1,-487.4 L639.5,-498.2 L625.8,-508.9 L612.1,-519.6 L598.4,-530.2 L584.7,-540.8 L570.9,-551.3 L557.1,-561.8 L543.3,-572.2M2347.4,1056.2 L2338.5,1041.8 L2329.4,1027.4 L2320.3,1013 L2311.1,998.7 L2301.8,984.4 L2292.5,970.2 L2283,955.9 L2273.6,941.7 L2264,927.6 L2254.4,913.4 L2244.7,899.3 L2234.9,885.3 L2225,871.2 L2215.1,857.2 L2205.1,843.3 L2195.1,829.3 L2185,815.4 L2174.8,801.6 L2164.5,787.7 L2154.2,773.9 L2143.8,760.1 L2133.4,746.4 L2122.9,732.7 L2112.3,719 L2101.6,705.4 L2090.9,691.8 L2080.1,678.3 L2069.3,664.7 L2058.4,651.2 L2047.4,637.8 L2036.4,624.4 L2025.3,611 L2014.2,597.6 L2002.9,584.3 L1991.7,571.1 L1980.3,557.8 L1968.9,544.6 L1957.5,531.5 L1946,518.4 L1934.4,505.3 L1922.8,492.2 L1911.1,479.2 L1899.4,466.3 L1887.6,453.3 L1875.7,440.4 L1863.8,427.6 L1851.8,414.8 L1839.8,402 L1827.7,389.3 L1815.6,376.6 L1803.4,363.9 L1791.1,351.3 L1778.8,338.7 L1766.5,326.2 L1754.1,313.7 L1741.6,301.3 L1729.1,288.9 L1716.5,276.5 L1703.9,264.2 L1691.2,251.9 L1678.5,239.7 L1665.8,227.5 L1652.9,215.3 L1640.1,203.2 L1627.2,191.1 L1614.2,179.1 L1601.2,167.1 L1588.1,155.2 L1575,143.3 L1561.9,131.5 L1548.6,119.7 L1535.4,107.9 L1522.1,96.2 L1508.8,84.6 L1495.4,72.9 L1481.9,61.4 L1468.4,49.8 L1454.9,38.4 L1441.4,26.9 L1427.7,15.6 L1414.1,4.2 L1400.4,-7.1 L1386.6,-18.3 L1372.8,-29.5 L1359,-40.7 L1345.1,-51.8 L1331.2,-62.8 L1317.3,-73.8 L1303.3,-84.8 L1289.3,-95.7 L1275.2,-106.5 L1261.1,-117.3 L1246.9,-128.1 L1232.7,-138.8 L1218.5,-149.4 L1204.2,-160 L1189.9,-170.6 L1175.6,-181.1 L1161.2,-191.5 L1146.7,-201.9 L1132.3,-212.2 L1117.8,-222.5 L1103.3,-232.8 L1088.7,-243 L1074.1,-253.1 L1059.5,-263.2 L1044.8,-273.2 L1030.1,-283.2 L1015.3,-293.1 L1000.6,-302.9 L985.8,-312.7 L970.9,-322.5 L956,-332.2 L941.1,-341.8 L926.2,-351.4 L911.2,-361 L896.2,-370.4 L881.2,-379.8 L866.1,-389.2 L851,-398.5 L835.9,-407.8 L820.8,-416.9 L805.6,-426.1 L790.4,-435.1 L775.1,-444.2 L759.9,-453.1 L744.6,-462 L729.2,-470.9 L713.9,-479.6 L698.5,-488.3 L683.1,-497 L667.7,-505.6 L652.2,-514.1 L636.7,-522.6 L621.2,-531 L605.7,-539.4 L590.1,-547.7 L574.5,-555.9 L558.9,-564.1 L543.3,-572.2M2560.9,799.8 L2550.5,786.2 L2539.9,772.7 L2529.3,759.3 L2518.6,745.9 L2507.9,732.5 L2497,719.2 L2486.1,706 L2475.1,692.8 L2464,679.6 L2452.9,666.5 L2441.6,653.4 L2430.3,640.4 L2419,627.5 L2407.5,614.6 L2396,601.7 L2384.4,588.9 L2372.7,576.1 L2361,563.4 L2349.2,550.7 L2337.3,538.1 L2325.4,525.6 L2313.4,513.1 L2301.3,500.6 L2289.2,488.2 L2277,475.8 L2264.7,463.5 L2252.3,451.2 L2239.9,439 L2227.5,426.9 L2214.9,414.8 L2202.3,402.7 L2189.7,390.7 L2176.9,378.8 L2164.1,366.9 L2151.3,355 L2138.4,343.2 L2125.4,331.5 L2112.3,319.8 L2099.3,308.1 L2086.1,296.5 L2072.9,285 L2059.6,273.5 L2046.3,262.1 L2032.9,250.7 L2019.4,239.4 L2005.9,228.1 L1992.4,216.9 L1978.7,205.7 L1965.1,194.6 L1951.3,183.5 L1937.5,172.5 L1923.7,161.6 L1909.8,150.7 L1895.9,139.8 L1881.9,129 L1867.8,118.3 L1853.7,107.6 L1839.6,97 L1825.3,86.4 L1811.1,75.9 L1796.8,65.5 L1782.4,55.1 L1768,44.7 L1753.6,34.4 L1739.1,24.2 L1724.5,14 L1709.9,3.9 L1695.3,-6.2 L1680.6,-16.2 L1665.8,-26.2 L1651,-36.1 L1636.2,-45.9 L1621.3,-55.7 L1606.4,-65.4 L1591.4,-75.1 L1576.4,-84.7 L1561.4,-94.3 L1546.3,-103.8 L1531.1,-113.2 L1515.9,-122.6 L1500.7,-131.9 L1485.4,-141.2 L1470.1,-150.4 L1454.8,-159.5 L1439.4,-168.6 L1424,-177.6 L1408.5,-186.6 L1393,-195.5 L1377.5,-204.4 L1361.9,-213.1 L1346.3,-221.9 L1330.6,-230.5 L1314.9,-239.1 L1299.2,-247.7 L1283.4,-256.2 L1267.6,-264.6 L1251.8,-273 L1235.9,-281.3 L1220,-289.5 L1204.1,-297.7 L1188.1,-305.8 L1172.1,-313.9 L1156,-321.9 L1140,-329.8 L1123.9,-337.7 L1107.7,-345.5 L1091.6,-353.2 L1075.4,-360.9 L1059.1,-368.5 L1042.9,-376.1 L1026.6,-383.6 L1010.3,-391 L993.9,-398.3 L977.6,-405.6 L961.2,-412.9 L944.7,-420 L928.3,-427.1 L911.8,-434.2 L895.3,-441.2 L878.8,-448.1 L862.2,-454.9 L845.6,-461.7 L829,-468.4 L812.4,-475 L795.7,-481.6 L779,-488.1 L762.3,-494.6 L745.6,-501 L728.9,-507.3 L712.1,-513.5 L695.3,-519.7 L678.5,-525.8 L661.7,-531.8 L644.8,-537.8 L627.9,-543.7 L611.1,-549.5 L594.1,-555.3 L577.2,-561 L560.3,-566.6 L543.3,-572.2M2731.7,508.3 L2719.8,495.9 L2707.8,483.5 L2695.8,471.2 L2683.6,459 L2671.4,446.8 L2659.1,434.7 L2646.8,422.7 L2634.3,410.7 L2621.8,398.8 L2609.2,387 L2596.6,375.2 L2583.8,363.5 L2571,351.9 L2558.1,340.4 L2545.2,328.9 L2532.2,317.4 L2519.1,306.1 L2505.9,294.8 L2492.7,283.6 L2479.4,272.4 L2466,261.3 L2452.6,250.3 L2439.1,239.3 L2425.6,228.4 L2411.9,217.6 L2398.2,206.9 L2384.5,196.2 L2370.7,185.6 L2356.8,175 L2342.8,164.5 L2328.8,154.1 L2314.8,143.7 L2300.6,133.4 L2286.5,123.2 L2272.2,113.1 L2257.9,103 L2243.5,93 L2229.1,83 L2214.6,73.1 L2200.1,63.3 L2185.5,53.6 L2170.8,43.9 L2156.1,34.2 L2141.4,24.7 L2126.6,15.2 L2111.7,5.8 L2096.8,-3.6 L2081.8,-12.8 L2066.8,-22 L2051.7,-31.2 L2036.6,-40.3 L2021.4,-49.3 L2006.1,-58.2 L1990.9,-67.1 L1975.5,-75.9 L1960.2,-84.7 L1944.7,-93.3 L1929.3,-102 L1913.7,-110.5 L1898.2,-119 L1882.6,-127.4 L1866.9,-135.7 L1851.2,-144 L1835.4,-152.2 L1819.6,-160.3 L1803.8,-168.4 L1787.9,-176.4 L1772,-184.3 L1756,-192.2 L1740,-200 L1724,-207.7 L1707.9,-215.4 L1691.7,-222.9 L1675.6,-230.5 L1659.4,-237.9 L1643.1,-245.3 L1626.8,-252.6 L1610.5,-259.9 L1594.1,-267.1 L1577.7,-274.2 L1561.3,-281.2 L1544.8,-288.2 L1528.3,-295.1 L1511.8,-301.9 L1495.2,-308.7 L1478.6,-315.4 L1461.9,-322 L1445.3,-328.6 L1428.5,-335.1 L1411.8,-341.5 L1395,-347.8 L1378.2,-354.1 L1361.4,-360.3 L1344.5,-366.5 L1327.6,-372.5 L1310.7,-378.5 L1293.7,-384.5 L1276.7,-390.3 L1259.7,-396.1 L1242.7,-401.8 L1225.6,-407.5 L1208.5,-413.1 L1191.4,-418.6 L1174.2,-424 L1157,-429.4 L1139.8,-434.7 L1122.6,-439.9 L1105.4,-445.1 L1088.1,-450.2 L1070.8,-455.2 L1053.5,-460.1 L1036.1,-465 L1018.8,-469.8 L1001.4,-474.5 L984,-479.2 L966.5,-483.8 L949.1,-488.3 L931.6,-492.7 L914.1,-497.1 L896.6,-501.4 L879.1,-505.7 L861.6,-509.8 L844,-513.9 L826.4,-517.9 L808.8,-521.8 L791.2,-525.7 L773.6,-529.5 L756,-533.2 L738.3,-536.9 L720.7,-540.5 L703,-544 L685.3,-547.4 L667.6,-550.7 L649.9,-554 L632.1,-557.2 L614.4,-560.4 L596.6,-563.4 L578.9,-566.4 L561.1,-569.3 L543.3,-572.2M2851.7,184.9 L2838.5,173.9 L2825.1,162.9 L2811.7,152.1 L2798.3,141.3 L2784.7,130.6 L2771.1,120 L2757.5,109.5 L2743.7,99 L2729.9,88.7 L2716,78.4 L2702,68.3 L2688,58.2 L2673.9,48.2 L2659.8,38.3 L2645.6,28.4 L2631.3,18.7 L2616.9,9 L2602.5,-0.5 L2588.1,-10 L2573.5,-19.4 L2558.9,-28.8 L2544.3,-38 L2529.5,-47.2 L2514.8,-56.2 L2499.9,-65.2 L2485,-74.1 L2470.1,-83 L2455.1,-91.7 L2440,-100.4 L2424.9,-108.9 L2409.7,-117.4 L2394.5,-125.8 L2379.2,-134.2 L2363.9,-142.4 L2348.5,-150.6 L2333,-158.7 L2317.6,-166.7 L2302,-174.6 L2286.4,-182.5 L2270.8,-190.2 L2255.1,-197.9 L2239.3,-205.5 L2223.5,-213 L2207.7,-220.5 L2191.8,-227.8 L2175.9,-235.1 L2159.9,-242.3 L2143.9,-249.4 L2127.8,-256.4 L2111.7,-263.4 L2095.5,-270.3 L2079.3,-277.1 L2063.1,-283.8 L2046.8,-290.4 L2030.5,-297 L2014.1,-303.5 L1997.7,-309.9 L1981.3,-316.2 L1964.8,-322.5 L1948.2,-328.6 L1931.7,-334.7 L1915.1,-340.7 L1898.4,-346.7 L1881.7,-352.5 L1865,-358.3 L1848.3,-364 L1831.5,-369.6 L1814.7,-375.1 L1797.8,-380.6 L1780.9,-386 L1764,-391.3 L1747,-396.5 L1730,-401.7 L1713,-406.7 L1696,-411.7 L1678.9,-416.7 L1661.8,-421.5 L1644.6,-426.3 L1627.5,-430.9 L1610.3,-435.6 L1593,-440.1 L1575.8,-444.5 L1558.5,-448.9 L1541.2,-453.2 L1523.8,-457.4 L1506.5,-461.6 L1489.1,-465.6 L1471.6,-469.6 L1454.2,-473.6 L1436.7,-477.4 L1419.2,-481.2 L1401.7,-484.8 L1384.2,-488.5 L1366.6,-492 L1349.1,-495.4 L1331.5,-498.8 L1313.8,-502.1 L1296.2,-505.3 L1278.5,-508.5 L1260.9,-511.6 L1243.2,-514.6 L1225.4,-517.5 L1207.7,-520.3 L1190,-523.1 L1172.2,-525.8 L1154.4,-528.4 L1136.6,-530.9 L1118.8,-533.4 L1101,-535.8 L1083.1,-538.1 L1065.2,-540.3 L1047.4,-542.5 L1029.5,-544.6 L1011.6,-546.6 L993.7,-548.5 L975.8,-550.4 L957.8,-552.2 L939.9,-553.9 L921.9,-555.5 L904,-557 L886,-558.5 L868,-559.9 L850,-561.2 L832,-562.5 L814,-563.7 L796,-564.8 L778,-565.8 L759.9,-566.7 L741.9,-567.6 L723.9,-568.4 L705.8,-569.1 L687.8,-569.8 L669.7,-570.3 L651.7,-570.8 L633.6,-571.2 L615.5,-571.6 L597.5,-571.8 L579.4,-572 L561.4,-572.1 L543.3,-572.2M-1250.7,538.1 L-1217.2,587.8 L-1182,636.2 L-1145.4,683.4 L-1107.2,729.3 L-1067.6,773.9 L-1026.7,817.2 L-984.4,859.2 L-940.8,899.8 L-896,939.1 L-850.1,977 L-803,1013.5 L-754.8,1048.6 L-705.6,1082.3 L-655.5,1114.5 L-604.4,1145.3 L-552.4,1174.7 L-499.5,1202.6 L-445.9,1229.1 L-391.6,1254.1 L-336.5,1277.6 L-280.8,1299.6 L-224.5,1320.1 L-167.6,1339.1 L-110.1,1356.6 L-52.2,1372.7 L6.1,1387.2 L64.8,1400.1 L123.9,1411.6 L183.2,1421.5 L242.8,1430 L302.7,1436.8 L362.7,1442.2 L422.8,1446 L483,1448.3 L543.3,1449.1 L603.6,1448.3 L663.8,1446 L723.9,1442.2 L783.9,1436.8 L843.8,1430 L903.4,1421.5 L962.7,1411.6 L1021.8,1400.1 L1080.5,1387.2 L1138.8,1372.7 L1196.7,1356.6 L1254.2,1339.1 L1311.1,1320.1 L1367.4,1299.6 L1423.1,1277.6 L1478.2,1254.1 L1532.5,1229.1 L1586.1,1202.6 L1639,1174.7 L1691,1145.3 L1742.1,1114.5 L1792.2,1082.3 L1841.4,1048.6 L1889.6,1013.5 L1936.7,977 L1982.6,939.1 L2027.4,899.8 L2071,859.2 L2113.3,817.2 L2154.2,773.9 L2193.8,729.3 L2232,683.4 L2268.6,636.2 L2303.8,587.8 L2337.3,538.1 L2369.3,487.3 L2399.5,435.2 L2427.9,382.1 L2454.6,327.8 L2479.4,272.4 L2502.3,216 L2523.2,158.5 L2542.1,100.1 L2558.9,40.8 L2573.5,-19.4 L2586,-80.5 L2596.1,-142.4 L2604,-205 L2609.5,-268.3 L2612.6,-332.2 L2613.2,-396.7 L2611.2,-461.6 L2606.7,-527 L2599.5,-592.8 L2589.6,-658.8M-999.5,296.5 L-972,340.4 L-943,383.2 L-912.6,424.9 L-880.9,465.6 L-847.8,505.3 L-813.5,543.8 L-777.9,581.2 L-741.1,617.4 L-703.1,652.4 L-664.1,686.3 L-624,719 L-582.9,750.4 L-540.8,780.6 L-497.8,809.6 L-453.9,837.3 L-409.2,863.7 L-363.7,888.8 L-317.4,912.6 L-270.4,935.1 L-222.8,956.3 L-174.5,976.2 L-125.7,994.7 L-76.3,1011.9 L-26.4,1027.7 L23.9,1042.2 L74.7,1055.3 L125.8,1067 L177.3,1077.4 L229,1086.4 L281,1094 L333.2,1100.3 L385.6,1105.1 L438.1,1108.6 L490.7,1110.7 L543.3,1111.4 L595.9,1110.7 L648.5,1108.6 L701,1105.1 L753.4,1100.3 L805.6,1094 L857.6,1086.4 L909.3,1077.4 L960.8,1067 L1011.9,1055.3 L1062.7,1042.2 L1113,1027.7 L1162.9,1011.9 L1212.3,994.7 L1261.1,976.2 L1309.4,956.3 L1357,935.1 L1404,912.6 L1450.3,888.8 L1495.8,863.7 L1540.5,837.3 L1584.4,809.6 L1627.4,780.6 L1669.5,750.4 L1710.6,719 L1750.7,686.3 L1789.7,652.4 L1827.7,617.4 L1864.5,581.2 L1900.1,543.8 L1934.4,505.3 L1967.5,465.6 L1999.2,424.9 L2029.6,383.2 L2058.6,340.4 L2086.1,296.5 L2112.1,251.7 L2136.5,206 L2159.4,159.3 L2180.6,111.7 L2200.1,63.3 L2217.9,14.1 L2233.9,-35.9 L2248,-86.7 L2260.4,-138.1 L2270.8,-190.2 L2279.2,-242.9 L2285.7,-296.1 L2290.1,-349.9 L2292.5,-404 L2292.7,-458.6 L2290.8,-513.5 L2286.8,-568.6 L2280.5,-623.9 L2272,-679.4 L2261.2,-734.9M-724.5,75.9 L-703,112.7 L-680.2,148.8 L-656.2,184 L-631,218.4 L-604.6,251.9 L-577.1,284.5 L-548.5,316.2 L-518.9,347 L-488.2,376.8 L-456.6,405.7 L-424,433.5 L-390.5,460.3 L-356.1,486.2 L-320.9,510.9 L-284.9,534.6 L-248.1,557.3 L-210.7,578.8 L-172.5,599.2 L-133.7,618.6 L-94.3,636.8 L-54.4,653.9 L-13.9,669.8 L27.1,684.6 L68.5,698.3 L110.4,710.8 L152.6,722.1 L195.1,732.2 L238,741.2 L281.1,748.9 L324.5,755.5 L368,760.9 L411.7,765.1 L455.5,768.1 L499.4,769.9 L543.3,770.5 L587.2,769.9 L631.1,768.1 L674.9,765.1 L718.6,760.9 L762.1,755.5 L805.5,748.9 L848.6,741.2 L891.5,732.2 L934,722.1 L976.2,710.8 L1018.1,698.3 L1059.5,684.6 L1100.5,669.8 L1141,653.9 L1180.9,636.8 L1220.3,618.6 L1259.1,599.2 L1297.3,578.8 L1334.7,557.3 L1371.5,534.6 L1407.5,510.9 L1442.7,486.2 L1477.1,460.3 L1510.6,433.5 L1543.2,405.7 L1574.8,376.8 L1605.5,347 L1635.1,316.2 L1663.7,284.5 L1691.2,251.9 L1717.6,218.4 L1742.8,184 L1766.8,148.8 L1789.6,112.7 L1811.1,75.9 L1831.3,38.3 L1850.1,0 L1867.5,-39 L1883.6,-78.7 L1898.2,-119 L1911.3,-159.9 L1922.9,-201.3 L1932.9,-243.3 L1941.4,-285.7 L1948.2,-328.6 L1953.5,-371.9 L1957,-415.5 L1958.9,-459.4 L1959.1,-503.6 L1957.5,-548 L1954.2,-592.5 L1949.1,-637 L1942.2,-681.7 L1933.5,-726.3 L1923,-770.8M-429.3,-122.6 L-413.7,-93.8 L-397,-65.5 L-379.4,-37.9 L-360.7,-10.8 L-341.1,15.6 L-320.6,41.3 L-299.2,66.3 L-276.9,90.7 L-253.8,114.3 L-229.8,137.2 L-205.1,159.3 L-179.6,180.6 L-153.4,201.2 L-126.5,220.9 L-99,239.9 L-70.8,257.9 L-42,275.2 L-12.7,291.5 L17.2,307 L47.7,321.6 L78.5,335.3 L109.9,348.1 L141.6,360 L173.7,371 L206.2,381 L239,390.1 L272.1,398.3 L305.4,405.5 L339,411.8 L372.8,417.1 L406.7,421.4 L440.7,424.8 L474.9,427.2 L509.1,428.7 L543.3,429.1 L577.5,428.7 L611.7,427.2 L645.9,424.8 L679.9,421.4 L713.8,417.1 L747.6,411.8 L781.2,405.5 L814.5,398.3 L847.6,390.1 L880.4,381 L912.9,371 L945,360 L976.7,348.1 L1008.1,335.3 L1038.9,321.6 L1069.4,307 L1099.3,291.5 L1128.6,275.2 L1157.4,257.9 L1185.6,239.9 L1213.1,220.9 L1240,201.2 L1266.2,180.6 L1291.7,159.3 L1316.4,137.2 L1340.4,114.3 L1363.5,90.7 L1385.8,66.3 L1407.2,41.3 L1427.7,15.6 L1447.3,-10.8 L1466,-37.9 L1483.6,-65.5 L1500.3,-93.8 L1515.9,-122.6 L1530.5,-151.9 L1544,-181.8 L1556.4,-212.1 L1567.6,-242.9 L1577.7,-274.2 L1586.7,-305.8 L1594.4,-337.8 L1600.9,-370.1 L1606.2,-402.7 L1610.3,-435.6 L1613,-468.6 L1614.5,-501.9 L1614.7,-535.3 L1613.6,-568.9 L1611.1,-602.4 L1607.4,-636.1 L1602.3,-669.7 L1595.8,-703.2 L1588,-736.6 L1578.8,-769.9M-117.5,-297.7 L-107.4,-277.8 L-96.7,-258.2 L-85.2,-239.1 L-73,-220.3 L-60.1,-201.9 L-46.6,-184 L-32.4,-166.5 L-17.6,-149.4 L-2.2,-132.9 L13.8,-116.9 L30.4,-101.3 L47.5,-86.3 L65.2,-71.8 L83.4,-57.9 L102.1,-44.6 L121.2,-31.8 L140.8,-19.6 L160.8,-8 L181.2,3 L202,13.3 L223.1,23 L244.6,32.1 L266.3,40.6 L288.4,48.4 L310.7,55.5 L333.3,62 L356.1,67.8 L379.1,73 L402.2,77.5 L425.5,81.2 L448.9,84.3 L472.4,86.8 L496,88.5 L519.6,89.5 L543.3,89.9 L567,89.5 L590.6,88.5 L614.2,86.8 L637.7,84.3 L661.1,81.2 L684.4,77.5 L707.5,73 L730.5,67.8 L753.3,62 L775.9,55.5 L798.2,48.4 L820.3,40.6 L842,32.1 L863.5,23 L884.6,13.3 L905.4,3 L925.8,-8 L945.8,-19.6 L965.4,-31.8 L984.5,-44.6 L1003.2,-57.9 L1021.4,-71.8 L1039.1,-86.3 L1056.2,-101.3 L1072.8,-116.9 L1088.8,-132.9 L1104.2,-149.4 L1119,-166.5 L1133.2,-184 L1146.7,-201.9 L1159.6,-220.3 L1171.8,-239.1 L1183.3,-258.2 L1194,-277.8 L1204.1,-297.7 L1213.3,-317.9 L1221.8,-338.5 L1229.6,-359.4 L1236.5,-380.5 L1242.7,-401.8 L1248,-423.4 L1252.5,-445.2 L1256.1,-467.2 L1258.9,-489.3 L1260.9,-511.6 L1261.9,-533.9 L1262.2,-556.3 L1261.5,-578.8 L1259.9,-601.3 L1257.5,-623.8 L1254.2,-646.2 L1250,-668.6 L1244.9,-690.9 L1238.9,-713 L1232,-735M207.8,-448.1 L212.6,-437.8 L217.8,-427.7 L223.3,-417.8 L229.3,-408 L235.6,-398.5 L242.2,-389.2 L249.2,-380.1 L256.6,-371.2 L264.2,-362.5 L272.2,-354.1 L280.5,-346 L289.1,-338.1 L298,-330.5 L307.2,-323.2 L316.6,-316.1 L326.3,-309.4 L336.3,-302.9 L346.5,-296.8 L356.9,-291 L367.5,-285.5 L378.3,-280.3 L389.3,-275.5 L400.5,-271 L411.8,-266.9 L423.3,-263.1 L434.9,-259.6 L446.6,-256.5 L458.5,-253.8 L470.4,-251.4 L482.5,-249.4 L494.5,-247.7 L506.7,-246.4 L518.9,-245.5 L531.1,-244.9 L543.3,-244.8 L555.5,-244.9 L567.7,-245.5 L579.9,-246.4 L592.1,-247.7 L604.1,-249.4 L616.2,-251.4 L628.1,-253.8 L640,-256.5 L651.7,-259.6 L663.3,-263.1 L674.8,-266.9 L686.1,-271 L697.3,-275.5 L708.3,-280.3 L719.1,-285.5 L729.7,-291 L740.1,-296.8 L750.3,-302.9 L760.3,-309.4 L770,-316.1 L779.4,-323.2 L788.6,-330.5 L797.5,-338.1 L806.1,-346 L814.4,-354.1 L822.4,-362.5 L830,-371.2 L837.4,-380.1 L844.4,-389.2 L851,-398.5 L857.3,-408 L863.3,-417.8 L868.8,-427.7 L874,-437.8 L878.8,-448.1 L883.2,-458.5 L887.1,-469 L890.7,-479.7 L893.9,-490.5 L896.6,-501.4 L899,-512.4 L900.9,-523.5 L902.3,-534.6 L903.4,-545.8 L904,-557 L904.1,-568.3 L903.8,-579.6 L903.1,-590.8 L901.9,-602.1 L900.3,-613.3 L898.3,-624.5 L895.8,-635.6 L892.9,-646.6 L889.5,-657.6 L885.7,-668.4" fill="none" stroke="#98d4e0" stroke-width="2"/>
<g font-family="'Liberation Sans',sans-serif" font-size="22.6" letter-spacing="0.5" fill="#a6d8e3" text-anchor="middle">
<text x="67" y="43.7">-30°</text>
<text x="208.5" y="43.7">-20°</text>
<text x="328.5" y="43.7">-10°</text>
<text x="438" y="43.7">0°</text>
<text x="543" y="43.7">10°</text>
<text x="648" y="43.7">20°</text>
<text x="755" y="43.7">30°</text>
<text x="878.5" y="43.7">40°</text>
<text x="1019.5" y="43.7">50°</text>
<text x="1190" y="43.7">60°</text>
<text x="1411" y="43.7">70°</text>
<text x="40.5" y="310">60°</text>
<text x="41" y="685.7">50°</text>
<text x="40.5" y="1045.7">40°</text>
<text x="260.4" y="1269.3">0°</text>
<text x="547.5" y="1269.3">10°</text>
<text x="830.6" y="1268.6">20°</text>
<text x="1121.3" y="1268.6">30°</text>
<text x="1422" y="1268.8">40°</text>
<text x="1472" y="461.5">50°</text>
<text x="1472" y="876.8">40°</text>
</g>
<g stroke="#111" stroke-width="2.2" stroke-linejoin="miter">
<path d="M772.5,106.0 l7.2,13.1 h-14.5 z" fill="#a3d07f"/>
<path d="M725.0,134.8 l7.2,13.1 h-14.5 z" fill="#a3d07f"/>
<path d="M686.2,144.8 l7.2,13.1 h-14.5 z" fill="#a3d07f"/>
<path d="M761.8,147.3 l7.2,13.1 h-14.5 z" fill="#a3d07f"/>
<path d="M808.0,171.8 l7.2,13.1 h-14.5 z" fill="#a3d07f"/>
<path d="M598.2,224.8 l7.2,13.1 h-14.5 z" fill="#a3d07f"/>
<path d="M865.0,268.6 l7.2,13.1 h-14.5 z" fill="#a3d07f"/>
<path d="M688.8,269.8 l7.2,13.1 h-14.5 z" fill="#a3d07f"/>
<path d="M766.2,311.6 l7.2,13.1 h-14.5 z" fill="#a3d07f"/>
<path d="M525.0,330.1 l7.2,13.1 h-14.5 z" fill="#a3d07f"/>
<path d="M791.2,356.3 l7.2,13.1 h-14.5 z" fill="#a3d07f"/>
<path d="M838.8,369.6 l7.2,13.1 h-14.5 z" fill="#a3d07f"/>
<path d="M767.5,374.6 l7.2,13.1 h-14.5 z" fill="#a3d07f"/>
<path d="M790.8,387.6 l7.2,13.1 h-14.5 z" fill="#a3d07f"/>
<path d="M747.0,392.1 l7.2,13.1 h-14.5 z" fill="#a3d07f"/>
<path d="M352.5,403.8 l7.2,13.1 h-14.5 z" fill="#a3d07f"/>
<path d="M817.5,410.6 l7.2,13.1 h-14.5 z" fill="#a3d07f"/>
<path d="M561.2,411.8 l7.2,13.1 h-14.5 z" fill="#a3d07f"/>
<path d="M738.8,416.3 l7.2,13.1 h-14.5 z" fill="#a3d07f"/>
<path d="M691.2,420.6 l7.2,13.1 h-14.5 z" fill="#a3d07f"/>
<path d="M551.2,426.3 l7.2,13.1 h-14.5 z" fill="#a3d07f"/>
<path d="M638.0,429.6 l7.2,13.1 h-14.5 z" fill="#a3d07f"/>
<path d="M838.8,433.8 l7.2,13.1 h-14.5 z" fill="#a3d07f"/>
<path d="M458.8,448.8 l7.2,13.1 h-14.5 z" fill="#a3d07f"/>
<path d="M533.8,451.3 l7.2,13.1 h-14.5 z" fill="#a3d07f"/>
<path d="M570.0,458.3 l7.2,13.1 h-14.5 z" fill="#a3d07f"/>
<path d="M755.0,462.6 l7.2,13.1 h-14.5 z" fill="#a3d07f"/>
<path d="M275.0,473.8 l7.2,13.1 h-14.5 z" fill="#a3d07f"/>
<path d="M511.2,478.8 l7.2,13.1 h-14.5 z" fill="#a3d07f"/>
<path d="M836.2,489.6 l7.2,13.1 h-14.5 z" fill="#a3d07f"/>
<path d="M586.8,493.1 l7.2,13.1 h-14.5 z" fill="#a3d07f"/>
<path d="M578.8,512.6 l7.2,13.1 h-14.5 z" fill="#a3d07f"/>
<path d="M632.0,518.1 l7.2,13.1 h-14.5 z" fill="#a3d07f"/>
<path d="M755.0,538.8 l7.2,13.1 h-14.5 z" fill="#e6e87c"/>
<path d="M770.0,541.8 l7.2,13.1 h-14.5 z" fill="#a3d07f"/>
<path d="M292.0,542.1 l7.2,13.1 h-14.5 z" fill="#a3d07f"/>
<path d="M851.2,545.1 l7.2,13.1 h-14.5 z" fill="#e6e87c"/>
<path d="M513.0,550.8 l7.2,13.1 h-14.5 z" fill="#a3d07f"/>
<path d="M603.2,558.8 l7.2,13.1 h-14.5 z" fill="#a3d07f"/>
<path d="M287.5,561.3 l7.2,13.1 h-14.5 z" fill="#a3d07f"/>
<path d="M756.8,565.6 l7.2,13.1 h-14.5 z" fill="#a3d07f"/>
<path d="M583.2,570.6 l7.2,13.1 h-14.5 z" fill="#a3d07f"/>
<path d="M190.0,570.8 l7.2,13.1 h-14.5 z" fill="#a3d07f"/>
<path d="M207.0,587.6 l7.2,13.1 h-14.5 z" fill="#a3d07f"/>
<path d="M510.0,597.6 l7.2,13.1 h-14.5 z" fill="#e6e87c"/>
<path d="M827.5,597.6 l7.2,13.1 h-14.5 z" fill="#e6e87c"/>
<path d="M328.0,602.1 l7.2,13.1 h-14.5 z" fill="#a3d07f"/>
<path d="M557.5,603.8 l7.2,13.1 h-14.5 z" fill="#a3d07f"/>
<path d="M783.2,605.1 l7.2,13.1 h-14.5 z" fill="#e6e87c"/>
<path d="M596.5,612.8 l7.2,13.1 h-14.5 z" fill="#e6e87c"/>
<path d="M567.7,614.1 l7.2,13.1 h-14.5 z" fill="#a3d07f"/>
<path d="M610.3,616.0 l7.2,13.1 h-14.5 z" fill="#a3d07f"/>
<path d="M515.7,617.2 l7.2,13.1 h-14.5 z" fill="#e6e87c"/>
<path d="M548.3,624.8 l7.2,13.1 h-14.5 z" fill="#e6e87c"/>
<path d="M290.4,625.4 l7.2,13.1 h-14.5 z" fill="#a3d07f"/>
<path d="M704.1,631.4 l7.2,13.1 h-14.5 z" fill="#e6e87c"/>
<path d="M585.0,633.8 l7.2,13.1 h-14.5 z" fill="#e6e87c"/>
<path d="M519.4,634.2 l7.2,13.1 h-14.5 z" fill="#a3d07f"/>
<path d="M486.7,637.3 l7.2,13.1 h-14.5 z" fill="#e6e87c"/>
<path d="M535.1,639.8 l7.2,13.1 h-14.5 z" fill="#e6e87c"/>
<path d="M499.5,642.3 l7.2,13.1 h-14.5 z" fill="#e6e87c"/>
<path d="M505.0,642.3 l7.2,13.1 h-14.5 z" fill="#e6e87c"/>
<path d="M630.4,642.9 l7.2,13.1 h-14.5 z" fill="#e6e87c"/>
<path d="M537.0,644.8 l7.2,13.1 h-14.5 z" fill="#e6e87c"/>
<path d="M593.4,648.0 l7.2,13.1 h-14.5 z" fill="#a3d07f"/>
<path d="M321.2,649.2 l7.2,13.1 h-14.5 z" fill="#a3d07f"/>
<path d="M467.3,650.2 l7.2,13.1 h-14.5 z" fill="#a3d07f"/>
<path d="M571.2,651.7 l7.2,13.1 h-14.5 z" fill="#e6e87c"/>
<path d="M360.6,653.2 l7.2,13.1 h-14.5 z" fill="#a3d07f"/>
<path d="M272.9,656.1 l7.2,13.1 h-14.5 z" fill="#a3d07f"/>
<path d="M605.7,657.1 l7.2,13.1 h-14.5 z" fill="#e6e87c"/>
<path d="M320.0,661.1 l7.2,13.1 h-14.5 z" fill="#a3d07f"/>
<path d="M451.9,663.0 l7.2,13.1 h-14.5 z" fill="#e6e87c"/>
<path d="M568.3,663.6 l7.2,13.1 h-14.5 z" fill="#e6e87c"/>
<path d="M440.9,666.1 l7.2,13.1 h-14.5 z" fill="#a3d07f"/>
<path d="M480.1,666.1 l7.2,13.1 h-14.5 z" fill="#e6e87c"/>
<path d="M558.9,669.9 l7.2,13.1 h-14.5 z" fill="#f9a61a"/>
<path d="M705.0,671.1 l7.2,13.1 h-14.5 z" fill="#f9a61a"/>
<path d="M460.6,672.4 l7.2,13.1 h-14.5 z" fill="#e6e87c"/>
<path d="M341.3,673.3 l7.2,13.1 h-14.5 z" fill="#e6e87c"/>
<path d="M234.2,674.1 l7.2,13.1 h-14.5 z" fill="#a3d07f"/>
<path d="M611.6,674.9 l7.2,13.1 h-14.5 z" fill="#f9a61a"/>
<path d="M627.3,674.9 l7.2,13.1 h-14.5 z" fill="#e6e87c"/>
<path d="M365.1,676.4 l7.2,13.1 h-14.5 z" fill="#a3d07f"/>
<path d="M567.7,676.8 l7.2,13.1 h-14.5 z" fill="#f9a61a"/>
<path d="M451.9,678.7 l7.2,13.1 h-14.5 z" fill="#e6e87c"/>
<path d="M610.3,681.2 l7.2,13.1 h-14.5 z" fill="#f9a61a"/>
<path d="M619.7,681.2 l7.2,13.1 h-14.5 z" fill="#cf2a36"/>
<path d="M428.0,682.4 l7.2,13.1 h-14.5 z" fill="#e6e87c"/>
<path d="M468.2,682.4 l7.2,13.1 h-14.5 z" fill="#e6e87c"/>
<path d="M795.4,683.3 l7.2,13.1 h-14.5 z" fill="#e6e87c"/>
<path d="M433.7,683.7 l7.2,13.1 h-14.5 z" fill="#e6e87c"/>
<path d="M597.2,688.7 l7.2,13.1 h-14.5 z" fill="#e6e87c"/>
<path d="M453.1,691.2 l7.2,13.1 h-14.5 z" fill="#e6e87c"/>
<path d="M471.9,692.5 l7.2,13.1 h-14.5 z" fill="#e6e87c"/>
<path d="M302.9,693.1 l7.2,13.1 h-14.5 z" fill="#a3d07f"/>
<path d="M354.7,693.1 l7.2,13.1 h-14.5 z" fill="#a3d07f"/>
<path d="M436.2,693.7 l7.2,13.1 h-14.5 z" fill="#e6e87c"/>
<path d="M628.7,697.9 l7.2,13.1 h-14.5 z" fill="#e6e87c"/>
<path d="M426.8,700.0 l7.2,13.1 h-14.5 z" fill="#a3d07f"/>
<path d="M476.9,700.0 l7.2,13.1 h-14.5 z" fill="#f9a61a"/>
<path d="M583.1,701.7 l7.2,13.1 h-14.5 z" fill="#f9a61a"/>
<path d="M344.0,703.1 l7.2,13.1 h-14.5 z" fill="#a3d07f"/>
<path d="M414.2,705.0 l7.2,13.1 h-14.5 z" fill="#a3d07f"/>
<path d="M533.7,705.4 l7.2,13.1 h-14.5 z" fill="#e6e87c"/>
<path d="M556.9,705.4 l7.2,13.1 h-14.5 z" fill="#f9a61a"/>
<path d="M565.9,705.4 l7.2,13.1 h-14.5 z" fill="#f9a61a"/>
<path d="M271.3,706.3 l7.2,13.1 h-14.5 z" fill="#a3d07f"/>
<path d="M440.6,708.8 l7.2,13.1 h-14.5 z" fill="#e6e87c"/>
<path d="M504.5,709.9 l7.2,13.1 h-14.5 z" fill="#e6e87c"/>
<path d="M455.6,710.0 l7.2,13.1 h-14.5 z" fill="#f9a61a"/>
<path d="M423.6,712.5 l7.2,13.1 h-14.5 z" fill="#e6e87c"/>
<path d="M411.1,715.0 l7.2,13.1 h-14.5 z" fill="#a3d07f"/>
<path d="M565.9,715.1 l7.2,13.1 h-14.5 z" fill="#f9a61a"/>
<path d="M521.0,715.9 l7.2,13.1 h-14.5 z" fill="#f9a61a"/>
<path d="M401.1,716.3 l7.2,13.1 h-14.5 z" fill="#e6e87c"/>
<path d="M591.3,716.6 l7.2,13.1 h-14.5 z" fill="#f9a61a"/>
<path d="M247.0,717.8 l7.2,13.1 h-14.5 z" fill="#a3d07f"/>
<path d="M644.9,718.1 l7.2,13.1 h-14.5 z" fill="#cf2a36"/>
<path d="M607.8,718.9 l7.2,13.1 h-14.5 z" fill="#f9a61a"/>
<path d="M561.4,719.6 l7.2,13.1 h-14.5 z" fill="#f9a61a"/>
<path d="M439.3,720.0 l7.2,13.1 h-14.5 z" fill="#e6e87c"/>
<path d="M538.2,721.1 l7.2,13.1 h-14.5 z" fill="#f9a61a"/>
<path d="M383.5,723.2 l7.2,13.1 h-14.5 z" fill="#e6e87c"/>
<path d="M331.7,724.4 l7.2,13.1 h-14.5 z" fill="#a3d07f"/>
<path d="M458.1,725.1 l7.2,13.1 h-14.5 z" fill="#f9a61a"/>
<path d="M622.0,725.6 l7.2,13.1 h-14.5 z" fill="#cf2a36"/>
<path d="M522.5,726.4 l7.2,13.1 h-14.5 z" fill="#f9a61a"/>
<path d="M448.1,731.3 l7.2,13.1 h-14.5 z" fill="#f9a61a"/>
<path d="M411.7,732.6 l7.2,13.1 h-14.5 z" fill="#e6e87c"/>
<path d="M418.6,733.8 l7.2,13.1 h-14.5 z" fill="#e6e87c"/>
<path d="M657.9,733.9 l7.2,13.1 h-14.5 z" fill="#f9a61a"/>
<path d="M369.5,735.1 l7.2,13.1 h-14.5 z" fill="#a3d07f"/>
<path d="M504.5,735.4 l7.2,13.1 h-14.5 z" fill="#f9a61a"/>
<path d="M627.2,735.4 l7.2,13.1 h-14.5 z" fill="#cf2a36"/>
<path d="M631.7,736.1 l7.2,13.1 h-14.5 z" fill="#cf2a36"/>
<path d="M438.1,736.3 l7.2,13.1 h-14.5 z" fill="#e6e87c"/>
<path d="M428.0,737.6 l7.2,13.1 h-14.5 z" fill="#e6e87c"/>
<path d="M579.3,737.6 l7.2,13.1 h-14.5 z" fill="#cf2a36"/>
<path d="M669.9,737.6 l7.2,13.1 h-14.5 z" fill="#f9a61a"/>
<path d="M401.1,738.2 l7.2,13.1 h-14.5 z" fill="#a3d07f"/>
<path d="M531.4,739.1 l7.2,13.1 h-14.5 z" fill="#cf2a36"/>
<path d="M463.1,741.4 l7.2,13.1 h-14.5 z" fill="#f9a61a"/>
<path d="M560.6,743.6 l7.2,13.1 h-14.5 z" fill="#cf2a36"/>
<path d="M618.3,743.6 l7.2,13.1 h-14.5 z" fill="#cf2a36"/>
<path d="M434.3,743.9 l7.2,13.1 h-14.5 z" fill="#e6e87c"/>
<path d="M512.0,745.8 l7.2,13.1 h-14.5 z" fill="#cf2a36"/>
<path d="M570.4,745.8 l7.2,13.1 h-14.5 z" fill="#cf2a36"/>
<path d="M549.4,747.3 l7.2,13.1 h-14.5 z" fill="#cf2a36"/>
<path d="M681.1,747.3 l7.2,13.1 h-14.5 z" fill="#cf2a36"/>
<path d="M700.6,748.8 l7.2,13.1 h-14.5 z" fill="#f9a61a"/>
<path d="M494.5,749.5 l7.2,13.1 h-14.5 z" fill="#f9a61a"/>
<path d="M360.3,750.1 l7.2,13.1 h-14.5 z" fill="#e6e87c"/>
<path d="M618.3,750.3 l7.2,13.1 h-14.5 z" fill="#f9a61a"/>
<path d="M597.3,751.8 l7.2,13.1 h-14.5 z" fill="#cf2a36"/>
<path d="M607.8,751.8 l7.2,13.1 h-14.5 z" fill="#cf2a36"/>
<path d="M464.4,753.9 l7.2,13.1 h-14.5 z" fill="#f9a61a"/>
<path d="M580.8,754.1 l7.2,13.1 h-14.5 z" fill="#f9a61a"/>
<path d="M344.7,756.4 l7.2,13.1 h-14.5 z" fill="#e6e87c"/>
<path d="M408.0,757.0 l7.2,13.1 h-14.5 z" fill="#e6e87c"/>
<path d="M425.5,757.7 l7.2,13.1 h-14.5 z" fill="#e6e87c"/>
<path d="M509.0,759.3 l7.2,13.1 h-14.5 z" fill="#cf2a36"/>
<path d="M529.9,759.3 l7.2,13.1 h-14.5 z" fill="#cf2a36"/>
<path d="M446.8,761.4 l7.2,13.1 h-14.5 z" fill="#e6e87c"/>
<path d="M352.8,762.7 l7.2,13.1 h-14.5 z" fill="#a3d07f"/>
<path d="M708.8,763.8 l7.2,13.1 h-14.5 z" fill="#cf2a36"/>
<path d="M648.2,764.5 l7.2,13.1 h-14.5 z" fill="#cf2a36"/>
<path d="M722.3,764.5 l7.2,13.1 h-14.5 z" fill="#f9a61a"/>
<path d="M423.0,765.9 l7.2,13.1 h-14.5 z" fill="#f9a61a"/>
<path d="M438.1,765.9 l7.2,13.1 h-14.5 z" fill="#f9a61a"/>
<path d="M337.8,767.7 l7.2,13.1 h-14.5 z" fill="#e6e87c"/>
<path d="M384.2,767.7 l7.2,13.1 h-14.5 z" fill="#e6e87c"/>
<path d="M499.5,768.5 l7.2,13.1 h-14.5 z" fill="#cf2a36"/>
<path d="M481.9,768.9 l7.2,13.1 h-14.5 z" fill="#cf2a36"/>
<path d="M676.6,769.0 l7.2,13.1 h-14.5 z" fill="#cf2a36"/>
<path d="M440.6,769.7 l7.2,13.1 h-14.5 z" fill="#f9a61a"/>
<path d="M525.4,769.8 l7.2,13.1 h-14.5 z" fill="#cf2a36"/>
<path d="M460.6,771.0 l7.2,13.1 h-14.5 z" fill="#f9a61a"/>
<path d="M507.5,771.3 l7.2,13.1 h-14.5 z" fill="#cf2a36"/>
<path d="M732.8,771.3 l7.2,13.1 h-14.5 z" fill="#f9a61a"/>
<path d="M450.6,772.2 l7.2,13.1 h-14.5 z" fill="#f9a61a"/>
<path d="M817.1,774.7 l7.2,13.1 h-14.5 z" fill="#e6e87c"/>
<path d="M602.5,775.8 l7.2,13.1 h-14.5 z" fill="#f9a61a"/>
<path d="M655.7,775.8 l7.2,13.1 h-14.5 z" fill="#cf2a36"/>
<path d="M347.5,777.2 l7.2,13.1 h-14.5 z" fill="#e6e87c"/>
<path d="M516.5,777.3 l7.2,13.1 h-14.5 z" fill="#cf2a36"/>
<path d="M773.2,778.0 l7.2,13.1 h-14.5 z" fill="#e6e87c"/>
<path d="M628.7,781.0 l7.2,13.1 h-14.5 z" fill="#cf2a36"/>
<path d="M411.1,782.2 l7.2,13.1 h-14.5 z" fill="#e6e87c"/>
<path d="M466.9,782.9 l7.2,13.1 h-14.5 z" fill="#cf2a36"/>
<path d="M550.9,784.0 l7.2,13.1 h-14.5 z" fill="#cf2a36"/>
<path d="M600.3,784.0 l7.2,13.1 h-14.5 z" fill="#cf2a36"/>
<path d="M372.2,786.6 l7.2,13.1 h-14.5 z" fill="#f9a61a"/>
<path d="M758.2,787.0 l7.2,13.1 h-14.5 z" fill="#f9a61a"/>
<path d="M361.0,787.3 l7.2,13.1 h-14.5 z" fill="#e6e87c"/>
<path d="M483.2,787.3 l7.2,13.1 h-14.5 z" fill="#f9a61a"/>
<path d="M722.3,787.7 l7.2,13.1 h-14.5 z" fill="#cf2a36"/>
<path d="M406.7,788.5 l7.2,13.1 h-14.5 z" fill="#f9a61a"/>
<path d="M380.4,789.8 l7.2,13.1 h-14.5 z" fill="#f9a61a"/>
<path d="M494.5,790.4 l7.2,13.1 h-14.5 z" fill="#cf2a36"/>
<path d="M664.7,790.7 l7.2,13.1 h-14.5 z" fill="#cf2a36"/>
<path d="M503.0,792.2 l7.2,13.1 h-14.5 z" fill="#cf2a36"/>
<path d="M448.7,794.2 l7.2,13.1 h-14.5 z" fill="#e6e87c"/>
<path d="M626.5,795.2 l7.2,13.1 h-14.5 z" fill="#cf2a36"/>
<path d="M307.4,795.4 l7.2,13.1 h-14.5 z" fill="#e6e87c"/>
<path d="M679.6,798.2 l7.2,13.1 h-14.5 z" fill="#cf2a36"/>
<path d="M619.8,799.0 l7.2,13.1 h-14.5 z" fill="#cf2a36"/>
<path d="M694.6,799.7 l7.2,13.1 h-14.5 z" fill="#cf2a36"/>
<path d="M387.3,799.8 l7.2,13.1 h-14.5 z" fill="#e6e87c"/>
<path d="M655.7,801.2 l7.2,13.1 h-14.5 z" fill="#cf2a36"/>
<path d="M506.0,802.0 l7.2,13.1 h-14.5 z" fill="#cf2a36"/>
<path d="M483.2,802.9 l7.2,13.1 h-14.5 z" fill="#f9a61a"/>
<path d="M359.7,803.6 l7.2,13.1 h-14.5 z" fill="#f9a61a"/>
<path d="M583.1,804.2 l7.2,13.1 h-14.5 z" fill="#cf2a36"/>
<path d="M667.7,804.2 l7.2,13.1 h-14.5 z" fill="#cf2a36"/>
<path d="M685.6,807.2 l7.2,13.1 h-14.5 z" fill="#cf2a36"/>
<path d="M360.3,809.8 l7.2,13.1 h-14.5 z" fill="#f9a61a"/>
<path d="M646.0,811.7 l7.2,13.1 h-14.5 z" fill="#cf2a36"/>
<path d="M367.9,812.3 l7.2,13.1 h-14.5 z" fill="#f9a61a"/>
<path d="M376.6,813.0 l7.2,13.1 h-14.5 z" fill="#e6e87c"/>
<path d="M693.1,814.7 l7.2,13.1 h-14.5 z" fill="#cf2a36"/>
<path d="M478.2,814.8 l7.2,13.1 h-14.5 z" fill="#e6e87c"/>
<path d="M666.2,816.2 l7.2,13.1 h-14.5 z" fill="#cf2a36"/>
<path d="M678.1,817.7 l7.2,13.1 h-14.5 z" fill="#cf2a36"/>
<path d="M626.5,818.4 l7.2,13.1 h-14.5 z" fill="#cf2a36"/>
<path d="M524.7,822.2 l7.2,13.1 h-14.5 z" fill="#cf2a36"/>
<path d="M694.6,823.7 l7.2,13.1 h-14.5 z" fill="#cf2a36"/>
<path d="M303.5,824.2 l7.2,13.1 h-14.5 z" fill="#e6e87c"/>
<path d="M723.1,825.2 l7.2,13.1 h-14.5 z" fill="#e6e87c"/>
<path d="M606.3,825.9 l7.2,13.1 h-14.5 z" fill="#cf2a36"/>
<path d="M652.7,828.2 l7.2,13.1 h-14.5 z" fill="#cf2a36"/>
<path d="M475.1,830.5 l7.2,13.1 h-14.5 z" fill="#cf2a36"/>
<path d="M571.1,834.2 l7.2,13.1 h-14.5 z" fill="#cf2a36"/>
<path d="M613.8,834.2 l7.2,13.1 h-14.5 z" fill="#cf2a36"/>
<path d="M664.7,834.2 l7.2,13.1 h-14.5 z" fill="#cf2a36"/>
<path d="M643.7,835.7 l7.2,13.1 h-14.5 z" fill="#cf2a36"/>
<path d="M676.6,835.7 l7.2,13.1 h-14.5 z" fill="#cf2a36"/>
<path d="M628.7,837.1 l7.2,13.1 h-14.5 z" fill="#cf2a36"/>
<path d="M700.6,837.1 l7.2,13.1 h-14.5 z" fill="#6e3f80"/>
<path d="M495.1,838.7 l7.2,13.1 h-14.5 z" fill="#6e3f80"/>
<path d="M687.1,840.1 l7.2,13.1 h-14.5 z" fill="#cf2a36"/>
<path d="M633.2,843.9 l7.2,13.1 h-14.5 z" fill="#f9a61a"/>
<path d="M615.3,844.6 l7.2,13.1 h-14.5 z" fill="#cf2a36"/>
<path d="M541.2,848.4 l7.2,13.1 h-14.5 z" fill="#6e3f80"/>
<path d="M506.0,849.1 l7.2,13.1 h-14.5 z" fill="#cf2a36"/>
<path d="M552.4,849.1 l7.2,13.1 h-14.5 z" fill="#cf2a36"/>
<path d="M667.7,849.1 l7.2,13.1 h-14.5 z" fill="#cf2a36"/>
<path d="M518.0,849.9 l7.2,13.1 h-14.5 z" fill="#cf2a36"/>
<path d="M568.9,849.9 l7.2,13.1 h-14.5 z" fill="#e6e87c"/>
<path d="M343.4,850.0 l7.2,13.1 h-14.5 z" fill="#e6e87c"/>
<path d="M561.4,850.6 l7.2,13.1 h-14.5 z" fill="#cf2a36"/>
<path d="M679.6,850.6 l7.2,13.1 h-14.5 z" fill="#cf2a36"/>
<path d="M688.6,850.6 l7.2,13.1 h-14.5 z" fill="#cf2a36"/>
<path d="M587.6,851.4 l7.2,13.1 h-14.5 z" fill="#f9a61a"/>
<path d="M529.2,852.1 l7.2,13.1 h-14.5 z" fill="#cf2a36"/>
<path d="M406.1,853.1 l7.2,13.1 h-14.5 z" fill="#cf2a36"/>
<path d="M627.2,853.6 l7.2,13.1 h-14.5 z" fill="#cf2a36"/>
<path d="M766.5,854.4 l7.2,13.1 h-14.5 z" fill="#f9a61a"/>
<path d="M469.4,856.2 l7.2,13.1 h-14.5 z" fill="#f9a61a"/>
<path d="M574.9,856.6 l7.2,13.1 h-14.5 z" fill="#cf2a36"/>
<path d="M306.4,857.5 l7.2,13.1 h-14.5 z" fill="#e6e87c"/>
<path d="M291.4,861.2 l7.2,13.1 h-14.5 z" fill="#e6e87c"/>
<path d="M643.7,862.6 l7.2,13.1 h-14.5 z" fill="#cf2a36"/>
<path d="M543.4,864.1 l7.2,13.1 h-14.5 z" fill="#cf2a36"/>
<path d="M612.3,864.1 l7.2,13.1 h-14.5 z" fill="#6e3f80"/>
<path d="M660.2,864.1 l7.2,13.1 h-14.5 z" fill="#cf2a36"/>
<path d="M506.7,864.8 l7.2,13.1 h-14.5 z" fill="#6e3f80"/>
<path d="M472.5,865.0 l7.2,13.1 h-14.5 z" fill="#cf2a36"/>
<path d="M951.0,865.0 l7.2,13.1 h-14.5 z" fill="#a3d07f"/>
<path d="M370.0,865.2 l7.2,13.1 h-14.5 z" fill="#f9a61a"/>
<path d="M672.2,865.6 l7.2,13.1 h-14.5 z" fill="#cf2a36"/>
<path d="M619.8,867.1 l7.2,13.1 h-14.5 z" fill="#f9a61a"/>
<path d="M682.6,870.1 l7.2,13.1 h-14.5 z" fill="#cf2a36"/>
<path d="M392.9,873.1 l7.2,13.1 h-14.5 z" fill="#f9a61a"/>
<path d="M471.9,873.1 l7.2,13.1 h-14.5 z" fill="#cf2a36"/>
<path d="M634.7,876.1 l7.2,13.1 h-14.5 z" fill="#6e3f80"/>
<path d="M613.8,877.0 l7.2,13.1 h-14.5 z" fill="#f9a61a"/>
<path d="M657.2,877.0 l7.2,13.1 h-14.5 z" fill="#cf2a36"/>
<path d="M669.2,877.0 l7.2,13.1 h-14.5 z" fill="#cf2a36"/>
<path d="M688.6,877.0 l7.2,13.1 h-14.5 z" fill="#cf2a36"/>
<path d="M296.8,880.0 l7.2,13.1 h-14.5 z" fill="#e6e87c"/>
<path d="M630.4,880.7 l7.2,13.1 h-14.5 z" fill="#f9a61a"/>
<path d="M650.5,888.2 l7.2,13.1 h-14.5 z" fill="#6e3f80"/>
<path d="M502.5,890.1 l7.2,13.1 h-14.5 z" fill="#cf2a36"/>
<path d="M499.5,891.3 l7.2,13.1 h-14.5 z" fill="#6e3f80"/>
<path d="M677.4,891.3 l7.2,13.1 h-14.5 z" fill="#6e3f80"/>
<path d="M388.9,893.2 l7.2,13.1 h-14.5 z" fill="#f9a61a"/>
<path d="M448.1,893.8 l7.2,13.1 h-14.5 z" fill="#6e3f80"/>
<path d="M517.6,895.1 l7.2,13.1 h-14.5 z" fill="#6e3f80"/>
<path d="M569.6,895.1 l7.2,13.1 h-14.5 z" fill="#6e3f80"/>
<path d="M599.0,895.1 l7.2,13.1 h-14.5 z" fill="#cf2a36"/>
<path d="M475.7,895.7 l7.2,13.1 h-14.5 z" fill="#cf2a36"/>
<path d="M354.1,898.2 l7.2,13.1 h-14.5 z" fill="#f9a61a"/>
<path d="M411.7,898.2 l7.2,13.1 h-14.5 z" fill="#cf2a36"/>
<path d="M749.5,900.1 l7.2,13.1 h-14.5 z" fill="#e6e87c"/>
<path d="M754.4,900.1 l7.2,13.1 h-14.5 z" fill="#e6e87c"/>
<path d="M636.7,900.7 l7.2,13.1 h-14.5 z" fill="#6e3f80"/>
<path d="M526.3,901.4 l7.2,13.1 h-14.5 z" fill="#6e3f80"/>
<path d="M626.6,905.1 l7.2,13.1 h-14.5 z" fill="#6e3f80"/>
<path d="M603.4,905.7 l7.2,13.1 h-14.5 z" fill="#6e3f80"/>
<path d="M622.9,908.9 l7.2,13.1 h-14.5 z" fill="#6e3f80"/>
<path d="M470.7,910.1 l7.2,13.1 h-14.5 z" fill="#6e3f80"/>
<path d="M659.9,912.6 l7.2,13.1 h-14.5 z" fill="#cf2a36"/>
<path d="M490.1,915.1 l7.2,13.1 h-14.5 z" fill="#6e3f80"/>
<path d="M589.0,915.1 l7.2,13.1 h-14.5 z" fill="#6e3f80"/>
<path d="M427.4,916.4 l7.2,13.1 h-14.5 z" fill="#cf2a36"/>
<path d="M413.6,918.3 l7.2,13.1 h-14.5 z" fill="#cf2a36"/>
<path d="M532.6,918.9 l7.2,13.1 h-14.5 z" fill="#6e3f80"/>
<path d="M391.0,920.2 l7.2,13.1 h-14.5 z" fill="#f9a61a"/>
<path d="M476.9,920.2 l7.2,13.1 h-14.5 z" fill="#6e3f80"/>
<path d="M278.6,921.4 l7.2,13.1 h-14.5 z" fill="#e6e87c"/>
<path d="M380.4,925.9 l7.2,13.1 h-14.5 z" fill="#cf2a36"/>
<path d="M550.8,927.7 l7.2,13.1 h-14.5 z" fill="#6e3f80"/>
<path d="M582.7,927.7 l7.2,13.1 h-14.5 z" fill="#6e3f80"/>
<path d="M936.2,927.7 l7.2,13.1 h-14.5 z" fill="#a3d07f"/>
<path d="M484.5,928.5 l7.2,13.1 h-14.5 z" fill="#6e3f80"/>
<path d="M458.1,928.9 l7.2,13.1 h-14.5 z" fill="#6e3f80"/>
<path d="M516.3,928.9 l7.2,13.1 h-14.5 z" fill="#6e3f80"/>
<path d="M456.9,933.5 l7.2,13.1 h-14.5 z" fill="#6e3f80"/>
<path d="M528.8,934.7 l7.2,13.1 h-14.5 z" fill="#6e3f80"/>
<path d="M543.9,936.0 l7.2,13.1 h-14.5 z" fill="#6e3f80"/>
<path d="M572.1,938.5 l7.2,13.1 h-14.5 z" fill="#6e3f80"/>
<path d="M516.3,941.0 l7.2,13.1 h-14.5 z" fill="#6e3f80"/>
<path d="M505.0,942.2 l7.2,13.1 h-14.5 z" fill="#6e3f80"/>
<path d="M480.7,943.5 l7.2,13.1 h-14.5 z" fill="#6e3f80"/>
<path d="M590.3,944.8 l7.2,13.1 h-14.5 z" fill="#6e3f80"/>
<path d="M428.0,946.6 l7.2,13.1 h-14.5 z" fill="#6e3f80"/>
<path d="M582.7,946.6 l7.2,13.1 h-14.5 z" fill="#cf2a36"/>
<path d="M523.8,951.0 l7.2,13.1 h-14.5 z" fill="#6e3f80"/>
<path d="M591.5,951.0 l7.2,13.1 h-14.5 z" fill="#cf2a36"/>
<path d="M176.2,952.3 l7.2,13.1 h-14.5 z" fill="#e6e87c"/>
<path d="M71.5,954.2 l7.2,13.1 h-14.5 z" fill="#e6e87c"/>
<path d="M499.5,954.8 l7.2,13.1 h-14.5 z" fill="#6e3f80"/>
<path d="M503.8,956.0 l7.2,13.1 h-14.5 z" fill="#6e3f80"/>
<path d="M317.7,959.8 l7.2,13.1 h-14.5 z" fill="#f9a61a"/>
<path d="M553.7,959.8 l7.2,13.1 h-14.5 z" fill="#cf2a36"/>
<path d="M228.2,963.0 l7.2,13.1 h-14.5 z" fill="#e6e87c"/>
<path d="M540.1,963.6 l7.2,13.1 h-14.5 z" fill="#f9a61a"/>
<path d="M100.3,964.2 l7.2,13.1 h-14.5 z" fill="#e6e87c"/>
<path d="M469.4,964.8 l7.2,13.1 h-14.5 z" fill="#6e3f80"/>
<path d="M565.8,964.8 l7.2,13.1 h-14.5 z" fill="#6e3f80"/>
<path d="M188.7,964.9 l7.2,13.1 h-14.5 z" fill="#e6e87c"/>
<path d="M300.2,966.7 l7.2,13.1 h-14.5 z" fill="#f9a61a"/>
<path d="M412.4,967.3 l7.2,13.1 h-14.5 z" fill="#6e3f80"/>
<path d="M839.6,967.3 l7.2,13.1 h-14.5 z" fill="#6e3f80"/>
<path d="M429.3,968.6 l7.2,13.1 h-14.5 z" fill="#cf2a36"/>
<path d="M437.4,968.6 l7.2,13.1 h-14.5 z" fill="#6e3f80"/>
<path d="M608.5,971.1 l7.2,13.1 h-14.5 z" fill="#6e3f80"/>
<path d="M241.3,971.1 l7.2,13.1 h-14.5 z" fill="#a3d07f"/>
<path d="M598.4,971.7 l7.2,13.1 h-14.5 z" fill="#6e3f80"/>
<path d="M281.3,973.0 l7.2,13.1 h-14.5 z" fill="#e6e87c"/>
<path d="M569.0,973.0 l7.2,13.1 h-14.5 z" fill="#6e3f80"/>
<path d="M554.5,974.2 l7.2,13.1 h-14.5 z" fill="#6e3f80"/>
<path d="M364.3,974.8 l7.2,13.1 h-14.5 z" fill="#cf2a36"/>
<path d="M206.9,974.9 l7.2,13.1 h-14.5 z" fill="#f9a61a"/>
<path d="M470.0,976.1 l7.2,13.1 h-14.5 z" fill="#6e3f80"/>
<path d="M340.3,978.0 l7.2,13.1 h-14.5 z" fill="#f9a61a"/>
<path d="M211.9,978.7 l7.2,13.1 h-14.5 z" fill="#cf2a36"/>
<path d="M590.5,981.1 l7.2,13.1 h-14.5 z" fill="#cf2a36"/>
<path d="M267.6,981.7 l7.2,13.1 h-14.5 z" fill="#f9a61a"/>
<path d="M373.5,981.7 l7.2,13.1 h-14.5 z" fill="#cf2a36"/>
<path d="M413.6,986.1 l7.2,13.1 h-14.5 z" fill="#cf2a36"/>
<path d="M876.0,987.4 l7.2,13.1 h-14.5 z" fill="#cf2a36"/>
<path d="M605.1,1001.2 l7.2,13.1 h-14.5 z" fill="#6e3f80"/>
<path d="M244.5,1004.4 l7.2,13.1 h-14.5 z" fill="#cf2a36"/>
<path d="M627.3,1004.9 l7.2,13.1 h-14.5 z" fill="#cf2a36"/>
<path d="M295.1,1006.2 l7.2,13.1 h-14.5 z" fill="#f9a61a"/>
<path d="M334.0,1007.4 l7.2,13.1 h-14.5 z" fill="#6e3f80"/>
<path d="M918.6,1011.2 l7.2,13.1 h-14.5 z" fill="#cf2a36"/>
<path d="M590.0,1012.5 l7.2,13.1 h-14.5 z" fill="#cf2a36"/>
<path d="M247.6,1013.1 l7.2,13.1 h-14.5 z" fill="#cf2a36"/>
<path d="M332.7,1013.7 l7.2,13.1 h-14.5 z" fill="#cf2a36"/>
<path d="M362.2,1015.0 l7.2,13.1 h-14.5 z" fill="#cf2a36"/>
<path d="M570.8,1015.0 l7.2,13.1 h-14.5 z" fill="#6e3f80"/>
<path d="M345.9,1016.2 l7.2,13.1 h-14.5 z" fill="#cf2a36"/>
<path d="M618.1,1016.8 l7.2,13.1 h-14.5 z" fill="#6e3f80"/>
<path d="M215.6,1018.8 l7.2,13.1 h-14.5 z" fill="#6e3f80"/>
<path d="M374.1,1019.4 l7.2,13.1 h-14.5 z" fill="#e6e87c"/>
<path d="M530.3,1020.0 l7.2,13.1 h-14.5 z" fill="#cf2a36"/>
<path d="M135.4,1020.7 l7.2,13.1 h-14.5 z" fill="#f9a61a"/>
<path d="M307.0,1021.9 l7.2,13.1 h-14.5 z" fill="#6e3f80"/>
<path d="M353.4,1023.7 l7.2,13.1 h-14.5 z" fill="#cf2a36"/>
<path d="M75.9,1027.6 l7.2,13.1 h-14.5 z" fill="#f9a61a"/>
<path d="M318.3,1028.1 l7.2,13.1 h-14.5 z" fill="#6e3f80"/>
<path d="M523.2,1030.0 l7.2,13.1 h-14.5 z" fill="#6e3f80"/>
<path d="M370.4,1031.9 l7.2,13.1 h-14.5 z" fill="#cf2a36"/>
<path d="M592.2,1032.3 l7.2,13.1 h-14.5 z" fill="#6e3f80"/>
<path d="M205.6,1032.6 l7.2,13.1 h-14.5 z" fill="#f9a61a"/>
<path d="M58.3,1038.2 l7.2,13.1 h-14.5 z" fill="#e6e87c"/>
<path d="M349.0,1038.8 l7.2,13.1 h-14.5 z" fill="#6e3f80"/>
<path d="M513.2,1039.4 l7.2,13.1 h-14.5 z" fill="#cf2a36"/>
<path d="M600.9,1041.0 l7.2,13.1 h-14.5 z" fill="#6e3f80"/>
<path d="M122.9,1041.4 l7.2,13.1 h-14.5 z" fill="#f9a61a"/>
<path d="M696.2,1043.2 l7.2,13.1 h-14.5 z" fill="#cf2a36"/>
<path d="M305.2,1043.8 l7.2,13.1 h-14.5 z" fill="#6e3f80"/>
<path d="M196.8,1043.9 l7.2,13.1 h-14.5 z" fill="#6e3f80"/>
<path d="M94.0,1045.7 l7.2,13.1 h-14.5 z" fill="#cf2a36"/>
<path d="M188.1,1046.4 l7.2,13.1 h-14.5 z" fill="#6e3f80"/>
<path d="M50.2,1047.0 l7.2,13.1 h-14.5 z" fill="#a3d07f"/>
<path d="M681.8,1047.6 l7.2,13.1 h-14.5 z" fill="#cf2a36"/>
<path d="M296.4,1053.8 l7.2,13.1 h-14.5 z" fill="#cf2a36"/>
<path d="M305.2,1053.8 l7.2,13.1 h-14.5 z" fill="#cf2a36"/>
<path d="M277.0,1055.7 l7.2,13.1 h-14.5 z" fill="#cf2a36"/>
<path d="M168.0,1057.7 l7.2,13.1 h-14.5 z" fill="#6e3f80"/>
<path d="M170.5,1062.7 l7.2,13.1 h-14.5 z" fill="#6e3f80"/>
<path d="M36.4,1065.2 l7.2,13.1 h-14.5 z" fill="#e6e87c"/>
<path d="M198.1,1065.2 l7.2,13.1 h-14.5 z" fill="#6e3f80"/>
<path d="M279.5,1067.6 l7.2,13.1 h-14.5 z" fill="#6e3f80"/>
<path d="M291.4,1067.6 l7.2,13.1 h-14.5 z" fill="#6e3f80"/>
<path d="M57.0,1067.7 l7.2,13.1 h-14.5 z" fill="#f9a61a"/>
<path d="M125.4,1067.7 l7.2,13.1 h-14.5 z" fill="#cf2a36"/>
<path d="M736.0,1071.4 l7.2,13.1 h-14.5 z" fill="#6e3f80"/>
<path d="M250.0,1076.4 l7.2,13.1 h-14.5 z" fill="#6e3f80"/>
<path d="M749.5,1079.5 l7.2,13.1 h-14.5 z" fill="#6e3f80"/>
<path d="M755.0,1079.5 l7.2,13.1 h-14.5 z" fill="#6e3f80"/>
<path d="M249.5,1081.0 l7.2,13.1 h-14.5 z" fill="#cf2a36"/>
<path d="M257.5,1087.7 l7.2,13.1 h-14.5 z" fill="#6e3f80"/>
<path d="M270.1,1087.7 l7.2,13.1 h-14.5 z" fill="#6e3f80"/>
<path d="M46.1,1091.7 l7.2,13.1 h-14.5 z" fill="#f9a61a"/>
<path d="M257.5,1094.7 l7.2,13.1 h-14.5 z" fill="#cf2a36"/>
<path d="M270.1,1094.7 l7.2,13.1 h-14.5 z" fill="#6e3f80"/>
<path d="M244.5,1099.2 l7.2,13.1 h-14.5 z" fill="#cf2a36"/>
<path d="M79.2,1100.4 l7.2,13.1 h-14.5 z" fill="#a3d07f"/>
<path d="M364.1,1102.9 l7.2,13.1 h-14.5 z" fill="#f9a61a"/>
<path d="M393.6,1104.1 l7.2,13.1 h-14.5 z" fill="#cf2a36"/>
<path d="M356.3,1104.8 l7.2,13.1 h-14.5 z" fill="#6e3f80"/>
<path d="M91.3,1107.3 l7.2,13.1 h-14.5 z" fill="#f9a61a"/>
<path d="M39.1,1108.6 l7.2,13.1 h-14.5 z" fill="#cf2a36"/>
<path d="M347.2,1109.1 l7.2,13.1 h-14.5 z" fill="#cf2a36"/>
<path d="M522.6,1111.7 l7.2,13.1 h-14.5 z" fill="#cf2a36"/>
<path d="M250.0,1114.8 l7.2,13.1 h-14.5 z" fill="#6e3f80"/>
<path d="M245.7,1115.5 l7.2,13.1 h-14.5 z" fill="#6e3f80"/>
<path d="M313.9,1129.2 l7.2,13.1 h-14.5 z" fill="#e6e87c"/>
<path d="M121.0,1130.5 l7.2,13.1 h-14.5 z" fill="#cf2a36"/>
<path d="M895.4,1131.1 l7.2,13.1 h-14.5 z" fill="#cf2a36"/>
<path d="M62.9,1141.2 l7.2,13.1 h-14.5 z" fill="#cf2a36"/>
<path d="M223.2,1145.6 l7.2,13.1 h-14.5 z" fill="#cf2a36"/>
<path d="M86.5,1154.3 l7.2,13.1 h-14.5 z" fill="#6e3f80"/>
<path d="M90.9,1158.5 l7.2,13.1 h-14.5 z" fill="#6e3f80"/>
<path d="M173.6,1167.3 l7.2,13.1 h-14.5 z" fill="#6e3f80"/>
<path d="M1185.2,1177.5 l7.2,13.1 h-14.5 z" fill="#6e3f80"/>
<path d="M219.2,1178.2 l7.2,13.1 h-14.5 z" fill="#6e3f80"/>
<path d="M110.3,1189.4 l7.2,13.1 h-14.5 z" fill="#cf2a36"/>
</g>
<path d="M33,1240.5 V1249.5 H494 V1240.5 M186.5,1240.5 V1249.5 M340,1240.5 V1249.5" fill="none" stroke="#6d6e71" stroke-width="2"/>
<g font-family="'Liberation Sans',sans-serif" font-size="24" fill="#6d6e71">
<text x="26" y="1235.5" textLength="14" lengthAdjust="spacingAndGlyphs">0</text><text x="165.5" y="1235.5" textLength="44" lengthAdjust="spacing">500</text><text x="306" y="1235.5" textLength="68" lengthAdjust="spacing">1 000</text><text x="455.5" y="1235.5" textLength="111" lengthAdjust="spacing">1 500 km</text>
</g>
</g>
<rect x="1.5" y="1" width="1488" height="1273.5" fill="none" stroke="#231f20" stroke-width="3"/>
<rect x="1548.5" y="1" width="460" height="829.5" fill="#fff" stroke="#231f20" stroke-width="3"/>
<rect x="1605.5" y="327" width="64" height="34" fill="#a3d07f" stroke="#231f20" stroke-width="1.4"/>
<rect x="1605.5" y="379" width="64" height="34" fill="#e6e87c" stroke="#231f20" stroke-width="1.4"/>
<rect x="1605.5" y="432.5" width="64" height="34" fill="#f9a61a" stroke="#231f20" stroke-width="1.4"/>
<rect x="1605.5" y="486.5" width="64" height="34" fill="#cf2a36" stroke="#231f20" stroke-width="1.4"/>
<rect x="1605.5" y="541" width="64" height="34.5" fill="#6e3f80" stroke="#231f20" stroke-width="1.4"/>
<rect x="1609.5" y="644" width="63" height="33.5" fill="#fff" stroke="#231f20" stroke-width="1.4"/>
<rect x="1608.5" y="700" width="63" height="33.5" fill="#dcddde" stroke="#231f20" stroke-width="1.4"/>
<path d="M1638,173 l15.5,28 h-31 z" fill="#fff" stroke="#231f20" stroke-width="1.6"/>
<g font-family="'Liberation Sans',sans-serif" font-size="28" fill="#231f20">
<text x="1567.5" y="55.3" textLength="386" lengthAdjust="spacing" font-weight="bold" stroke="#231f20" stroke-width="0.5">Rural concentration of the</text>
<text x="1567.5" y="90.2" textLength="328" lengthAdjust="spacing" font-weight="bold" stroke="#231f20" stroke-width="0.5">ozone indicator AOT40</text>
<text x="1568" y="125.1" textLength="213" lengthAdjust="spacing" font-weight="bold" stroke="#231f20" stroke-width="0.5">for crops, 2015</text>
<text x="1694.5" y="195.3" textLength="242" lengthAdjust="spacing">Rural background</text>
<text x="1695.5" y="230.5" textLength="94" lengthAdjust="spacing">station</text>
<text x="1598.5" y="289.8" textLength="109" lengthAdjust="spacing">µg.m<tspan dy="-9.5" font-size="16">-3</tspan><tspan dy="9.5">.h</tspan></text>
<text x="1695" y="351" textLength="98.5" lengthAdjust="spacing">&lt; 6 000</text>
<text x="1695" y="404.3" textLength="174.5" lengthAdjust="spacing">6 000-12 000</text>
<text x="1695" y="460.2" textLength="191.5" lengthAdjust="spacing">12 000-18 000</text>
<text x="1695" y="514.2" textLength="191.5" lengthAdjust="spacing">18 000-27 000</text>
<text x="1695" y="568.2" textLength="115.5" lengthAdjust="spacing">&gt; 27 000</text>
<text x="1695" y="670.2" textLength="107.5" lengthAdjust="spacing">No data</text>
<text x="1693.5" y="726.9" textLength="298.5" lengthAdjust="spacing">Countries/regions not</text>
<text x="1694.5" y="761.8" textLength="268" lengthAdjust="spacing">included in the data</text>
<text x="1693.5" y="796.4" textLength="244.5" lengthAdjust="spacing">exchange process</text>
</g>
</svg>
</body></html>
